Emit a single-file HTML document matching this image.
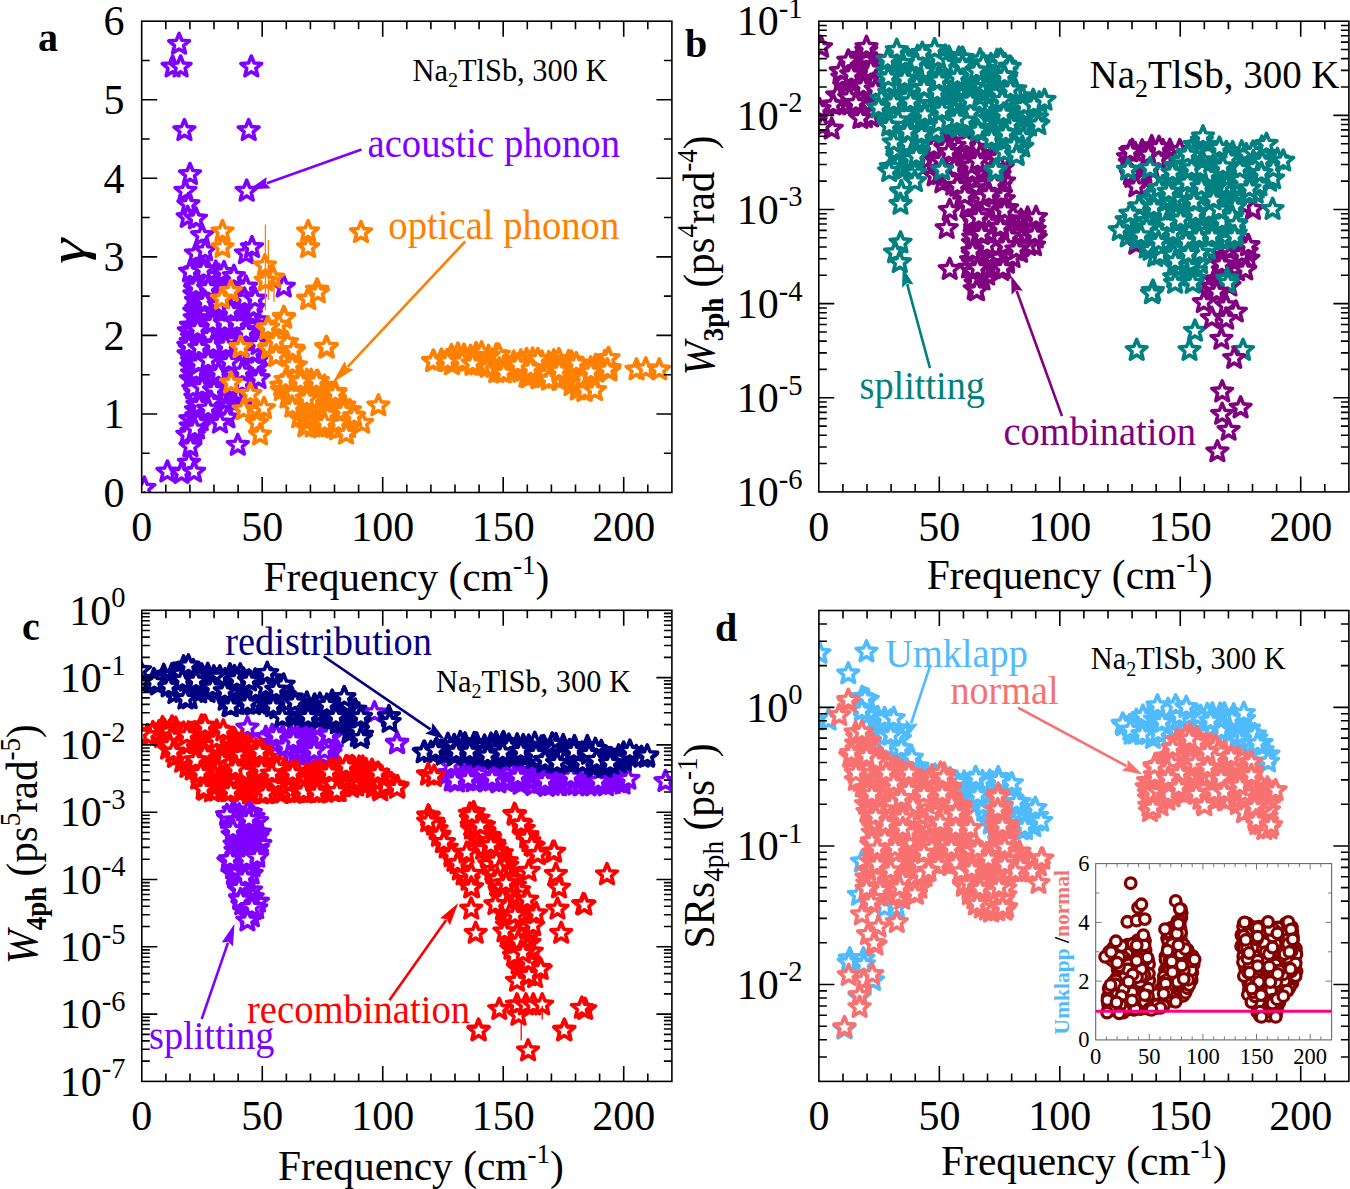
<!DOCTYPE html><html><head><meta charset="utf-8"><style>html,body{margin:0;padding:0;background:#fff;width:1350px;height:1189px;overflow:hidden}svg{display:block}</style></head><body>
<svg width="1350" height="1189" viewBox="0 0 1350 1189">
<defs><path id="st" d="M0.00,-10.90 L2.82,-3.88 L10.37,-3.37 L4.56,1.48 L6.41,8.82 L0.00,4.80 L-6.41,8.82 L-4.56,1.48 L-10.37,-3.37 L-2.82,-3.88Z"/><path id="sn" d="M0.00,-10.90 L2.82,-3.88 L10.37,-3.37 L4.56,1.48 L6.41,8.82 L0.00,4.80 L-6.41,8.82 L-4.56,1.48 L-10.37,-3.37 L-2.82,-3.88Z" fill="none"/></defs>
<rect width="1350" height="1189" fill="#fff"/>
<defs><clipPath id="clipa"><rect x="141.7" y="21.2" width="530.2" height="471.3"/></clipPath><clipPath id="clipb"><rect x="818.8" y="21.2" width="530.1000000000001" height="470.7"/></clipPath><clipPath id="clipc"><rect x="141.8" y="610.3" width="530.0999999999999" height="471.10000000000014"/></clipPath><clipPath id="clipd"><rect x="818.9" y="610.5" width="530.0000000000001" height="470.9000000000001"/></clipPath></defs>
<g clip-path="url(#clipa)">
<g fill="#fff" stroke="#7f00ff" stroke-width="3.6" stroke-linejoin="round">
<use href="#sn" x="214.1" y="414.2"/>
<use href="#sn" x="239.5" y="331.8"/>
<use href="#sn" x="208.6" y="356.9"/>
<use href="#sn" x="220.2" y="398.9"/>
<use href="#sn" x="219.5" y="403.5"/>
<use href="#st" x="195.5" y="277.2"/>
<use href="#st" x="255.9" y="361.5"/>
<use href="#st" x="206.0" y="391.5"/>
<use href="#sn" x="209.6" y="324.2"/>
<use href="#sn" x="233.9" y="377.6"/>
<use href="#sn" x="209.0" y="362.1"/>
<use href="#sn" x="201.3" y="356.6"/>
<use href="#sn" x="195.4" y="397.7"/>
<use href="#sn" x="231.4" y="383.9"/>
<use href="#st" x="201.8" y="372.3"/>
<use href="#sn" x="192.1" y="373.5"/>
<use href="#st" x="231.9" y="293.5"/>
<use href="#st" x="190.9" y="366.8"/>
<use href="#sn" x="192.1" y="361.1"/>
<use href="#st" x="195.0" y="289.1"/>
<use href="#sn" x="202.8" y="414.8"/>
<use href="#sn" x="195.1" y="281.3"/>
<use href="#sn" x="214.9" y="359.5"/>
<use href="#sn" x="215.3" y="323.0"/>
<use href="#st" x="201.4" y="408.3"/>
<use href="#st" x="190.4" y="419.5"/>
<use href="#st" x="249.7" y="348.0"/>
<use href="#sn" x="249.9" y="380.0"/>
<use href="#st" x="206.4" y="311.4"/>
<use href="#sn" x="213.2" y="337.5"/>
<use href="#st" x="256.4" y="367.8"/>
<use href="#sn" x="236.6" y="374.2"/>
<use href="#st" x="243.4" y="312.6"/>
<use href="#st" x="239.1" y="359.7"/>
<use href="#sn" x="220.6" y="288.9"/>
<use href="#st" x="214.8" y="395.5"/>
<use href="#st" x="213.1" y="299.7"/>
<use href="#sn" x="207.6" y="321.1"/>
<use href="#st" x="220.3" y="343.6"/>
<use href="#st" x="202.7" y="359.3"/>
<use href="#st" x="220.3" y="294.1"/>
<use href="#sn" x="212.2" y="306.4"/>
<use href="#sn" x="215.7" y="355.2"/>
<use href="#st" x="202.6" y="343.1"/>
<use href="#st" x="226.5" y="384.5"/>
<use href="#sn" x="203.9" y="403.1"/>
<use href="#st" x="230.2" y="362.7"/>
<use href="#sn" x="215.0" y="289.4"/>
<use href="#st" x="230.9" y="367.0"/>
<use href="#st" x="239.8" y="367.7"/>
<use href="#sn" x="250.4" y="331.6"/>
<use href="#st" x="238.2" y="356.2"/>
<use href="#st" x="220.7" y="374.5"/>
<use href="#st" x="201.1" y="366.0"/>
<use href="#st" x="231.1" y="305.4"/>
<use href="#st" x="226.4" y="302.4"/>
<use href="#sn" x="257.8" y="320.7"/>
<use href="#sn" x="230.1" y="347.9"/>
<use href="#st" x="244.3" y="390.9"/>
<use href="#st" x="250.3" y="344.6"/>
<use href="#sn" x="188.6" y="354.5"/>
<use href="#sn" x="191.0" y="326.0"/>
<use href="#st" x="244.6" y="395.7"/>
<use href="#st" x="221.4" y="308.7"/>
<use href="#st" x="238.6" y="296.2"/>
<use href="#st" x="224.9" y="359.7"/>
<use href="#sn" x="236.6" y="349.4"/>
<use href="#sn" x="203.0" y="383.0"/>
<use href="#st" x="238.3" y="378.1"/>
<use href="#st" x="218.7" y="325.2"/>
<use href="#sn" x="206.8" y="344.7"/>
<use href="#st" x="248.6" y="317.2"/>
<use href="#sn" x="207.2" y="286.9"/>
<use href="#st" x="227.5" y="307.3"/>
<use href="#st" x="208.8" y="403.2"/>
<use href="#sn" x="203.9" y="379.7"/>
<use href="#st" x="242.1" y="378.9"/>
<use href="#sn" x="214.0" y="373.7"/>
<use href="#sn" x="230.9" y="399.0"/>
<use href="#sn" x="213.6" y="329.3"/>
<use href="#st" x="242.0" y="341.6"/>
<use href="#sn" x="242.7" y="300.2"/>
<use href="#sn" x="233.3" y="317.1"/>
<use href="#sn" x="207.4" y="299.1"/>
<use href="#sn" x="237.6" y="341.3"/>
<use href="#st" x="239.0" y="395.8"/>
<use href="#sn" x="239.8" y="386.4"/>
<use href="#sn" x="257.0" y="333.1"/>
<use href="#sn" x="190.7" y="426.6"/>
<use href="#st" x="218.1" y="391.9"/>
<use href="#sn" x="212.7" y="402.9"/>
<use href="#st" x="195.3" y="339.0"/>
<use href="#st" x="209.5" y="395.8"/>
<use href="#st" x="214.1" y="386.7"/>
<use href="#st" x="196.4" y="416.4"/>
<use href="#sn" x="218.3" y="385.9"/>
<use href="#sn" x="202.7" y="317.8"/>
<use href="#sn" x="194.4" y="294.4"/>
<use href="#sn" x="197.6" y="354.6"/>
<use href="#sn" x="256.5" y="355.3"/>
<use href="#st" x="225.8" y="335.1"/>
<use href="#sn" x="244.3" y="296.4"/>
<use href="#sn" x="196.5" y="377.4"/>
<use href="#st" x="206.0" y="349.5"/>
<use href="#sn" x="233.4" y="373.2"/>
<use href="#sn" x="219.9" y="354.3"/>
<use href="#st" x="250.7" y="368.7"/>
<use href="#st" x="228.1" y="329.5"/>
<use href="#sn" x="200.5" y="347.9"/>
<use href="#st" x="249.6" y="360.4"/>
<use href="#st" x="197.1" y="428.8"/>
<use href="#sn" x="196.3" y="309.0"/>
<use href="#sn" x="230.9" y="353.4"/>
<use href="#sn" x="254.5" y="373.8"/>
<use href="#st" x="236.9" y="336.6"/>
<use href="#st" x="202.8" y="307.3"/>
<use href="#st" x="224.2" y="388.9"/>
<use href="#sn" x="219.5" y="283.9"/>
<use href="#st" x="235.9" y="392.3"/>
<use href="#st" x="189.9" y="348.7"/>
<use href="#sn" x="231.1" y="331.5"/>
<use href="#st" x="258.0" y="347.2"/>
<use href="#sn" x="203.1" y="288.9"/>
<use href="#st" x="227.8" y="319.5"/>
<use href="#sn" x="188.8" y="331.5"/>
<use href="#sn" x="241.9" y="350.5"/>
<use href="#sn" x="210.0" y="380.4"/>
<use href="#st" x="195.5" y="270.5"/>
<use href="#sn" x="248.7" y="336.7"/>
<use href="#st" x="225.1" y="353.0"/>
<use href="#sn" x="190.9" y="379.4"/>
<use href="#sn" x="225.0" y="293.4"/>
<use href="#st" x="214.5" y="366.7"/>
<use href="#sn" x="233.9" y="402.8"/>
<use href="#sn" x="243.0" y="374.9"/>
<use href="#st" x="209.4" y="282.3"/>
<use href="#sn" x="230.6" y="391.9"/>
<use href="#sn" x="203.0" y="293.7"/>
<use href="#st" x="257.1" y="338.7"/>
<use href="#sn" x="197.7" y="422.7"/>
<use href="#sn" x="225.6" y="350.1"/>
<use href="#st" x="203.5" y="397.1"/>
<use href="#sn" x="225.1" y="277.3"/>
<use href="#sn" x="196.0" y="410.3"/>
<use href="#st" x="237.8" y="305.0"/>
<use href="#st" x="232.8" y="313.4"/>
<use href="#st" x="218.8" y="275.3"/>
<use href="#st" x="250.4" y="324.4"/>
<use href="#st" x="226.0" y="371.7"/>
<use href="#sn" x="256.1" y="326.4"/>
<use href="#sn" x="231.8" y="334.9"/>
<use href="#st" x="231.8" y="290.3"/>
<use href="#sn" x="203.9" y="335.0"/>
<use href="#st" x="232.9" y="343.2"/>
<use href="#st" x="250.8" y="301.1"/>
<use href="#st" x="239.6" y="288.9"/>
<use href="#st" x="195.6" y="393.0"/>
<use href="#sn" x="220.5" y="347.0"/>
<use href="#st" x="191.6" y="432.1"/>
<use href="#sn" x="201.5" y="325.2"/>
<use href="#sn" x="225.2" y="377.4"/>
<use href="#sn" x="207.3" y="270.0"/>
<use href="#sn" x="220.1" y="299.9"/>
<use href="#sn" x="213.7" y="293.9"/>
<use href="#st" x="222.1" y="408.7"/>
<use href="#st" x="219.9" y="377.1"/>
<use href="#sn" x="203.2" y="302.9"/>
<use href="#st" x="224.1" y="401.1"/>
<use href="#st" x="207.4" y="308.8"/>
<use href="#st" x="197.8" y="343.0"/>
<use href="#sn" x="202.4" y="283.5"/>
<use href="#sn" x="220.2" y="329.4"/>
<use href="#sn" x="250.5" y="305.6"/>
<use href="#sn" x="213.5" y="281.0"/>
<use href="#st" x="196.0" y="359.4"/>
<use href="#sn" x="209.9" y="415.1"/>
<use href="#sn" x="212.2" y="343.3"/>
<use href="#st" x="220.9" y="361.8"/>
<use href="#st" x="242.3" y="360.1"/>
<use href="#st" x="208.8" y="374.4"/>
<use href="#sn" x="225.6" y="326.8"/>
<use href="#st" x="236.5" y="301.7"/>
<use href="#st" x="250.9" y="314.4"/>
<use href="#st" x="196.6" y="349.8"/>
<use href="#st" x="200.9" y="270.8"/>
<use href="#st" x="242.1" y="323.0"/>
<use href="#sn" x="225.5" y="288.5"/>
<use href="#sn" x="242.1" y="317.4"/>
<use href="#st" x="206.5" y="384.4"/>
<use href="#sn" x="196.0" y="301.0"/>
<use href="#st" x="218.1" y="320.5"/>
<use href="#sn" x="256.1" y="341.5"/>
<use href="#sn" x="233.0" y="302.1"/>
<use href="#sn" x="249.4" y="353.8"/>
<use href="#st" x="201.9" y="313.4"/>
<use href="#sn" x="215.9" y="347.2"/>
<use href="#sn" x="195.8" y="325.8"/>
<use href="#sn" x="236.4" y="317.0"/>
<use href="#st" x="218.6" y="368.0"/>
<use href="#sn" x="244.6" y="338.8"/>
<use href="#sn" x="196.8" y="385.6"/>
<use href="#sn" x="237.0" y="326.6"/>
<use href="#sn" x="242.5" y="305.9"/>
<use href="#st" x="208.5" y="331.6"/>
<use href="#st" x="227.9" y="311.0"/>
<use href="#sn" x="236.1" y="315.0"/>
<use href="#sn" x="190.7" y="342.1"/>
<use href="#st" x="249.4" y="371.3"/>
<use href="#st" x="212.1" y="321.0"/>
<use href="#sn" x="201.4" y="275.2"/>
<use href="#sn" x="194.7" y="318.3"/>
<use href="#sn" x="213.2" y="277.0"/>
<use href="#sn" x="214.2" y="311.9"/>
<use href="#sn" x="195.6" y="368.7"/>
<use href="#st" x="200.7" y="420.7"/>
<use href="#sn" x="224.9" y="396.8"/>
<use href="#sn" x="221.4" y="338.0"/>
<use href="#st" x="243.4" y="330.4"/>
<use href="#sn" x="243.9" y="356.2"/>
<use href="#sn" x="220.7" y="312.8"/>
<use href="#st" x="227.5" y="284.7"/>
<use href="#sn" x="203.8" y="333.1"/>
<use href="#st" x="197.4" y="404.9"/>
<use href="#st" x="196.1" y="372.4"/>
<use href="#st" x="209.7" y="336.2"/>
<use href="#st" x="226.5" y="368.9"/>
<use href="#sn" x="214.0" y="389.5"/>
<use href="#st" x="232.6" y="284.8"/>
<use href="#st" x="215.8" y="272.1"/>
<use href="#sn" x="212.8" y="379.8"/>
<use href="#st" x="245.8" y="365.4"/>
<use href="#sn" x="209.6" y="294.7"/>
<use href="#st" x="208.1" y="276.0"/>
<use href="#sn" x="213.4" y="409.8"/>
<use href="#st" x="242.1" y="383.4"/>
<use href="#sn" x="233.9" y="324.3"/>
<use href="#sn" x="194.3" y="431.9"/>
<use href="#sn" x="226.8" y="340.9"/>
<use href="#sn" x="192.0" y="337.5"/>
<use href="#sn" x="201.9" y="389.8"/>
<use href="#sn" x="206.0" y="410.7"/>
<use href="#st" x="197.4" y="329.3"/>
<use href="#sn" x="225.9" y="407.2"/>
<use href="#sn" x="206.8" y="367.7"/>
<use href="#sn" x="194.3" y="311.7"/>
</g>
<g fill="#fff" stroke="#7f00ff" stroke-width="3.6" stroke-linejoin="round">
<use href="#st" x="179.1" y="44.2"/>
<use href="#st" x="172.6" y="66.9"/>
<use href="#st" x="180.6" y="66.9"/>
<use href="#st" x="251.3" y="66.9"/>
<use href="#st" x="184.4" y="130.5"/>
<use href="#st" x="248.7" y="130.5"/>
<use href="#st" x="190.0" y="174.4"/>
<use href="#st" x="185.4" y="191.1"/>
<use href="#st" x="246.7" y="191.1"/>
<use href="#st" x="188.4" y="204.4"/>
<use href="#st" x="187.7" y="217.3"/>
<use href="#st" x="196.0" y="218.8"/>
<use href="#st" x="202.1" y="235.4"/>
<use href="#st" x="196.0" y="253.6"/>
<use href="#st" x="205.1" y="250.6"/>
<use href="#st" x="246.0" y="253.6"/>
<use href="#st" x="252.0" y="247.5"/>
<use href="#st" x="190.0" y="271.8"/>
<use href="#st" x="203.6" y="270.2"/>
<use href="#st" x="224.0" y="272.5"/>
<use href="#st" x="233.9" y="276.3"/>
<use href="#st" x="196.0" y="286.9"/>
<use href="#st" x="208.1" y="288.4"/>
<use href="#st" x="246.0" y="286.9"/>
<use href="#st" x="283.8" y="286.9"/>
<use href="#st" x="197.5" y="329.3"/>
<use href="#st" x="212.7" y="323.2"/>
<use href="#st" x="224.8" y="323.2"/>
<use href="#st" x="236.9" y="323.2"/>
<use href="#st" x="246.0" y="332.3"/>
<use href="#st" x="253.6" y="308.1"/>
<use href="#st" x="230.8" y="311.1"/>
<use href="#st" x="188.4" y="345.9"/>
<use href="#st" x="199.0" y="348.2"/>
<use href="#st" x="213.4" y="343.7"/>
<use href="#st" x="227.8" y="341.4"/>
<use href="#st" x="252.0" y="353.5"/>
<use href="#st" x="199.0" y="364.1"/>
<use href="#st" x="218.7" y="364.1"/>
<use href="#st" x="238.4" y="364.1"/>
<use href="#st" x="255.1" y="365.6"/>
<use href="#st" x="205.1" y="302.0"/>
<use href="#st" x="218.7" y="305.1"/>
<use href="#st" x="244.5" y="299.0"/>
<use href="#st" x="255.1" y="299.0"/>
<use href="#st" x="188.9" y="345.9"/>
<use href="#st" x="199.3" y="348.1"/>
<use href="#st" x="213.3" y="345.2"/>
<use href="#st" x="225.9" y="345.9"/>
<use href="#st" x="252.6" y="353.3"/>
<use href="#st" x="258.5" y="344.4"/>
<use href="#st" x="198.5" y="363.7"/>
<use href="#st" x="218.5" y="372.6"/>
<use href="#st" x="242.2" y="371.9"/>
<use href="#st" x="258.5" y="378.5"/>
<use href="#st" x="208.1" y="360.7"/>
<use href="#st" x="228.9" y="362.2"/>
<use href="#st" x="193.3" y="388.9"/>
<use href="#st" x="202.2" y="387.4"/>
<use href="#st" x="214.1" y="390.4"/>
<use href="#st" x="211.1" y="402.2"/>
<use href="#st" x="199.3" y="405.2"/>
<use href="#st" x="208.1" y="408.9"/>
<use href="#st" x="227.4" y="417.8"/>
<use href="#st" x="197.8" y="423.0"/>
<use href="#st" x="220.0" y="423.0"/>
<use href="#st" x="187.4" y="434.8"/>
<use href="#st" x="194.8" y="428.9"/>
<use href="#st" x="190.4" y="446.7"/>
<use href="#st" x="237.8" y="445.2"/>
<use href="#st" x="188.9" y="463.0"/>
<use href="#st" x="167.4" y="471.9"/>
<use href="#st" x="181.5" y="473.3"/>
<use href="#st" x="194.1" y="471.9"/>
<use href="#st" x="144.4" y="488.1"/>
</g>
<g fill="#fff" stroke="#ff8000" stroke-width="3.6" stroke-linejoin="round">
<use href="#sn" x="300.7" y="399.4"/>
<use href="#sn" x="348.2" y="427.4"/>
<use href="#sn" x="301.6" y="390.3"/>
<use href="#st" x="314.6" y="392.6"/>
<use href="#st" x="344.5" y="423.9"/>
<use href="#st" x="335.2" y="417.4"/>
<use href="#st" x="312.8" y="426.9"/>
<use href="#st" x="312.6" y="417.4"/>
<use href="#st" x="301.0" y="410.6"/>
<use href="#sn" x="301.7" y="386.7"/>
<use href="#sn" x="325.7" y="405.6"/>
<use href="#sn" x="311.8" y="420.1"/>
<use href="#sn" x="331.0" y="393.8"/>
<use href="#sn" x="329.0" y="426.9"/>
<use href="#sn" x="335.2" y="392.1"/>
<use href="#st" x="311.9" y="402.9"/>
<use href="#st" x="318.9" y="405.1"/>
<use href="#sn" x="322.9" y="396.5"/>
<use href="#st" x="337.1" y="429.7"/>
<use href="#sn" x="319.3" y="397.6"/>
<use href="#sn" x="323.5" y="426.3"/>
<use href="#sn" x="306.3" y="402.1"/>
<use href="#st" x="335.0" y="399.5"/>
<use href="#sn" x="311.1" y="380.3"/>
<use href="#sn" x="325.8" y="409.0"/>
<use href="#sn" x="293.1" y="399.4"/>
<use href="#sn" x="320.8" y="387.4"/>
<use href="#st" x="287.5" y="397.9"/>
<use href="#sn" x="329.8" y="411.0"/>
<use href="#sn" x="350.4" y="416.0"/>
<use href="#st" x="287.7" y="384.2"/>
<use href="#sn" x="298.7" y="403.0"/>
<use href="#st" x="305.3" y="426.8"/>
<use href="#st" x="342.4" y="427.7"/>
<use href="#st" x="342.3" y="409.9"/>
<use href="#st" x="306.8" y="380.3"/>
<use href="#sn" x="290.5" y="393.4"/>
<use href="#sn" x="307.5" y="410.0"/>
<use href="#sn" x="320.8" y="427.8"/>
<use href="#sn" x="314.7" y="385.6"/>
<use href="#sn" x="337.7" y="404.6"/>
<use href="#st" x="317.8" y="381.2"/>
<use href="#st" x="314.0" y="411.1"/>
<use href="#st" x="349.7" y="420.1"/>
<use href="#sn" x="352.7" y="416.0"/>
<use href="#st" x="329.3" y="416.1"/>
<use href="#sn" x="324.5" y="386.1"/>
<use href="#sn" x="307.1" y="421.4"/>
<use href="#st" x="294.8" y="402.8"/>
<use href="#st" x="344.2" y="405.7"/>
<use href="#sn" x="296.0" y="387.7"/>
<use href="#sn" x="317.0" y="393.5"/>
<use href="#st" x="349.9" y="410.5"/>
<use href="#sn" x="307.6" y="391.7"/>
<use href="#sn" x="344.4" y="416.9"/>
<use href="#sn" x="331.8" y="397.0"/>
<use href="#st" x="293.3" y="393.8"/>
<use href="#st" x="320.2" y="421.1"/>
<use href="#sn" x="318.6" y="415.1"/>
<use href="#sn" x="299.2" y="417.7"/>
<use href="#sn" x="326.3" y="391.8"/>
<use href="#sn" x="281.8" y="390.5"/>
<use href="#st" x="323.7" y="421.0"/>
<use href="#st" x="329.5" y="421.5"/>
<use href="#st" x="312.1" y="399.4"/>
<use href="#sn" x="308.4" y="388.0"/>
<use href="#st" x="338.4" y="423.3"/>
<use href="#sn" x="330.0" y="406.1"/>
<use href="#sn" x="301.7" y="380.3"/>
<use href="#st" x="306.8" y="398.8"/>
<use href="#sn" x="308.8" y="417.9"/>
<use href="#sn" x="337.8" y="412.0"/>
<use href="#st" x="326.6" y="414.8"/>
<use href="#sn" x="318.9" y="410.7"/>
<use href="#sn" x="281.2" y="385.8"/>
<use href="#st" x="505.3" y="362.3"/>
<use href="#sn" x="472.5" y="365.3"/>
<use href="#sn" x="548.8" y="362.6"/>
<use href="#st" x="489.4" y="359.1"/>
<use href="#st" x="580.5" y="368.0"/>
<use href="#sn" x="501.1" y="372.0"/>
<use href="#sn" x="477.5" y="364.8"/>
<use href="#sn" x="465.9" y="362.0"/>
<use href="#st" x="568.1" y="373.4"/>
<use href="#sn" x="604.9" y="361.4"/>
<use href="#st" x="596.3" y="372.1"/>
<use href="#st" x="600.9" y="366.1"/>
<use href="#st" x="568.6" y="361.6"/>
<use href="#sn" x="547.0" y="368.0"/>
<use href="#sn" x="496.4" y="354.7"/>
<use href="#sn" x="496.0" y="360.9"/>
<use href="#st" x="500.8" y="360.3"/>
<use href="#st" x="531.4" y="373.6"/>
<use href="#sn" x="441.4" y="360.0"/>
<use href="#st" x="457.9" y="354.0"/>
<use href="#st" x="505.3" y="365.1"/>
<use href="#sn" x="582.9" y="385.0"/>
<use href="#sn" x="542.9" y="366.4"/>
<use href="#st" x="498.8" y="355.0"/>
<use href="#sn" x="513.8" y="362.1"/>
<use href="#sn" x="482.6" y="360.9"/>
<use href="#sn" x="535.8" y="368.5"/>
<use href="#sn" x="532.6" y="359.0"/>
<use href="#st" x="476.2" y="353.5"/>
<use href="#st" x="496.3" y="372.6"/>
<use href="#sn" x="541.9" y="362.1"/>
<use href="#st" x="520.8" y="360.8"/>
<use href="#sn" x="511.3" y="370.8"/>
<use href="#sn" x="578.7" y="380.4"/>
<use href="#st" x="526.5" y="377.1"/>
<use href="#sn" x="574.0" y="379.1"/>
<use href="#sn" x="528.8" y="377.6"/>
<use href="#sn" x="535.0" y="373.2"/>
<use href="#st" x="571.5" y="385.5"/>
<use href="#sn" x="553.8" y="360.8"/>
<use href="#st" x="507.3" y="371.0"/>
<use href="#sn" x="609.3" y="370.8"/>
<use href="#sn" x="556.7" y="371.2"/>
<use href="#sn" x="595.7" y="365.2"/>
<use href="#sn" x="577.7" y="390.0"/>
<use href="#sn" x="577.1" y="373.9"/>
<use href="#st" x="433.2" y="361.2"/>
<use href="#st" x="584.5" y="391.4"/>
<use href="#sn" x="584.1" y="372.5"/>
<use href="#sn" x="493.6" y="367.3"/>
<use href="#sn" x="544.4" y="377.7"/>
<use href="#st" x="578.3" y="384.8"/>
<use href="#st" x="559.6" y="367.3"/>
<use href="#st" x="470.5" y="356.3"/>
<use href="#st" x="589.8" y="371.9"/>
<use href="#sn" x="555.0" y="368.7"/>
<use href="#sn" x="538.5" y="378.8"/>
<use href="#sn" x="558.9" y="359.5"/>
<use href="#st" x="609.6" y="368.3"/>
<use href="#sn" x="572.0" y="366.0"/>
<use href="#sn" x="452.6" y="360.6"/>
<use href="#sn" x="464.0" y="355.1"/>
<use href="#sn" x="451.4" y="355.6"/>
<use href="#sn" x="459.3" y="360.8"/>
<use href="#sn" x="573.4" y="371.9"/>
<use href="#st" x="544.2" y="374.2"/>
<use href="#sn" x="592.3" y="377.4"/>
<use href="#st" x="547.0" y="374.4"/>
<use href="#st" x="559.4" y="380.3"/>
<use href="#st" x="481.6" y="352.7"/>
<use href="#st" x="447.2" y="360.5"/>
<use href="#sn" x="475.3" y="360.5"/>
<use href="#st" x="487.7" y="367.2"/>
<use href="#sn" x="499.3" y="368.7"/>
<use href="#st" x="526.6" y="359.4"/>
<use href="#sn" x="555.4" y="378.2"/>
<use href="#sn" x="469.5" y="360.7"/>
<use href="#sn" x="567.8" y="377.4"/>
<use href="#st" x="537.9" y="359.4"/>
<use href="#st" x="525.1" y="366.2"/>
<use href="#st" x="548.9" y="379.9"/>
<use href="#sn" x="452.0" y="364.7"/>
<use href="#st" x="522.8" y="370.9"/>
<use href="#sn" x="514.4" y="368.0"/>
<use href="#sn" x="567.4" y="368.1"/>
<use href="#sn" x="520.6" y="372.2"/>
<use href="#st" x="530.6" y="368.7"/>
<use href="#st" x="583.5" y="378.0"/>
<use href="#sn" x="482.2" y="365.2"/>
<use href="#sn" x="488.5" y="356.2"/>
<use href="#st" x="559.2" y="370.9"/>
<use href="#sn" x="571.4" y="362.0"/>
<use href="#st" x="582.7" y="368.3"/>
<use href="#st" x="517.8" y="364.8"/>
<use href="#sn" x="590.7" y="367.8"/>
</g>
<g fill="#fff" stroke="#ff8000" stroke-width="3.6" stroke-linejoin="round">
<use href="#st" x="222.5" y="231.6"/>
<use href="#st" x="222.5" y="247.5"/>
<use href="#st" x="308.1" y="231.6"/>
<use href="#st" x="308.1" y="247.5"/>
<use href="#st" x="264.9" y="265.7"/>
<use href="#st" x="273.2" y="277.8"/>
<use href="#st" x="265.7" y="280.8"/>
<use href="#st" x="230.8" y="291.4"/>
<use href="#st" x="221.8" y="299.0"/>
<use href="#st" x="317.1" y="289.9"/>
<use href="#st" x="308.1" y="299.0"/>
<use href="#st" x="283.8" y="317.2"/>
<use href="#st" x="277.8" y="326.3"/>
<use href="#st" x="267.2" y="329.3"/>
<use href="#st" x="240.7" y="347.5"/>
<use href="#st" x="292.9" y="349.0"/>
<use href="#st" x="276.3" y="356.5"/>
<use href="#st" x="270.2" y="347.5"/>
<use href="#st" x="326.2" y="347.5"/>
<use href="#st" x="295.9" y="365.6"/>
<use href="#st" x="240.7" y="347.4"/>
<use href="#st" x="268.9" y="348.9"/>
<use href="#st" x="276.3" y="356.3"/>
<use href="#st" x="294.1" y="351.1"/>
<use href="#st" x="292.6" y="365.2"/>
<use href="#st" x="326.7" y="348.1"/>
<use href="#st" x="231.1" y="383.0"/>
<use href="#st" x="250.4" y="394.1"/>
<use href="#st" x="243.7" y="409.6"/>
<use href="#st" x="257.8" y="411.1"/>
<use href="#st" x="257.0" y="423.0"/>
<use href="#st" x="260.0" y="434.8"/>
<use href="#st" x="308.4" y="299.4"/>
<use href="#st" x="317.9" y="292.7"/>
<use href="#st" x="284.2" y="318.3"/>
<use href="#st" x="278.8" y="325.0"/>
<use href="#st" x="268.1" y="327.7"/>
<use href="#st" x="286.9" y="342.5"/>
<use href="#st" x="276.1" y="341.1"/>
<use href="#st" x="293.6" y="350.5"/>
<use href="#st" x="276.1" y="355.9"/>
<use href="#st" x="292.3" y="365.3"/>
<use href="#st" x="326.6" y="347.2"/>
<use href="#st" x="433.6" y="361.3"/>
<use href="#st" x="285.6" y="380.1"/>
<use href="#st" x="300.4" y="381.5"/>
<use href="#st" x="316.5" y="381.5"/>
<use href="#st" x="335.3" y="393.6"/>
<use href="#st" x="292.3" y="407.0"/>
<use href="#st" x="343.4" y="411.1"/>
<use href="#st" x="324.6" y="423.2"/>
<use href="#st" x="346.1" y="434.0"/>
<use href="#st" x="362.2" y="423.2"/>
<use href="#st" x="378.4" y="405.7"/>
<use href="#st" x="354.2" y="416.5"/>
<use href="#st" x="264.0" y="408.4"/>
<use href="#st" x="361.0" y="232.5"/>
<use href="#st" x="433.2" y="361.5"/>
<use href="#st" x="447.7" y="361.5"/>
<use href="#st" x="462.2" y="361.5"/>
<use href="#st" x="472.6" y="363.6"/>
<use href="#st" x="503.7" y="372.9"/>
<use href="#st" x="576.3" y="363.6"/>
<use href="#st" x="590.8" y="371.9"/>
<use href="#st" x="608.5" y="358.4"/>
<use href="#st" x="607.4" y="369.8"/>
<use href="#st" x="584.6" y="390.5"/>
<use href="#st" x="595.0" y="390.5"/>
<use href="#st" x="636.5" y="369.8"/>
<use href="#st" x="645.8" y="368.7"/>
<use href="#st" x="659.3" y="369.8"/>
</g>
</g>
<g clip-path="url(#clipb)">
<g fill="#fff" stroke="#800080" stroke-width="3.6" stroke-linejoin="round">
<use href="#st" x="871.7" y="59.0"/>
<use href="#st" x="856.4" y="88.9"/>
<use href="#st" x="852.9" y="103.4"/>
<use href="#st" x="874.0" y="99.9"/>
<use href="#st" x="869.5" y="103.9"/>
<use href="#st" x="855.9" y="64.7"/>
<use href="#st" x="842.8" y="103.6"/>
<use href="#sn" x="838.1" y="104.8"/>
<use href="#st" x="870.8" y="77.6"/>
<use href="#st" x="866.4" y="96.1"/>
<use href="#st" x="870.4" y="91.4"/>
<use href="#st" x="870.4" y="61.8"/>
<use href="#st" x="855.9" y="105.1"/>
<use href="#st" x="845.2" y="96.5"/>
<use href="#st" x="871.1" y="112.2"/>
<use href="#sn" x="844.2" y="86.1"/>
<use href="#st" x="863.1" y="111.8"/>
<use href="#st" x="864.1" y="106.8"/>
<use href="#st" x="867.2" y="69.6"/>
<use href="#sn" x="858.9" y="56.2"/>
<use href="#st" x="846.6" y="90.6"/>
<use href="#sn" x="866.2" y="65.1"/>
<use href="#st" x="862.7" y="92.7"/>
<use href="#st" x="859.8" y="82.2"/>
<use href="#sn" x="851.0" y="84.9"/>
<use href="#st" x="837.2" y="95.6"/>
<use href="#sn" x="857.8" y="98.7"/>
<use href="#st" x="864.9" y="117.6"/>
<use href="#st" x="850.1" y="93.0"/>
<use href="#sn" x="866.9" y="77.7"/>
<use href="#st" x="857.4" y="78.9"/>
<use href="#st" x="866.1" y="56.5"/>
<use href="#st" x="849.3" y="97.7"/>
<use href="#st" x="866.3" y="50.8"/>
<use href="#st" x="852.1" y="65.0"/>
<use href="#st" x="863.4" y="86.3"/>
<use href="#st" x="851.1" y="77.4"/>
<use href="#st" x="870.8" y="69.5"/>
<use href="#st" x="842.4" y="77.6"/>
<use href="#st" x="844.1" y="71.1"/>
<use href="#st" x="873.1" y="84.2"/>
<use href="#st" x="852.8" y="72.4"/>
<use href="#sn" x="857.3" y="70.7"/>
<use href="#st" x="871.2" y="116.8"/>
<use href="#st" x="982.5" y="180.5"/>
<use href="#st" x="953.3" y="185.0"/>
<use href="#sn" x="987.8" y="161.4"/>
<use href="#st" x="927.9" y="152.6"/>
<use href="#st" x="954.3" y="155.0"/>
<use href="#st" x="965.6" y="145.5"/>
<use href="#st" x="965.7" y="152.2"/>
<use href="#st" x="967.6" y="179.6"/>
<use href="#st" x="935.6" y="166.9"/>
<use href="#st" x="953.2" y="160.6"/>
<use href="#st" x="952.2" y="180.3"/>
<use href="#st" x="986.9" y="175.0"/>
<use href="#st" x="1002.8" y="167.8"/>
<use href="#st" x="993.9" y="180.7"/>
<use href="#st" x="946.6" y="164.7"/>
<use href="#st" x="962.9" y="147.5"/>
<use href="#st" x="962.1" y="151.6"/>
<use href="#st" x="976.8" y="155.4"/>
<use href="#st" x="974.8" y="191.9"/>
<use href="#st" x="962.3" y="157.8"/>
<use href="#st" x="927.8" y="147.0"/>
<use href="#st" x="928.3" y="159.1"/>
<use href="#sn" x="987.4" y="152.9"/>
<use href="#sn" x="949.0" y="172.7"/>
<use href="#st" x="983.7" y="189.1"/>
<use href="#st" x="1002.4" y="160.9"/>
<use href="#st" x="961.4" y="166.3"/>
<use href="#st" x="994.1" y="160.7"/>
<use href="#st" x="996.6" y="175.0"/>
<use href="#st" x="947.4" y="141.7"/>
<use href="#st" x="973.0" y="188.5"/>
<use href="#st" x="946.8" y="162.0"/>
<use href="#st" x="942.4" y="182.7"/>
<use href="#st" x="934.6" y="175.8"/>
<use href="#st" x="982.6" y="166.8"/>
<use href="#st" x="954.8" y="171.9"/>
<use href="#sn" x="959.4" y="139.7"/>
<use href="#st" x="968.1" y="159.3"/>
<use href="#st" x="990.1" y="167.9"/>
<use href="#st" x="958.9" y="173.3"/>
<use href="#st" x="976.8" y="148.2"/>
<use href="#sn" x="967.6" y="185.3"/>
<use href="#st" x="980.6" y="172.8"/>
<use href="#st" x="956.5" y="138.1"/>
<use href="#st" x="976.2" y="165.1"/>
<use href="#st" x="966.7" y="168.4"/>
<use href="#st" x="972.8" y="172.3"/>
<use href="#sn" x="939.9" y="174.5"/>
<use href="#st" x="941.4" y="168.7"/>
<use href="#sn" x="1000.4" y="186.0"/>
<use href="#st" x="941.1" y="141.5"/>
<use href="#st" x="934.8" y="154.1"/>
<use href="#st" x="1004.1" y="181.6"/>
<use href="#st" x="939.0" y="153.5"/>
<use href="#st" x="995.7" y="168.6"/>
<use href="#st" x="966.3" y="141.7"/>
<use href="#st" x="935.0" y="159.8"/>
<use href="#st" x="974.1" y="179.3"/>
<use href="#st" x="981.6" y="161.2"/>
<use href="#st" x="988.1" y="188.7"/>
<use href="#st" x="940.6" y="145.7"/>
<use href="#st" x="954.5" y="146.1"/>
<use href="#st" x="954.2" y="168.5"/>
<use href="#st" x="986.8" y="181.4"/>
<use href="#st" x="960.3" y="189.1"/>
<use href="#sn" x="973.5" y="158.8"/>
<use href="#st" x="969.3" y="171.4"/>
<use href="#st" x="980.5" y="155.3"/>
<use href="#st" x="960.8" y="181.2"/>
<use href="#st" x="933.9" y="147.2"/>
<use href="#st" x="945.3" y="148.0"/>
<use href="#st" x="993.1" y="187.5"/>
<use href="#st" x="949.6" y="179.6"/>
<use href="#sn" x="999.6" y="174.9"/>
<use href="#st" x="941.4" y="161.2"/>
<use href="#st" x="948.8" y="152.5"/>
<use href="#st" x="1144.4" y="172.8"/>
<use href="#st" x="1157.8" y="153.7"/>
<use href="#st" x="1142.2" y="150.8"/>
<use href="#st" x="1128.0" y="157.3"/>
<use href="#st" x="1144.0" y="157.3"/>
<use href="#st" x="1142.3" y="177.3"/>
<use href="#st" x="1138.4" y="174.2"/>
<use href="#st" x="1151.2" y="160.0"/>
<use href="#st" x="1129.9" y="163.0"/>
<use href="#st" x="1132.3" y="150.2"/>
<use href="#st" x="1151.7" y="146.6"/>
<use href="#st" x="1151.3" y="167.4"/>
<use href="#st" x="1135.2" y="153.2"/>
<use href="#st" x="1136.2" y="158.0"/>
<use href="#st" x="1145.4" y="167.2"/>
<use href="#sn" x="1152.1" y="153.2"/>
<use href="#st" x="1162.9" y="150.6"/>
<use href="#st" x="1137.6" y="178.3"/>
<use href="#st" x="1165.5" y="157.5"/>
<use href="#st" x="1158.3" y="159.0"/>
<use href="#sn" x="1169.9" y="150.3"/>
<use href="#st" x="1132.3" y="177.3"/>
<use href="#st" x="1130.9" y="174.5"/>
<use href="#st" x="1179.8" y="150.5"/>
<use href="#st" x="1137.0" y="163.7"/>
<use href="#st" x="1235.9" y="252.9"/>
<use href="#sn" x="1241.2" y="264.0"/>
<use href="#st" x="1219.2" y="280.4"/>
<use href="#st" x="1248.4" y="259.0"/>
<use href="#sn" x="1229.0" y="266.0"/>
<use href="#sn" x="1214.3" y="279.8"/>
<use href="#st" x="1208.3" y="291.6"/>
<use href="#sn" x="1227.9" y="259.3"/>
<use href="#st" x="1243.5" y="247.8"/>
<use href="#st" x="1233.7" y="243.6"/>
<use href="#sn" x="1222.9" y="270.5"/>
<use href="#st" x="1229.4" y="286.0"/>
<use href="#st" x="1229.2" y="272.5"/>
<use href="#st" x="1246.6" y="252.0"/>
<use href="#st" x="1230.1" y="247.1"/>
<use href="#st" x="1237.0" y="270.6"/>
<use href="#sn" x="1220.1" y="260.1"/>
<use href="#st" x="1228.2" y="250.2"/>
<use href="#sn" x="1227.5" y="279.7"/>
<use href="#sn" x="1220.8" y="251.1"/>
<use href="#st" x="1233.5" y="260.4"/>
<use href="#st" x="1240.3" y="258.2"/>
<use href="#sn" x="1236.3" y="267.5"/>
<use href="#st" x="1221.9" y="264.6"/>
<use href="#st" x="1241.9" y="254.3"/>
<use href="#st" x="1248.1" y="245.4"/>
<use href="#st" x="1212.4" y="287.0"/>
<use href="#st" x="1218.9" y="285.5"/>
<use href="#st" x="981.6" y="201.5"/>
<use href="#st" x="1004.2" y="241.5"/>
<use href="#st" x="974.2" y="222.2"/>
<use href="#st" x="980.4" y="227.3"/>
<use href="#st" x="979.4" y="259.3"/>
<use href="#sn" x="972.9" y="254.5"/>
<use href="#st" x="996.8" y="211.8"/>
<use href="#sn" x="982.5" y="279.8"/>
<use href="#st" x="987.2" y="206.9"/>
<use href="#st" x="961.3" y="188.3"/>
<use href="#st" x="1000.4" y="234.9"/>
<use href="#sn" x="993.0" y="199.9"/>
<use href="#st" x="988.5" y="262.9"/>
<use href="#st" x="967.1" y="192.9"/>
<use href="#st" x="973.1" y="195.7"/>
<use href="#st" x="1006.7" y="227.0"/>
<use href="#st" x="986.3" y="219.0"/>
<use href="#st" x="988.8" y="226.3"/>
<use href="#st" x="982.2" y="207.2"/>
<use href="#st" x="974.6" y="202.1"/>
<use href="#st" x="986.0" y="269.9"/>
<use href="#sn" x="973.0" y="243.2"/>
<use href="#st" x="994.2" y="242.0"/>
<use href="#st" x="982.4" y="211.8"/>
<use href="#st" x="988.2" y="252.7"/>
<use href="#sn" x="1007.0" y="208.5"/>
<use href="#sn" x="995.4" y="220.6"/>
<use href="#st" x="993.8" y="228.1"/>
<use href="#st" x="976.9" y="249.3"/>
<use href="#sn" x="988.1" y="202.5"/>
<use href="#st" x="974.7" y="289.3"/>
<use href="#st" x="983.3" y="245.7"/>
<use href="#st" x="996.3" y="208.8"/>
<use href="#sn" x="969.1" y="198.4"/>
<use href="#st" x="1001.3" y="270.5"/>
<use href="#sn" x="982.8" y="254.9"/>
<use href="#sn" x="1006.8" y="242.0"/>
<use href="#st" x="1000.0" y="255.9"/>
<use href="#st" x="1003.8" y="199.5"/>
<use href="#st" x="988.5" y="213.5"/>
<use href="#st" x="986.5" y="242.0"/>
<use href="#st" x="993.0" y="249.0"/>
<use href="#st" x="1001.6" y="220.3"/>
<use href="#st" x="973.1" y="268.4"/>
<use href="#st" x="1003.1" y="214.8"/>
<use href="#st" x="995.8" y="253.2"/>
<use href="#st" x="992.8" y="268.6"/>
<use href="#st" x="981.6" y="235.6"/>
<use href="#st" x="993.6" y="232.7"/>
<use href="#st" x="987.2" y="275.0"/>
<use href="#st" x="974.7" y="277.2"/>
<use href="#sn" x="1001.7" y="249.4"/>
<use href="#st" x="962.4" y="195.6"/>
<use href="#st" x="975.6" y="283.6"/>
<use href="#st" x="986.2" y="249.5"/>
<use href="#st" x="990.1" y="193.6"/>
<use href="#sn" x="980.8" y="243.2"/>
<use href="#st" x="994.2" y="192.3"/>
<use href="#sn" x="981.1" y="274.5"/>
<use href="#st" x="980.1" y="193.8"/>
<use href="#st" x="1006.4" y="252.7"/>
<use href="#st" x="974.7" y="213.1"/>
<use href="#st" x="980.3" y="266.5"/>
<use href="#st" x="973.7" y="205.5"/>
<use href="#st" x="999.7" y="205.2"/>
<use href="#st" x="973.0" y="263.1"/>
<use href="#st" x="975.2" y="228.0"/>
<use href="#st" x="994.6" y="188.7"/>
<use href="#st" x="1001.8" y="260.0"/>
<use href="#st" x="983.7" y="219.4"/>
<use href="#st" x="1006.7" y="220.5"/>
<use href="#st" x="1001.1" y="194.2"/>
<use href="#st" x="993.4" y="263.6"/>
<use href="#st" x="974.6" y="233.8"/>
<use href="#st" x="1000.1" y="225.4"/>
<use href="#st" x="988.7" y="233.7"/>
<use href="#sn" x="993.5" y="252.3"/>
<use href="#st" x="971.2" y="260.3"/>
<use href="#st" x="969.1" y="161.9"/>
<use href="#st" x="1016.5" y="232.4"/>
<use href="#sn" x="980.3" y="217.6"/>
<use href="#st" x="975.0" y="224.0"/>
<use href="#st" x="1016.6" y="246.4"/>
<use href="#st" x="995.2" y="263.5"/>
<use href="#st" x="995.5" y="206.6"/>
<use href="#sn" x="988.3" y="251.6"/>
<use href="#st" x="991.9" y="257.7"/>
<use href="#st" x="969.0" y="267.9"/>
<use href="#st" x="988.4" y="199.1"/>
<use href="#st" x="973.5" y="185.3"/>
<use href="#st" x="1015.1" y="250.4"/>
<use href="#st" x="1014.8" y="223.0"/>
<use href="#st" x="1019.1" y="226.8"/>
<use href="#st" x="987.0" y="169.2"/>
<use href="#st" x="982.3" y="182.0"/>
<use href="#st" x="1020.1" y="252.3"/>
<use href="#st" x="1002.8" y="243.4"/>
<use href="#st" x="1021.0" y="220.2"/>
<use href="#st" x="1005.8" y="223.6"/>
<use href="#st" x="988.4" y="178.5"/>
<use href="#st" x="985.9" y="259.7"/>
<use href="#st" x="1025.9" y="239.0"/>
<use href="#st" x="1003.1" y="252.4"/>
<use href="#st" x="982.0" y="175.4"/>
<use href="#st" x="1027.9" y="227.0"/>
<use href="#st" x="998.5" y="266.7"/>
<use href="#st" x="971.3" y="189.0"/>
<use href="#st" x="1002.2" y="211.1"/>
<use href="#st" x="1001.8" y="237.5"/>
<use href="#st" x="1026.7" y="229.6"/>
<use href="#st" x="1005.4" y="250.8"/>
<use href="#st" x="982.2" y="243.2"/>
<use href="#st" x="978.8" y="254.3"/>
<use href="#st" x="994.4" y="232.1"/>
<use href="#st" x="973.3" y="237.7"/>
<use href="#st" x="974.3" y="210.4"/>
<use href="#st" x="1014.1" y="237.3"/>
<use href="#st" x="981.9" y="164.8"/>
<use href="#st" x="994.7" y="247.3"/>
<use href="#st" x="985.8" y="236.1"/>
<use href="#sn" x="1002.2" y="230.8"/>
<use href="#st" x="980.9" y="205.3"/>
<use href="#st" x="971.9" y="202.4"/>
<use href="#st" x="974.8" y="179.0"/>
<use href="#st" x="1021.7" y="232.8"/>
<use href="#st" x="978.1" y="223.6"/>
<use href="#st" x="1021.3" y="238.5"/>
<use href="#st" x="992.0" y="183.6"/>
<use href="#st" x="1034.0" y="245.7"/>
<use href="#st" x="973.9" y="195.6"/>
<use href="#sn" x="1027.6" y="218.0"/>
<use href="#st" x="980.2" y="258.8"/>
<use href="#st" x="986.0" y="161.4"/>
<use href="#st" x="982.2" y="237.4"/>
<use href="#st" x="1035.7" y="237.9"/>
<use href="#sn" x="978.8" y="171.5"/>
<use href="#st" x="995.8" y="227.1"/>
<use href="#st" x="986.5" y="213.4"/>
<use href="#st" x="995.3" y="237.6"/>
<use href="#st" x="975.0" y="279.2"/>
<use href="#st" x="972.2" y="172.1"/>
<use href="#st" x="996.4" y="217.2"/>
<use href="#st" x="978.6" y="189.8"/>
<use href="#st" x="974.3" y="263.8"/>
<use href="#st" x="1007.0" y="260.9"/>
<use href="#st" x="998.6" y="171.1"/>
<use href="#st" x="998.7" y="224.7"/>
<use href="#st" x="995.0" y="171.3"/>
<use href="#st" x="986.5" y="218.1"/>
<use href="#st" x="1009.6" y="229.5"/>
<use href="#st" x="999.8" y="257.8"/>
<use href="#st" x="1006.8" y="263.2"/>
<use href="#st" x="1013.1" y="215.7"/>
<use href="#st" x="971.3" y="219.0"/>
<use href="#st" x="1002.3" y="219.4"/>
<use href="#st" x="972.6" y="251.5"/>
<use href="#st" x="992.0" y="162.1"/>
<use href="#st" x="992.4" y="179.4"/>
<use href="#st" x="994.1" y="211.5"/>
<use href="#st" x="968.1" y="205.1"/>
<use href="#sn" x="1007.6" y="219.6"/>
<use href="#st" x="987.5" y="206.6"/>
<use href="#st" x="1034.6" y="229.8"/>
<use href="#st" x="984.9" y="184.6"/>
<use href="#st" x="985.6" y="267.5"/>
<use href="#st" x="1012.6" y="257.5"/>
<use href="#sn" x="987.3" y="188.6"/>
<use href="#st" x="1028.2" y="245.5"/>
<use href="#st" x="973.1" y="272.0"/>
<use href="#st" x="982.7" y="197.1"/>
<use href="#st" x="1006.7" y="247.2"/>
<use href="#st" x="982.2" y="267.4"/>
<use href="#st" x="980.6" y="213.5"/>
<use href="#st" x="988.9" y="222.9"/>
<use href="#st" x="1033.4" y="223.6"/>
<use href="#st" x="987.2" y="245.4"/>
<use href="#sn" x="1021.3" y="246.5"/>
<use href="#st" x="978.7" y="232.8"/>
<use href="#st" x="1009.2" y="236.7"/>
<use href="#st" x="971.6" y="165.8"/>
<use href="#st" x="988.8" y="232.4"/>
</g>
<g fill="#fff" stroke="#800080" stroke-width="3.6" stroke-linejoin="round">
<use href="#st" x="866.5" y="47.3"/>
<use href="#st" x="848.3" y="60.9"/>
<use href="#st" x="840.7" y="71.5"/>
<use href="#st" x="851.3" y="74.5"/>
<use href="#st" x="833.2" y="104.8"/>
<use href="#st" x="831.7" y="129.0"/>
<use href="#st" x="855.9" y="103.3"/>
<use href="#st" x="863.4" y="86.6"/>
<use href="#st" x="875.6" y="89.6"/>
<use href="#st" x="860.4" y="118.4"/>
<use href="#st" x="821.1" y="47.3"/>
<use href="#st" x="819.5" y="109.3"/>
<use href="#st" x="822.6" y="126.0"/>
<use href="#st" x="996.1" y="157.8"/>
<use href="#st" x="994.5" y="183.5"/>
<use href="#st" x="1130.3" y="151.8"/>
<use href="#st" x="1148.4" y="154.8"/>
<use href="#st" x="1159.0" y="147.3"/>
<use href="#st" x="1136.3" y="186.6"/>
<use href="#st" x="1136.3" y="244.1"/>
<use href="#st" x="1245.3" y="269.9"/>
<use href="#st" x="1248.4" y="245.7"/>
<use href="#st" x="1216.6" y="292.6"/>
<use href="#st" x="1252.9" y="209.3"/>
<use href="#st" x="1243.8" y="204.8"/>
<use href="#st" x="949.7" y="210.3"/>
<use href="#st" x="946.7" y="228.4"/>
<use href="#st" x="949.7" y="269.3"/>
<use href="#st" x="977.0" y="290.5"/>
<use href="#st" x="978.5" y="267.8"/>
<use href="#st" x="1002.7" y="267.8"/>
<use href="#st" x="981.5" y="234.5"/>
<use href="#st" x="1001.2" y="226.9"/>
<use href="#st" x="1005.8" y="245.1"/>
<use href="#st" x="1004.3" y="210.3"/>
<use href="#st" x="989.1" y="193.6"/>
<use href="#st" x="964.9" y="195.1"/>
<use href="#st" x="957.3" y="186.1"/>
<use href="#st" x="1036.0" y="217.3"/>
<use href="#st" x="1034.7" y="234.8"/>
<use href="#st" x="1004.4" y="210.6"/>
<use href="#st" x="1000.4" y="227.4"/>
<use href="#st" x="1005.8" y="245.5"/>
<use href="#st" x="1016.5" y="249.6"/>
<use href="#st" x="981.5" y="234.1"/>
<use href="#st" x="978.8" y="217.3"/>
<use href="#st" x="977.5" y="268.4"/>
<use href="#st" x="1003.1" y="268.4"/>
<use href="#st" x="976.8" y="290.6"/>
<use href="#st" x="988.9" y="194.4"/>
<use href="#st" x="964.7" y="195.8"/>
<use href="#st" x="977.5" y="161.4"/>
<use href="#st" x="997.7" y="158.1"/>
</g>
<g fill="#fff" stroke="#008080" stroke-width="3.6" stroke-linejoin="round">
<use href="#st" x="903.5" y="148.3"/>
<use href="#st" x="932.1" y="69.7"/>
<use href="#sn" x="952.5" y="111.1"/>
<use href="#st" x="955.7" y="114.6"/>
<use href="#sn" x="977.3" y="114.3"/>
<use href="#st" x="973.4" y="93.2"/>
<use href="#st" x="943.7" y="119.6"/>
<use href="#st" x="997.0" y="126.7"/>
<use href="#sn" x="926.2" y="79.4"/>
<use href="#st" x="889.2" y="93.1"/>
<use href="#st" x="904.6" y="130.8"/>
<use href="#st" x="945.7" y="69.4"/>
<use href="#st" x="929.2" y="77.8"/>
<use href="#st" x="903.7" y="137.2"/>
<use href="#st" x="950.3" y="87.0"/>
<use href="#st" x="922.3" y="140.1"/>
<use href="#st" x="918.8" y="107.5"/>
<use href="#st" x="897.2" y="157.5"/>
<use href="#st" x="956.3" y="65.9"/>
<use href="#sn" x="931.4" y="90.2"/>
<use href="#st" x="918.0" y="141.6"/>
<use href="#st" x="990.9" y="64.5"/>
<use href="#sn" x="917.2" y="70.5"/>
<use href="#st" x="895.8" y="103.4"/>
<use href="#st" x="945.9" y="76.6"/>
<use href="#st" x="891.4" y="99.8"/>
<use href="#st" x="955.7" y="106.2"/>
<use href="#st" x="903.5" y="85.2"/>
<use href="#st" x="910.0" y="69.3"/>
<use href="#sn" x="938.4" y="113.0"/>
<use href="#sn" x="930.0" y="116.9"/>
<use href="#sn" x="990.3" y="125.5"/>
<use href="#sn" x="896.3" y="97.6"/>
<use href="#st" x="910.2" y="139.5"/>
<use href="#st" x="925.1" y="120.6"/>
<use href="#st" x="937.7" y="63.1"/>
<use href="#st" x="993.5" y="133.9"/>
<use href="#st" x="932.6" y="132.9"/>
<use href="#st" x="998.2" y="98.7"/>
<use href="#st" x="992.2" y="114.2"/>
<use href="#st" x="999.4" y="110.1"/>
<use href="#st" x="938.8" y="103.5"/>
<use href="#sn" x="983.7" y="91.7"/>
<use href="#st" x="891.8" y="117.5"/>
<use href="#st" x="919.2" y="118.9"/>
<use href="#st" x="991.0" y="106.9"/>
<use href="#st" x="990.7" y="78.6"/>
<use href="#st" x="945.5" y="98.6"/>
<use href="#st" x="898.2" y="92.7"/>
<use href="#st" x="1006.4" y="144.6"/>
<use href="#st" x="957.1" y="86.3"/>
<use href="#st" x="930.4" y="96.3"/>
<use href="#sn" x="980.2" y="63.5"/>
<use href="#st" x="896.6" y="150.8"/>
<use href="#st" x="1006.5" y="76.3"/>
<use href="#sn" x="949.0" y="57.3"/>
<use href="#st" x="997.0" y="79.4"/>
<use href="#st" x="936.2" y="100.2"/>
<use href="#st" x="966.6" y="84.9"/>
<use href="#st" x="950.3" y="96.5"/>
<use href="#st" x="998.1" y="87.4"/>
<use href="#st" x="882.3" y="106.8"/>
<use href="#st" x="931.4" y="84.6"/>
<use href="#st" x="951.4" y="103.3"/>
<use href="#st" x="992.9" y="84.5"/>
<use href="#st" x="991.2" y="90.8"/>
<use href="#sn" x="965.4" y="72.3"/>
<use href="#sn" x="904.8" y="91.3"/>
<use href="#st" x="911.9" y="168.1"/>
<use href="#sn" x="959.0" y="58.0"/>
<use href="#st" x="895.4" y="72.0"/>
<use href="#sn" x="945.4" y="56.1"/>
<use href="#st" x="1005.7" y="121.1"/>
<use href="#st" x="951.9" y="66.4"/>
<use href="#st" x="917.6" y="56.2"/>
<use href="#st" x="910.9" y="90.8"/>
<use href="#st" x="888.4" y="113.7"/>
<use href="#st" x="963.8" y="114.0"/>
<use href="#st" x="965.5" y="104.7"/>
<use href="#st" x="971.5" y="127.7"/>
<use href="#st" x="969.8" y="106.4"/>
<use href="#st" x="923.5" y="125.0"/>
<use href="#st" x="958.5" y="72.9"/>
<use href="#st" x="915.4" y="145.3"/>
<use href="#st" x="1000.9" y="117.7"/>
<use href="#st" x="955.6" y="98.7"/>
<use href="#st" x="963.6" y="77.8"/>
<use href="#st" x="962.7" y="58.1"/>
<use href="#st" x="925.2" y="91.2"/>
<use href="#st" x="911.7" y="105.5"/>
<use href="#st" x="983.3" y="131.7"/>
<use href="#st" x="970.6" y="118.3"/>
<use href="#st" x="944.8" y="125.2"/>
<use href="#st" x="896.2" y="110.8"/>
<use href="#st" x="916.2" y="79.6"/>
<use href="#st" x="930.8" y="128.1"/>
<use href="#st" x="902.7" y="160.5"/>
<use href="#st" x="924.9" y="105.6"/>
<use href="#st" x="897.4" y="56.5"/>
<use href="#st" x="963.5" y="90.3"/>
<use href="#st" x="1006.8" y="97.7"/>
<use href="#st" x="951.6" y="78.1"/>
<use href="#sn" x="958.6" y="127.6"/>
<use href="#st" x="979.5" y="76.6"/>
<use href="#sn" x="939.3" y="120.9"/>
<use href="#sn" x="904.9" y="126.3"/>
<use href="#st" x="996.4" y="139.7"/>
<use href="#st" x="905.4" y="151.4"/>
<use href="#st" x="983.1" y="79.7"/>
<use href="#st" x="938.1" y="69.5"/>
<use href="#st" x="984.9" y="97.9"/>
<use href="#st" x="894.8" y="66.0"/>
<use href="#sn" x="1004.4" y="90.7"/>
<use href="#st" x="1000.5" y="91.0"/>
<use href="#st" x="916.7" y="132.7"/>
<use href="#sn" x="890.5" y="66.3"/>
<use href="#sn" x="904.1" y="105.1"/>
<use href="#st" x="921.8" y="63.7"/>
<use href="#st" x="992.8" y="99.6"/>
<use href="#st" x="932.8" y="66.7"/>
<use href="#sn" x="965.0" y="123.7"/>
<use href="#sn" x="904.4" y="168.8"/>
<use href="#st" x="887.8" y="71.5"/>
<use href="#st" x="993.6" y="72.2"/>
<use href="#st" x="965.7" y="98.4"/>
<use href="#st" x="916.8" y="153.6"/>
<use href="#st" x="936.6" y="131.1"/>
<use href="#sn" x="905.5" y="70.8"/>
<use href="#st" x="1003.9" y="110.6"/>
<use href="#sn" x="959.3" y="93.4"/>
<use href="#st" x="951.0" y="70.3"/>
<use href="#st" x="985.9" y="113.4"/>
<use href="#st" x="985.9" y="105.6"/>
<use href="#st" x="997.1" y="60.2"/>
<use href="#st" x="908.3" y="144.8"/>
<use href="#st" x="922.9" y="57.3"/>
<use href="#st" x="942.1" y="93.7"/>
<use href="#st" x="938.7" y="123.5"/>
<use href="#st" x="923.8" y="71.3"/>
<use href="#st" x="985.6" y="121.4"/>
<use href="#st" x="897.7" y="85.4"/>
<use href="#st" x="909.7" y="127.9"/>
<use href="#st" x="916.9" y="98.5"/>
<use href="#sn" x="910.2" y="66.2"/>
<use href="#st" x="932.9" y="55.9"/>
<use href="#st" x="881.4" y="99.1"/>
<use href="#sn" x="976.0" y="89.8"/>
<use href="#st" x="983.4" y="86.2"/>
<use href="#st" x="911.7" y="120.7"/>
<use href="#st" x="895.2" y="134.4"/>
<use href="#st" x="911.7" y="153.6"/>
<use href="#st" x="979.3" y="126.8"/>
<use href="#st" x="972.8" y="66.3"/>
<use href="#st" x="937.8" y="79.5"/>
<use href="#st" x="897.4" y="165.8"/>
<use href="#st" x="894.6" y="77.6"/>
<use href="#st" x="914.9" y="112.3"/>
<use href="#st" x="908.5" y="60.0"/>
<use href="#sn" x="986.9" y="70.6"/>
<use href="#st" x="979.4" y="103.2"/>
<use href="#st" x="1004.2" y="124.5"/>
<use href="#st" x="915.7" y="90.6"/>
<use href="#st" x="902.6" y="96.6"/>
<use href="#sn" x="953.0" y="124.2"/>
<use href="#st" x="984.9" y="124.2"/>
<use href="#st" x="912.1" y="112.3"/>
<use href="#st" x="890.8" y="167.3"/>
<use href="#st" x="909.7" y="85.1"/>
<use href="#st" x="945.4" y="64.0"/>
<use href="#st" x="924.5" y="100.2"/>
<use href="#st" x="980.1" y="59.8"/>
<use href="#st" x="889.3" y="84.1"/>
<use href="#st" x="922.3" y="53.2"/>
<use href="#st" x="1005.4" y="132.7"/>
<use href="#st" x="929.8" y="113.3"/>
<use href="#st" x="979.4" y="118.3"/>
<use href="#st" x="1006.6" y="71.2"/>
<use href="#st" x="962.5" y="65.3"/>
<use href="#st" x="923.3" y="86.7"/>
<use href="#sn" x="1004.7" y="141.5"/>
<use href="#st" x="983.2" y="64.0"/>
<use href="#st" x="998.6" y="131.6"/>
<use href="#st" x="957.4" y="77.1"/>
<use href="#st" x="996.8" y="64.9"/>
<use href="#st" x="949.0" y="120.7"/>
<use href="#sn" x="931.8" y="104.5"/>
<use href="#st" x="942.6" y="107.1"/>
<use href="#st" x="1004.0" y="152.5"/>
<use href="#st" x="915.9" y="62.7"/>
<use href="#st" x="884.2" y="111.7"/>
<use href="#st" x="912.2" y="76.8"/>
<use href="#st" x="905.3" y="58.8"/>
<use href="#st" x="908.2" y="97.0"/>
<use href="#sn" x="902.6" y="63.5"/>
<use href="#st" x="941.9" y="110.9"/>
<use href="#st" x="911.7" y="159.0"/>
<use href="#st" x="973.9" y="76.5"/>
<use href="#sn" x="915.5" y="126.5"/>
<use href="#st" x="936.3" y="86.6"/>
<use href="#st" x="942.2" y="85.9"/>
<use href="#st" x="978.0" y="130.9"/>
<use href="#st" x="970.6" y="112.8"/>
<use href="#st" x="999.7" y="69.1"/>
<use href="#st" x="991.6" y="138.4"/>
<use href="#st" x="972.2" y="72.7"/>
<use href="#st" x="965.4" y="120.9"/>
<use href="#st" x="957.0" y="118.9"/>
<use href="#st" x="998.3" y="104.2"/>
<use href="#st" x="888.3" y="77.6"/>
<use href="#st" x="905.3" y="119.2"/>
<use href="#st" x="891.7" y="106.3"/>
<use href="#st" x="937.3" y="92.6"/>
<use href="#sn" x="896.8" y="127.0"/>
<use href="#sn" x="989.8" y="118.8"/>
<use href="#st" x="921.5" y="134.4"/>
<use href="#st" x="904.7" y="114.2"/>
<use href="#sn" x="950.7" y="92.1"/>
<use href="#st" x="898.0" y="120.7"/>
<use href="#st" x="970.0" y="100.9"/>
<use href="#st" x="916.8" y="85.5"/>
<use href="#st" x="1005.1" y="64.6"/>
<use href="#sn" x="980.2" y="96.9"/>
<use href="#st" x="904.7" y="79.0"/>
<use href="#st" x="980.5" y="85.2"/>
<use href="#st" x="938.2" y="58.4"/>
<use href="#st" x="910.8" y="131.3"/>
<use href="#sn" x="973.7" y="87.3"/>
<use href="#st" x="976.6" y="70.8"/>
<use href="#st" x="1007.0" y="106.4"/>
<use href="#st" x="924.8" y="114.5"/>
<use href="#sn" x="1004.6" y="84.1"/>
<use href="#sn" x="1029.1" y="125.9"/>
<use href="#sn" x="1004.4" y="96.7"/>
<use href="#st" x="1008.8" y="95.8"/>
<use href="#st" x="1017.6" y="146.4"/>
<use href="#st" x="998.5" y="71.9"/>
<use href="#st" x="1029.0" y="105.0"/>
<use href="#sn" x="1001.4" y="76.5"/>
<use href="#st" x="1008.8" y="133.9"/>
<use href="#st" x="1011.4" y="92.2"/>
<use href="#st" x="1036.0" y="122.8"/>
<use href="#st" x="1002.8" y="111.0"/>
<use href="#st" x="1015.1" y="131.3"/>
<use href="#st" x="1036.9" y="117.7"/>
<use href="#st" x="1018.3" y="136.8"/>
<use href="#sn" x="1019.0" y="119.2"/>
<use href="#st" x="1010.0" y="110.7"/>
<use href="#st" x="1017.8" y="126.1"/>
<use href="#sn" x="1023.1" y="131.4"/>
<use href="#st" x="998.7" y="92.8"/>
<use href="#st" x="1002.4" y="130.3"/>
<use href="#st" x="1022.2" y="96.8"/>
<use href="#st" x="1015.5" y="99.2"/>
<use href="#st" x="1003.1" y="126.7"/>
<use href="#st" x="1023.4" y="127.4"/>
<use href="#st" x="1012.5" y="120.1"/>
<use href="#st" x="1030.6" y="109.2"/>
<use href="#st" x="1009.4" y="138.8"/>
<use href="#st" x="1002.1" y="62.1"/>
<use href="#st" x="1023.1" y="137.3"/>
<use href="#st" x="1018.2" y="106.3"/>
<use href="#st" x="1017.8" y="111.6"/>
<use href="#st" x="1012.5" y="143.5"/>
<use href="#st" x="1030.4" y="118.1"/>
<use href="#st" x="1023.1" y="111.3"/>
<use href="#sn" x="1025.9" y="116.8"/>
<use href="#st" x="1033.2" y="100.2"/>
<use href="#st" x="1005.0" y="90.3"/>
<use href="#sn" x="1016.6" y="154.2"/>
<use href="#st" x="1005.7" y="70.4"/>
<use href="#st" x="1005.9" y="119.5"/>
<use href="#st" x="1039.3" y="102.7"/>
<use href="#st" x="1015.3" y="89.6"/>
<use href="#sn" x="1010.7" y="103.4"/>
<use href="#st" x="1010.7" y="124.0"/>
<use href="#sn" x="1022.3" y="146.9"/>
<use href="#st" x="1023.9" y="106.0"/>
<use href="#st" x="1004.6" y="103.3"/>
</g>
<g fill="#fff" stroke="#008080" stroke-width="3.6" stroke-linejoin="round">
<use href="#st" x="896.8" y="50.3"/>
<use href="#st" x="934.6" y="49.5"/>
<use href="#st" x="887.7" y="60.1"/>
<use href="#st" x="878.6" y="107.8"/>
<use href="#st" x="889.2" y="126.0"/>
<use href="#st" x="893.7" y="142.6"/>
<use href="#st" x="907.4" y="132.0"/>
<use href="#st" x="916.4" y="156.3"/>
<use href="#st" x="889.2" y="171.4"/>
<use href="#st" x="914.9" y="172.9"/>
<use href="#st" x="942.2" y="169.9"/>
<use href="#st" x="995.2" y="171.4"/>
<use href="#st" x="901.3" y="192.6"/>
<use href="#st" x="939.1" y="80.6"/>
<use href="#st" x="924.0" y="88.1"/>
<use href="#st" x="893.7" y="102.5"/>
<use href="#st" x="910.4" y="101.8"/>
<use href="#st" x="1000.6" y="60.1"/>
<use href="#st" x="1009.7" y="66.9"/>
<use href="#st" x="1004.4" y="76.0"/>
<use href="#st" x="1010.4" y="89.6"/>
<use href="#st" x="1002.1" y="100.2"/>
<use href="#st" x="1003.6" y="113.9"/>
<use href="#st" x="1005.9" y="133.6"/>
<use href="#st" x="1014.2" y="145.7"/>
<use href="#st" x="996.1" y="169.9"/>
<use href="#st" x="1038.4" y="124.5"/>
<use href="#st" x="1033.9" y="104.8"/>
<use href="#st" x="1044.5" y="100.2"/>
<use href="#st" x="901.3" y="191.4"/>
<use href="#st" x="900.5" y="204.2"/>
<use href="#st" x="900.5" y="242.8"/>
<use href="#st" x="895.2" y="252.7"/>
<use href="#st" x="899.8" y="262.5"/>
<use href="#st" x="914.9" y="181.5"/>
<use href="#st" x="995.7" y="170.2"/>
<use href="#st" x="1016.5" y="155.4"/>
</g>
<g fill="#fff" stroke="#008080" stroke-width="3.6" stroke-linejoin="round">
<use href="#st" x="1215.2" y="154.1"/>
<use href="#st" x="1221.3" y="237.2"/>
<use href="#st" x="1195.7" y="242.0"/>
<use href="#st" x="1248.9" y="174.1"/>
<use href="#st" x="1222.5" y="159.3"/>
<use href="#st" x="1236.0" y="201.0"/>
<use href="#sn" x="1202.9" y="208.4"/>
<use href="#st" x="1166.3" y="208.0"/>
<use href="#st" x="1179.9" y="267.7"/>
<use href="#sn" x="1186.8" y="264.3"/>
<use href="#st" x="1221.3" y="180.1"/>
<use href="#st" x="1201.6" y="172.3"/>
<use href="#st" x="1126.9" y="228.9"/>
<use href="#st" x="1269.1" y="181.1"/>
<use href="#st" x="1180.0" y="168.3"/>
<use href="#st" x="1154.0" y="243.2"/>
<use href="#st" x="1139.2" y="227.9"/>
<use href="#st" x="1232.6" y="152.5"/>
<use href="#st" x="1172.1" y="229.0"/>
<use href="#sn" x="1229.7" y="237.1"/>
<use href="#st" x="1161.1" y="202.3"/>
<use href="#sn" x="1168.4" y="236.4"/>
<use href="#st" x="1199.0" y="246.7"/>
<use href="#st" x="1277.4" y="159.3"/>
<use href="#st" x="1206.1" y="222.7"/>
<use href="#st" x="1181.2" y="257.6"/>
<use href="#st" x="1207.9" y="230.1"/>
<use href="#st" x="1194.7" y="209.2"/>
<use href="#st" x="1188.6" y="206.0"/>
<use href="#sn" x="1181.8" y="182.2"/>
<use href="#st" x="1130.7" y="228.6"/>
<use href="#sn" x="1175.6" y="212.6"/>
<use href="#st" x="1246.3" y="158.4"/>
<use href="#st" x="1193.1" y="246.6"/>
<use href="#st" x="1143.9" y="214.3"/>
<use href="#st" x="1222.5" y="191.8"/>
<use href="#st" x="1262.2" y="178.6"/>
<use href="#st" x="1267.5" y="154.4"/>
<use href="#sn" x="1185.1" y="232.5"/>
<use href="#st" x="1151.4" y="216.2"/>
<use href="#st" x="1268.8" y="173.0"/>
<use href="#st" x="1147.5" y="208.5"/>
<use href="#st" x="1193.7" y="257.4"/>
<use href="#st" x="1159.1" y="209.5"/>
<use href="#st" x="1228.0" y="207.4"/>
<use href="#st" x="1187.5" y="194.8"/>
<use href="#st" x="1204.9" y="243.9"/>
<use href="#st" x="1200.9" y="243.0"/>
<use href="#st" x="1219.0" y="213.9"/>
<use href="#st" x="1182.0" y="208.7"/>
<use href="#st" x="1198.6" y="222.3"/>
<use href="#sn" x="1158.7" y="193.0"/>
<use href="#st" x="1179.7" y="171.4"/>
<use href="#st" x="1175.0" y="219.0"/>
<use href="#st" x="1194.8" y="174.9"/>
<use href="#st" x="1232.7" y="193.1"/>
<use href="#st" x="1213.7" y="236.1"/>
<use href="#st" x="1147.2" y="242.2"/>
<use href="#st" x="1207.9" y="145.4"/>
<use href="#st" x="1130.5" y="223.6"/>
<use href="#st" x="1242.2" y="192.2"/>
<use href="#sn" x="1236.5" y="165.8"/>
<use href="#sn" x="1179.0" y="241.7"/>
<use href="#st" x="1246.7" y="165.2"/>
<use href="#sn" x="1188.1" y="153.2"/>
<use href="#st" x="1198.1" y="152.1"/>
<use href="#st" x="1223.2" y="171.8"/>
<use href="#st" x="1240.3" y="186.2"/>
<use href="#st" x="1225.4" y="220.9"/>
<use href="#st" x="1178.5" y="202.4"/>
<use href="#st" x="1273.1" y="178.7"/>
<use href="#st" x="1133.6" y="215.4"/>
<use href="#st" x="1208.1" y="180.3"/>
<use href="#st" x="1162.1" y="228.3"/>
<use href="#st" x="1234.1" y="230.2"/>
<use href="#st" x="1186.8" y="175.5"/>
<use href="#st" x="1228.3" y="226.6"/>
<use href="#st" x="1187.3" y="249.3"/>
<use href="#st" x="1242.3" y="157.9"/>
<use href="#sn" x="1188.6" y="273.3"/>
<use href="#st" x="1147.9" y="200.0"/>
<use href="#st" x="1175.4" y="166.3"/>
<use href="#st" x="1246.6" y="181.5"/>
<use href="#st" x="1185.1" y="216.1"/>
<use href="#st" x="1150.6" y="250.1"/>
<use href="#sn" x="1193.0" y="230.4"/>
<use href="#st" x="1179.6" y="230.1"/>
<use href="#st" x="1139.1" y="222.7"/>
<use href="#st" x="1220.6" y="225.8"/>
<use href="#st" x="1256.1" y="174.0"/>
<use href="#st" x="1234.9" y="223.5"/>
<use href="#sn" x="1261.3" y="169.0"/>
<use href="#st" x="1172.6" y="192.6"/>
<use href="#st" x="1188.4" y="200.1"/>
<use href="#st" x="1255.7" y="193.2"/>
<use href="#st" x="1267.2" y="161.3"/>
<use href="#sn" x="1261.9" y="147.1"/>
<use href="#st" x="1268.1" y="164.7"/>
<use href="#st" x="1153.0" y="223.5"/>
<use href="#st" x="1187.8" y="186.7"/>
<use href="#st" x="1200.5" y="144.2"/>
<use href="#st" x="1199.6" y="227.9"/>
<use href="#st" x="1164.9" y="247.7"/>
<use href="#st" x="1206.5" y="232.5"/>
<use href="#st" x="1173.9" y="243.7"/>
<use href="#st" x="1167.9" y="253.9"/>
<use href="#st" x="1235.2" y="175.0"/>
<use href="#st" x="1200.1" y="263.4"/>
<use href="#st" x="1207.2" y="194.3"/>
<use href="#st" x="1227.9" y="216.6"/>
<use href="#sn" x="1192.2" y="195.8"/>
<use href="#sn" x="1216.2" y="181.0"/>
<use href="#st" x="1241.7" y="151.7"/>
<use href="#st" x="1227.7" y="239.3"/>
<use href="#st" x="1165.4" y="240.0"/>
<use href="#st" x="1209.5" y="164.9"/>
<use href="#st" x="1127.7" y="236.8"/>
<use href="#sn" x="1211.7" y="226.0"/>
<use href="#st" x="1241.6" y="175.7"/>
<use href="#st" x="1205.9" y="185.7"/>
<use href="#st" x="1212.3" y="239.8"/>
<use href="#sn" x="1209.3" y="161.9"/>
<use href="#st" x="1229.8" y="181.6"/>
<use href="#st" x="1172.8" y="179.2"/>
<use href="#st" x="1153.1" y="232.6"/>
<use href="#st" x="1178.9" y="189.5"/>
<use href="#st" x="1182.2" y="192.9"/>
<use href="#st" x="1199.0" y="216.7"/>
<use href="#st" x="1226.0" y="194.5"/>
<use href="#st" x="1226.3" y="152.4"/>
<use href="#st" x="1160.5" y="222.9"/>
<use href="#st" x="1179.5" y="250.5"/>
<use href="#st" x="1195.9" y="270.7"/>
<use href="#st" x="1215.1" y="158.8"/>
<use href="#st" x="1193.6" y="159.2"/>
<use href="#st" x="1234.2" y="162.4"/>
<use href="#st" x="1179.4" y="213.7"/>
<use href="#st" x="1181.6" y="236.2"/>
<use href="#st" x="1246.3" y="154.5"/>
<use href="#st" x="1199.8" y="201.8"/>
<use href="#sn" x="1193.5" y="178.8"/>
<use href="#st" x="1260.6" y="155.1"/>
<use href="#st" x="1175.0" y="250.0"/>
<use href="#st" x="1234.8" y="186.4"/>
<use href="#st" x="1209.0" y="202.1"/>
<use href="#st" x="1233.2" y="179.7"/>
<use href="#sn" x="1215.2" y="167.4"/>
<use href="#st" x="1155.2" y="256.5"/>
<use href="#st" x="1225.8" y="174.7"/>
<use href="#st" x="1178.3" y="276.2"/>
<use href="#st" x="1257.0" y="182.6"/>
<use href="#sn" x="1216.0" y="193.9"/>
<use href="#st" x="1201.6" y="178.4"/>
<use href="#st" x="1139.2" y="214.3"/>
<use href="#st" x="1165.6" y="199.2"/>
<use href="#st" x="1213.4" y="175.2"/>
<use href="#st" x="1240.5" y="180.2"/>
<use href="#st" x="1167.5" y="181.9"/>
<use href="#st" x="1165.2" y="228.7"/>
<use href="#st" x="1148.1" y="221.4"/>
<use href="#sn" x="1226.3" y="203.1"/>
<use href="#st" x="1137.5" y="239.5"/>
<use href="#sn" x="1194.1" y="220.9"/>
<use href="#st" x="1239.6" y="169.2"/>
<use href="#st" x="1175.6" y="266.8"/>
<use href="#st" x="1188.9" y="161.4"/>
<use href="#sn" x="1222.3" y="199.9"/>
<use href="#st" x="1226.6" y="185.9"/>
<use href="#sn" x="1256.7" y="188.0"/>
<use href="#st" x="1205.5" y="205.6"/>
<use href="#sn" x="1133.5" y="233.1"/>
<use href="#st" x="1181.4" y="161.1"/>
<use href="#st" x="1187.6" y="229.8"/>
<use href="#st" x="1145.2" y="233.7"/>
<use href="#st" x="1207.8" y="175.0"/>
<use href="#st" x="1195.3" y="236.4"/>
<use href="#st" x="1186.6" y="219.8"/>
<use href="#st" x="1186.0" y="241.8"/>
<use href="#st" x="1172.9" y="233.0"/>
<use href="#st" x="1200.2" y="169.1"/>
<use href="#st" x="1175.2" y="186.9"/>
<use href="#st" x="1160.0" y="255.0"/>
<use href="#st" x="1166.4" y="186.8"/>
<use href="#st" x="1161.4" y="216.0"/>
<use href="#st" x="1215.2" y="216.8"/>
<use href="#st" x="1161.6" y="246.4"/>
<use href="#st" x="1249.5" y="193.6"/>
<use href="#sn" x="1146.7" y="247.9"/>
<use href="#st" x="1235.0" y="206.9"/>
<use href="#st" x="1253.0" y="152.1"/>
<use href="#sn" x="1253.4" y="161.5"/>
<use href="#sn" x="1194.4" y="145.1"/>
<use href="#st" x="1173.3" y="254.9"/>
<use href="#st" x="1199.2" y="236.6"/>
<use href="#st" x="1165.0" y="213.4"/>
<use href="#st" x="1255.7" y="167.3"/>
<use href="#st" x="1187.1" y="164.6"/>
<use href="#sn" x="1215.9" y="219.7"/>
<use href="#st" x="1192.0" y="189.1"/>
<use href="#st" x="1199.0" y="192.8"/>
<use href="#st" x="1174.2" y="200.2"/>
<use href="#st" x="1187.4" y="182.8"/>
<use href="#st" x="1235.7" y="233.6"/>
<use href="#st" x="1166.8" y="222.9"/>
<use href="#st" x="1152.7" y="228.3"/>
<use href="#st" x="1273.4" y="169.0"/>
<use href="#sn" x="1229.2" y="165.8"/>
<use href="#st" x="1159.0" y="232.8"/>
<use href="#st" x="1213.3" y="206.5"/>
<use href="#st" x="1208.0" y="249.1"/>
<use href="#st" x="1222.1" y="221.7"/>
<use href="#st" x="1262.3" y="161.8"/>
<use href="#st" x="1201.5" y="187.1"/>
<use href="#sn" x="1221.7" y="239.9"/>
<use href="#st" x="1191.7" y="168.6"/>
<use href="#st" x="1208.9" y="212.4"/>
<use href="#st" x="1199.8" y="253.0"/>
<use href="#st" x="1158.4" y="242.0"/>
<use href="#sn" x="1173.5" y="209.8"/>
<use href="#st" x="1153.1" y="199.0"/>
<use href="#st" x="1155.2" y="194.7"/>
<use href="#st" x="1208.6" y="153.9"/>
<use href="#st" x="1221.1" y="153.7"/>
<use href="#st" x="1139.2" y="206.6"/>
<use href="#st" x="1232.3" y="216.6"/>
<use href="#st" x="1180.5" y="219.6"/>
<use href="#st" x="1228.5" y="158.6"/>
<use href="#st" x="1195.7" y="213.6"/>
<use href="#st" x="1259.5" y="185.7"/>
<use href="#st" x="1146.6" y="227.7"/>
<use href="#st" x="1249.5" y="188.6"/>
<use href="#st" x="1195.0" y="151.9"/>
<use href="#st" x="1188.8" y="267.1"/>
<use href="#st" x="1182.0" y="260.7"/>
<use href="#st" x="1222.9" y="166.6"/>
<use href="#st" x="1140.9" y="235.7"/>
<use href="#st" x="1261.4" y="173.3"/>
<use href="#sn" x="1221.9" y="186.9"/>
<use href="#st" x="1193.8" y="202.0"/>
<use href="#st" x="1218.9" y="209.6"/>
<use href="#st" x="1154.0" y="207.6"/>
<use href="#st" x="1219.4" y="148.0"/>
<use href="#st" x="1126.6" y="220.5"/>
<use href="#sn" x="1202.3" y="160.6"/>
<use href="#st" x="1172.5" y="172.8"/>
<use href="#sn" x="1192.3" y="263.5"/>
<use href="#sn" x="1215.0" y="187.5"/>
<use href="#st" x="1159.2" y="188.5"/>
<use href="#sn" x="1201.9" y="140.8"/>
<use href="#st" x="1168.8" y="191.9"/>
<use href="#st" x="1213.5" y="199.8"/>
<use href="#st" x="1175.3" y="261.4"/>
<use href="#st" x="1188.3" y="254.1"/>
</g>
<g fill="#fff" stroke="#008080" stroke-width="3.6" stroke-linejoin="round">
<use href="#st" x="1203.0" y="136.7"/>
<use href="#st" x="1266.5" y="144.2"/>
<use href="#st" x="1283.2" y="160.9"/>
<use href="#st" x="1272.6" y="209.3"/>
<use href="#st" x="1130.3" y="213.9"/>
<use href="#st" x="1119.7" y="230.5"/>
<use href="#st" x="1150.0" y="168.4"/>
<use href="#st" x="1128.0" y="170.0"/>
<use href="#st" x="1187.8" y="154.8"/>
<use href="#st" x="1153.0" y="291.1"/>
<use href="#st" x="1174.2" y="277.5"/>
<use href="#st" x="1193.9" y="279.0"/>
<use href="#st" x="1227.2" y="279.0"/>
<use href="#st" x="1236.3" y="224.5"/>
<use href="#st" x="1234.7" y="236.6"/>
<use href="#st" x="1212.0" y="236.6"/>
<use href="#st" x="1151.9" y="293.6"/>
<use href="#st" x="1175.1" y="283.2"/>
<use href="#st" x="1192.7" y="283.2"/>
<use href="#st" x="1227.8" y="283.2"/>
<use href="#st" x="1195.0" y="331.1"/>
<use href="#st" x="1136.7" y="350.3"/>
<use href="#st" x="1189.5" y="350.3"/>
<use href="#st" x="1243.0" y="350.3"/>
</g>
<g fill="#fff" stroke="#800080" stroke-width="3.6" stroke-linejoin="round">
<use href="#st" x="1216.6" y="292.0"/>
<use href="#st" x="1203.8" y="302.4"/>
<use href="#st" x="1226.2" y="305.6"/>
<use href="#st" x="1235.8" y="311.9"/>
<use href="#st" x="1211.8" y="318.3"/>
<use href="#st" x="1226.2" y="319.1"/>
<use href="#st" x="1221.4" y="339.1"/>
<use href="#st" x="1234.2" y="358.3"/>
<use href="#st" x="1222.2" y="391.8"/>
<use href="#st" x="1222.2" y="414.2"/>
<use href="#st" x="1240.6" y="407.8"/>
<use href="#st" x="1228.6" y="430.2"/>
<use href="#st" x="1217.4" y="451.7"/>
</g>
</g>
<g clip-path="url(#clipc)">
<g fill="#fff" stroke="#7f00ff" stroke-width="3.6" stroke-linejoin="round">
<use href="#sn" x="291.1" y="741.9"/>
<use href="#st" x="327.1" y="738.5"/>
<use href="#sn" x="302.3" y="747.2"/>
<use href="#sn" x="312.6" y="736.2"/>
<use href="#sn" x="299.4" y="742.4"/>
<use href="#sn" x="312.6" y="752.7"/>
<use href="#sn" x="330.7" y="737.2"/>
<use href="#sn" x="284.6" y="744.3"/>
<use href="#sn" x="294.7" y="746.8"/>
<use href="#sn" x="309.4" y="741.3"/>
<use href="#st" x="319.4" y="741.1"/>
<use href="#sn" x="313.0" y="744.1"/>
<use href="#sn" x="282.6" y="735.8"/>
<use href="#st" x="295.6" y="744.3"/>
<use href="#st" x="331.8" y="748.8"/>
<use href="#st" x="302.5" y="755.2"/>
<use href="#st" x="318.9" y="750.3"/>
<use href="#sn" x="306.4" y="753.4"/>
<use href="#st" x="323.7" y="756.5"/>
<use href="#sn" x="277.8" y="742.5"/>
<use href="#sn" x="291.3" y="748.9"/>
<use href="#sn" x="265.8" y="737.3"/>
<use href="#st" x="307.0" y="735.9"/>
<use href="#sn" x="306.1" y="749.8"/>
<use href="#sn" x="273.1" y="743.2"/>
<use href="#sn" x="276.8" y="737.9"/>
<use href="#st" x="312.9" y="749.8"/>
<use href="#sn" x="291.3" y="737.0"/>
<use href="#sn" x="319.0" y="754.0"/>
<use href="#sn" x="320.5" y="738.3"/>
<use href="#sn" x="296.2" y="754.7"/>
<use href="#st" x="327.4" y="744.4"/>
<use href="#sn" x="272.2" y="735.2"/>
<use href="#st" x="295.2" y="738.5"/>
<use href="#st" x="301.0" y="735.4"/>
<use href="#st" x="330.4" y="753.2"/>
<use href="#st" x="326.7" y="748.3"/>
<use href="#sn" x="233.6" y="810.7"/>
<use href="#sn" x="456.9" y="782.0"/>
<use href="#st" x="462.8" y="774.1"/>
<use href="#st" x="479.0" y="771.1"/>
<use href="#sn" x="457.6" y="771.1"/>
<use href="#st" x="468.1" y="780.2"/>
<use href="#st" x="479.2" y="780.6"/>
<use href="#st" x="498.4" y="782.8"/>
<use href="#sn" x="492.2" y="780.7"/>
<use href="#st" x="474.7" y="774.9"/>
<use href="#sn" x="486.6" y="771.9"/>
<use href="#st" x="486.2" y="781.8"/>
<use href="#st" x="487.9" y="778.0"/>
<use href="#sn" x="491.0" y="770.0"/>
<use href="#sn" x="505.0" y="770.5"/>
<use href="#st" x="467.4" y="775.1"/>
<use href="#sn" x="475.5" y="771.3"/>
<use href="#sn" x="497.6" y="771.3"/>
<use href="#st" x="468.3" y="768.6"/>
<use href="#sn" x="510.5" y="781.1"/>
<use href="#sn" x="503.9" y="774.8"/>
<use href="#st" x="505.2" y="781.5"/>
<use href="#st" x="498.3" y="778.0"/>
<use href="#st" x="457.2" y="775.2"/>
<use href="#sn" x="493.2" y="776.4"/>
<use href="#st" x="478.4" y="774.2"/>
<use href="#st" x="510.2" y="771.6"/>
<use href="#st" x="509.8" y="777.4"/>
<use href="#sn" x="473.7" y="781.7"/>
<use href="#sn" x="462.5" y="769.3"/>
<use href="#sn" x="622.7" y="779.9"/>
<use href="#sn" x="606.0" y="776.5"/>
<use href="#st" x="589.1" y="779.0"/>
<use href="#sn" x="520.6" y="784.1"/>
<use href="#sn" x="583.1" y="776.5"/>
<use href="#st" x="575.5" y="785.0"/>
<use href="#sn" x="593.9" y="785.1"/>
<use href="#sn" x="617.8" y="782.7"/>
<use href="#sn" x="546.6" y="786.3"/>
<use href="#st" x="568.1" y="779.4"/>
<use href="#sn" x="512.0" y="778.7"/>
<use href="#sn" x="552.4" y="777.2"/>
<use href="#st" x="564.1" y="779.2"/>
<use href="#st" x="547.5" y="778.5"/>
<use href="#sn" x="559.1" y="785.7"/>
<use href="#sn" x="496.5" y="771.3"/>
<use href="#sn" x="534.8" y="779.9"/>
<use href="#st" x="504.1" y="778.9"/>
<use href="#sn" x="517.7" y="771.5"/>
<use href="#st" x="511.4" y="772.5"/>
<use href="#st" x="594.8" y="776.3"/>
<use href="#sn" x="610.5" y="777.6"/>
<use href="#sn" x="606.0" y="785.7"/>
<use href="#sn" x="616.4" y="779.5"/>
<use href="#sn" x="533.5" y="774.0"/>
<use href="#sn" x="598.1" y="777.2"/>
<use href="#sn" x="622.6" y="784.0"/>
<use href="#st" x="541.2" y="773.9"/>
<use href="#st" x="522.2" y="779.1"/>
<use href="#sn" x="533.6" y="785.4"/>
<use href="#sn" x="505.7" y="773.8"/>
<use href="#st" x="492.5" y="772.1"/>
<use href="#st" x="551.2" y="774.1"/>
<use href="#st" x="569.4" y="785.4"/>
<use href="#st" x="540.6" y="783.1"/>
<use href="#sn" x="559.7" y="777.2"/>
<use href="#st" x="516.0" y="777.6"/>
<use href="#sn" x="588.6" y="785.8"/>
<use href="#sn" x="521.6" y="774.2"/>
<use href="#sn" x="575.3" y="780.0"/>
<use href="#sn" x="528.8" y="779.9"/>
<use href="#st" x="497.4" y="778.0"/>
<use href="#sn" x="612.9" y="783.3"/>
<use href="#sn" x="580.7" y="785.8"/>
<use href="#sn" x="490.5" y="779.1"/>
<use href="#sn" x="565.0" y="783.4"/>
<use href="#sn" x="599.5" y="784.4"/>
<use href="#sn" x="551.6" y="785.4"/>
<use href="#sn" x="541.3" y="777.3"/>
<use href="#sn" x="238.9" y="889.9"/>
<use href="#st" x="250.8" y="813.2"/>
<use href="#st" x="241.5" y="826.2"/>
<use href="#sn" x="239.2" y="814.7"/>
<use href="#sn" x="247.8" y="914.5"/>
<use href="#sn" x="253.4" y="909.7"/>
<use href="#st" x="251.7" y="902.2"/>
<use href="#st" x="233.9" y="874.4"/>
<use href="#st" x="247.8" y="812.0"/>
<use href="#sn" x="233.1" y="868.5"/>
<use href="#st" x="238.3" y="817.2"/>
<use href="#sn" x="233.6" y="815.0"/>
<use href="#st" x="257.9" y="902.0"/>
<use href="#sn" x="238.4" y="878.9"/>
<use href="#sn" x="244.4" y="819.7"/>
<use href="#st" x="239.6" y="856.3"/>
<use href="#sn" x="250.7" y="844.8"/>
<use href="#st" x="251.8" y="854.9"/>
<use href="#sn" x="251.6" y="873.9"/>
<use href="#sn" x="252.6" y="866.5"/>
<use href="#st" x="246.6" y="884.4"/>
<use href="#st" x="253.5" y="817.2"/>
<use href="#sn" x="257.2" y="821.3"/>
<use href="#sn" x="240.0" y="885.4"/>
<use href="#sn" x="257.0" y="854.0"/>
<use href="#st" x="251.1" y="890.6"/>
<use href="#st" x="248.4" y="901.5"/>
<use href="#st" x="244.4" y="877.5"/>
<use href="#sn" x="259.8" y="833.0"/>
<use href="#st" x="239.6" y="829.6"/>
<use href="#sn" x="257.5" y="836.9"/>
<use href="#sn" x="239.0" y="847.8"/>
<use href="#st" x="228.0" y="818.2"/>
<use href="#sn" x="240.1" y="898.5"/>
<use href="#sn" x="246.9" y="853.2"/>
<use href="#sn" x="245.8" y="850.8"/>
<use href="#st" x="232.7" y="835.1"/>
<use href="#st" x="244.5" y="826.0"/>
<use href="#st" x="246.5" y="898.3"/>
<use href="#sn" x="234.0" y="829.9"/>
<use href="#st" x="260.3" y="844.2"/>
<use href="#sn" x="257.8" y="848.9"/>
<use href="#st" x="239.7" y="841.1"/>
<use href="#sn" x="244.3" y="890.9"/>
<use href="#st" x="236.3" y="856.2"/>
<use href="#sn" x="235.5" y="851.0"/>
<use href="#sn" x="251.0" y="824.8"/>
<use href="#st" x="252.1" y="862.2"/>
<use href="#st" x="240.9" y="862.1"/>
<use href="#st" x="234.7" y="823.4"/>
<use href="#st" x="251.8" y="916.6"/>
<use href="#sn" x="228.4" y="861.5"/>
<use href="#sn" x="252.3" y="849.7"/>
<use href="#st" x="240.2" y="838.8"/>
<use href="#st" x="245.3" y="835.9"/>
<use href="#sn" x="234.6" y="844.6"/>
<use href="#sn" x="244.7" y="843.0"/>
<use href="#st" x="227.0" y="815.3"/>
<use href="#st" x="242.3" y="904.7"/>
<use href="#sn" x="248.0" y="908.6"/>
<use href="#st" x="239.7" y="868.2"/>
<use href="#st" x="256.2" y="908.5"/>
<use href="#st" x="245.9" y="869.1"/>
<use href="#st" x="238.2" y="872.5"/>
<use href="#st" x="245.3" y="871.7"/>
<use href="#sn" x="235.4" y="820.6"/>
<use href="#sn" x="234.5" y="862.5"/>
<use href="#sn" x="244.9" y="830.0"/>
<use href="#sn" x="254.4" y="832.1"/>
<use href="#sn" x="250.3" y="835.5"/>
<use href="#st" x="245.7" y="861.2"/>
<use href="#sn" x="252.7" y="897.3"/>
<use href="#sn" x="290.1" y="736.3"/>
<use href="#st" x="299.9" y="742.3"/>
<use href="#sn" x="303.0" y="748.7"/>
<use href="#sn" x="322.6" y="742.1"/>
<use href="#st" x="316.2" y="749.9"/>
<use href="#sn" x="312.0" y="736.1"/>
<use href="#sn" x="311.6" y="754.5"/>
<use href="#sn" x="293.7" y="746.7"/>
<use href="#st" x="291.7" y="755.9"/>
<use href="#st" x="323.6" y="755.6"/>
<use href="#sn" x="328.6" y="746.4"/>
<use href="#sn" x="291.5" y="741.6"/>
<use href="#sn" x="298.2" y="738.2"/>
<use href="#st" x="297.1" y="750.2"/>
<use href="#st" x="314.7" y="756.0"/>
<use href="#sn" x="305.9" y="735.0"/>
<use href="#sn" x="302.2" y="753.4"/>
<use href="#st" x="311.8" y="750.5"/>
<use href="#sn" x="309.9" y="744.4"/>
<use href="#st" x="315.0" y="742.7"/>
<use href="#sn" x="296.1" y="755.0"/>
<use href="#sn" x="303.6" y="744.4"/>
<use href="#st" x="322.4" y="747.3"/>
<use href="#sn" x="456.2" y="771.0"/>
<use href="#st" x="461.6" y="770.9"/>
<use href="#st" x="462.4" y="767.8"/>
<use href="#sn" x="448.9" y="773.4"/>
<use href="#st" x="456.0" y="779.2"/>
<use href="#st" x="455.6" y="766.2"/>
<use href="#st" x="450.6" y="764.9"/>
<use href="#sn" x="467.6" y="772.7"/>
<use href="#sn" x="468.0" y="777.1"/>
<use href="#sn" x="463.4" y="776.9"/>
</g>
<g fill="#fff" stroke="#7f00ff" stroke-width="3.6" stroke-linejoin="round">
<use href="#st" x="247.5" y="727.8"/>
<use href="#st" x="276.3" y="735.4"/>
<use href="#st" x="321.7" y="736.9"/>
<use href="#st" x="330.8" y="736.9"/>
<use href="#st" x="314.1" y="752.0"/>
<use href="#st" x="327.7" y="747.5"/>
<use href="#st" x="374.5" y="712.7"/>
<use href="#st" x="397.2" y="743.0"/>
<use href="#st" x="327.6" y="735.4"/>
<use href="#st" x="324.5" y="750.5"/>
<use href="#st" x="451.7" y="780.8"/>
<use href="#st" x="468.4" y="779.3"/>
<use href="#st" x="492.6" y="777.8"/>
<use href="#st" x="520.0" y="779.3"/>
<use href="#st" x="492.1" y="778.4"/>
<use href="#st" x="517.9" y="776.9"/>
<use href="#st" x="545.1" y="781.4"/>
<use href="#st" x="570.8" y="776.9"/>
<use href="#st" x="598.1" y="781.4"/>
<use href="#st" x="628.4" y="779.2"/>
<use href="#st" x="665.5" y="781.4"/>
<use href="#st" x="328.9" y="734.8"/>
<use href="#st" x="314.1" y="751.1"/>
<use href="#st" x="285.9" y="746.7"/>
<use href="#st" x="293.3" y="740.7"/>
<use href="#st" x="397.0" y="743.7"/>
<use href="#st" x="454.8" y="780.7"/>
<use href="#st" x="468.1" y="779.3"/>
</g>
<g fill="#fff" stroke="#000080" stroke-width="3.6" stroke-linejoin="round">
<use href="#sn" x="278.9" y="693.2"/>
<use href="#st" x="235.4" y="693.0"/>
<use href="#sn" x="288.8" y="714.7"/>
<use href="#sn" x="248.1" y="687.6"/>
<use href="#st" x="175.4" y="693.5"/>
<use href="#st" x="330.4" y="709.9"/>
<use href="#sn" x="252.1" y="700.7"/>
<use href="#sn" x="295.2" y="716.7"/>
<use href="#sn" x="258.1" y="686.5"/>
<use href="#sn" x="264.1" y="693.7"/>
<use href="#st" x="270.9" y="704.0"/>
<use href="#sn" x="253.6" y="687.9"/>
<use href="#sn" x="229.5" y="706.3"/>
<use href="#st" x="272.8" y="684.9"/>
<use href="#sn" x="207.8" y="674.3"/>
<use href="#st" x="188.0" y="692.4"/>
<use href="#st" x="321.5" y="718.4"/>
<use href="#sn" x="266.1" y="679.3"/>
<use href="#st" x="277.3" y="700.6"/>
<use href="#st" x="193.3" y="670.6"/>
<use href="#sn" x="235.9" y="679.5"/>
<use href="#st" x="324.4" y="711.6"/>
<use href="#sn" x="201.7" y="674.8"/>
<use href="#st" x="273.8" y="697.4"/>
<use href="#sn" x="182.1" y="681.7"/>
<use href="#sn" x="153.9" y="679.5"/>
<use href="#sn" x="284.8" y="699.8"/>
<use href="#st" x="248.2" y="681.3"/>
<use href="#st" x="230.0" y="674.7"/>
<use href="#st" x="258.2" y="697.5"/>
<use href="#st" x="199.2" y="692.8"/>
<use href="#sn" x="195.4" y="679.3"/>
<use href="#st" x="291.3" y="705.0"/>
<use href="#st" x="296.2" y="710.7"/>
<use href="#st" x="247.2" y="703.9"/>
<use href="#sn" x="210.7" y="687.6"/>
<use href="#st" x="242.7" y="704.2"/>
<use href="#sn" x="174.1" y="687.1"/>
<use href="#sn" x="314.6" y="704.9"/>
<use href="#st" x="300.7" y="709.5"/>
<use href="#sn" x="189.5" y="686.3"/>
<use href="#sn" x="313.3" y="711.3"/>
<use href="#sn" x="325.3" y="715.6"/>
<use href="#st" x="319.9" y="704.1"/>
<use href="#st" x="267.2" y="686.6"/>
<use href="#sn" x="225.7" y="700.1"/>
<use href="#sn" x="217.7" y="687.7"/>
<use href="#sn" x="188.5" y="668.7"/>
<use href="#sn" x="205.4" y="678.9"/>
<use href="#sn" x="255.2" y="679.9"/>
<use href="#sn" x="301.3" y="705.8"/>
<use href="#st" x="271.1" y="678.7"/>
<use href="#sn" x="207.6" y="692.3"/>
<use href="#sn" x="277.3" y="708.7"/>
<use href="#st" x="234.5" y="676.6"/>
<use href="#sn" x="217.7" y="679.5"/>
<use href="#st" x="315.8" y="717.0"/>
<use href="#sn" x="194.8" y="691.3"/>
<use href="#sn" x="277.6" y="704.9"/>
<use href="#sn" x="171.8" y="674.7"/>
<use href="#sn" x="248.0" y="698.5"/>
<use href="#sn" x="327.5" y="705.9"/>
<use href="#st" x="243.5" y="679.0"/>
<use href="#sn" x="306.8" y="702.9"/>
<use href="#sn" x="283.5" y="709.3"/>
<use href="#sn" x="271.3" y="691.7"/>
<use href="#sn" x="282.2" y="694.1"/>
<use href="#sn" x="241.4" y="694.4"/>
<use href="#sn" x="201.4" y="686.0"/>
<use href="#st" x="252.9" y="704.6"/>
<use href="#sn" x="195.3" y="674.8"/>
<use href="#st" x="188.7" y="674.8"/>
<use href="#sn" x="247.9" y="690.7"/>
<use href="#st" x="164.1" y="681.6"/>
<use href="#sn" x="291.8" y="697.7"/>
<use href="#sn" x="183.6" y="666.7"/>
<use href="#sn" x="163.7" y="675.2"/>
<use href="#sn" x="171.6" y="681.8"/>
<use href="#sn" x="264.3" y="699.4"/>
<use href="#sn" x="193.7" y="687.3"/>
<use href="#st" x="277.6" y="686.5"/>
<use href="#sn" x="234.7" y="698.3"/>
<use href="#st" x="284.9" y="706.0"/>
<use href="#sn" x="176.7" y="682.2"/>
<use href="#st" x="231.3" y="699.1"/>
<use href="#st" x="178.0" y="673.9"/>
<use href="#st" x="258.3" y="692.8"/>
<use href="#sn" x="241.3" y="696.6"/>
<use href="#st" x="229.1" y="684.8"/>
<use href="#st" x="157.8" y="684.8"/>
<use href="#sn" x="258.8" y="703.9"/>
<use href="#st" x="199.6" y="679.3"/>
<use href="#sn" x="258.9" y="680.7"/>
<use href="#sn" x="207.4" y="686.5"/>
<use href="#sn" x="320.8" y="712.6"/>
<use href="#sn" x="222.6" y="687.2"/>
<use href="#sn" x="230.2" y="679.2"/>
<use href="#sn" x="181.8" y="684.7"/>
<use href="#st" x="230.6" y="693.0"/>
<use href="#st" x="182.5" y="692.3"/>
<use href="#st" x="283.1" y="715.3"/>
<use href="#sn" x="236.7" y="688.2"/>
<use href="#sn" x="240.3" y="674.7"/>
<use href="#st" x="309.6" y="715.4"/>
<use href="#st" x="159.9" y="682.0"/>
<use href="#sn" x="225.1" y="679.6"/>
<use href="#st" x="189.6" y="698.7"/>
<use href="#st" x="290.6" y="712.1"/>
<use href="#st" x="295.1" y="702.7"/>
<use href="#sn" x="266.5" y="703.2"/>
<use href="#st" x="283.6" y="684.9"/>
<use href="#sn" x="213.1" y="681.4"/>
<use href="#st" x="224.9" y="692.0"/>
<use href="#sn" x="301.9" y="715.9"/>
<use href="#sn" x="308.5" y="710.0"/>
<use href="#st" x="219.9" y="676.7"/>
<use href="#sn" x="213.8" y="676.7"/>
<use href="#st" x="217.5" y="691.3"/>
<use href="#sn" x="181.5" y="673.8"/>
<use href="#st" x="168.6" y="686.8"/>
<use href="#st" x="236.7" y="704.4"/>
<use href="#sn" x="243.1" y="685.7"/>
<use href="#sn" x="186.9" y="681.1"/>
<use href="#st" x="255.7" y="690.6"/>
<use href="#sn" x="331.2" y="706.3"/>
<use href="#st" x="336.6" y="709.6"/>
<use href="#sn" x="351.4" y="718.4"/>
<use href="#sn" x="349.8" y="709.7"/>
<use href="#st" x="354.5" y="717.0"/>
<use href="#st" x="357.9" y="736.4"/>
<use href="#sn" x="362.0" y="734.9"/>
<use href="#st" x="355.3" y="709.9"/>
<use href="#st" x="346.0" y="710.5"/>
<use href="#sn" x="338.0" y="723.6"/>
<use href="#st" x="349.8" y="724.4"/>
<use href="#st" x="344.3" y="697.8"/>
<use href="#sn" x="343.9" y="723.1"/>
<use href="#sn" x="342.2" y="717.3"/>
<use href="#sn" x="349.3" y="733.3"/>
<use href="#sn" x="332.2" y="701.0"/>
<use href="#st" x="330.8" y="718.4"/>
<use href="#sn" x="357.0" y="724.4"/>
<use href="#sn" x="330.3" y="712.5"/>
<use href="#sn" x="336.0" y="718.3"/>
<use href="#sn" x="338.0" y="705.0"/>
<use href="#sn" x="360.2" y="721.8"/>
<use href="#sn" x="351.0" y="729.0"/>
<use href="#st" x="357.9" y="730.2"/>
<use href="#st" x="344.8" y="703.7"/>
<use href="#sn" x="348.6" y="706.5"/>
<use href="#sn" x="360.1" y="717.8"/>
</g>
<g fill="#fff" stroke="#000080" stroke-width="3.6" stroke-linejoin="round">
<use href="#st" x="188.4" y="665.7"/>
<use href="#st" x="185.4" y="699.0"/>
<use href="#st" x="154.4" y="682.4"/>
<use href="#st" x="182.4" y="680.1"/>
<use href="#st" x="196.0" y="680.9"/>
<use href="#st" x="212.7" y="687.7"/>
<use href="#st" x="224.8" y="691.5"/>
<use href="#st" x="236.9" y="679.4"/>
<use href="#st" x="249.0" y="680.9"/>
<use href="#st" x="247.5" y="703.6"/>
<use href="#st" x="265.7" y="686.9"/>
<use href="#st" x="276.3" y="690.0"/>
<use href="#st" x="273.2" y="706.6"/>
<use href="#st" x="282.3" y="717.2"/>
<use href="#st" x="308.1" y="717.2"/>
<use href="#st" x="327.7" y="706.6"/>
<use href="#st" x="333.8" y="718.7"/>
<use href="#st" x="230.8" y="706.6"/>
<use href="#st" x="267.2" y="673.3"/>
<use href="#st" x="140.0" y="670.3"/>
<use href="#st" x="140.0" y="682.4"/>
<use href="#st" x="326.8" y="705.1"/>
<use href="#st" x="335.9" y="717.2"/>
<use href="#st" x="360.9" y="717.2"/>
<use href="#st" x="344.2" y="697.5"/>
<use href="#st" x="388.9" y="716.5"/>
<use href="#st" x="360.9" y="738.4"/>
<use href="#st" x="389.6" y="722.2"/>
</g>
<g fill="#fff" stroke="#000080" stroke-width="3.6" stroke-linejoin="round">
<use href="#sn" x="479.7" y="757.0"/>
<use href="#st" x="477.5" y="748.8"/>
<use href="#st" x="507.2" y="751.1"/>
<use href="#sn" x="458.8" y="749.9"/>
<use href="#st" x="443.8" y="755.0"/>
<use href="#sn" x="502.0" y="750.9"/>
<use href="#st" x="476.6" y="743.8"/>
<use href="#sn" x="465.0" y="743.8"/>
<use href="#sn" x="508.9" y="745.1"/>
<use href="#st" x="456.1" y="750.3"/>
<use href="#sn" x="472.2" y="752.3"/>
<use href="#sn" x="430.9" y="752.3"/>
<use href="#st" x="491.0" y="744.0"/>
<use href="#sn" x="454.8" y="755.8"/>
<use href="#st" x="496.2" y="756.5"/>
<use href="#sn" x="447.7" y="751.6"/>
<use href="#sn" x="474.2" y="743.5"/>
<use href="#st" x="474.3" y="755.3"/>
<use href="#st" x="447.9" y="744.3"/>
<use href="#sn" x="467.9" y="752.0"/>
<use href="#st" x="436.0" y="751.7"/>
<use href="#sn" x="441.2" y="751.0"/>
<use href="#sn" x="491.8" y="751.0"/>
<use href="#sn" x="460.3" y="742.5"/>
<use href="#st" x="484.5" y="746.0"/>
<use href="#st" x="489.1" y="755.9"/>
<use href="#st" x="485.6" y="750.4"/>
<use href="#sn" x="496.1" y="742.8"/>
<use href="#sn" x="454.2" y="745.4"/>
<use href="#sn" x="497.0" y="751.9"/>
<use href="#sn" x="503.6" y="742.5"/>
<use href="#sn" x="601.3" y="751.3"/>
<use href="#sn" x="520.4" y="755.5"/>
<use href="#sn" x="571.7" y="758.3"/>
<use href="#sn" x="510.9" y="756.2"/>
<use href="#st" x="533.8" y="751.4"/>
<use href="#st" x="503.4" y="757.2"/>
<use href="#st" x="545.2" y="750.6"/>
<use href="#st" x="636.2" y="756.4"/>
<use href="#sn" x="543.9" y="746.6"/>
<use href="#st" x="588.8" y="756.5"/>
<use href="#sn" x="574.5" y="746.5"/>
<use href="#sn" x="553.5" y="762.6"/>
<use href="#st" x="494.0" y="758.8"/>
<use href="#sn" x="604.4" y="767.5"/>
<use href="#st" x="497.5" y="756.1"/>
<use href="#st" x="544.2" y="762.6"/>
<use href="#st" x="557.8" y="762.4"/>
<use href="#st" x="618.8" y="762.8"/>
<use href="#sn" x="623.6" y="752.9"/>
<use href="#sn" x="511.9" y="749.3"/>
<use href="#sn" x="583.4" y="758.7"/>
<use href="#sn" x="623.8" y="760.9"/>
<use href="#st" x="552.8" y="755.7"/>
<use href="#sn" x="562.2" y="752.5"/>
<use href="#sn" x="587.0" y="753.0"/>
<use href="#sn" x="557.1" y="752.0"/>
<use href="#st" x="606.9" y="757.9"/>
<use href="#st" x="556.0" y="744.5"/>
<use href="#sn" x="610.4" y="758.6"/>
<use href="#st" x="571.0" y="763.1"/>
<use href="#sn" x="504.2" y="750.7"/>
<use href="#st" x="601.9" y="761.8"/>
<use href="#sn" x="587.4" y="746.5"/>
<use href="#st" x="534.8" y="743.2"/>
<use href="#sn" x="592.2" y="763.8"/>
<use href="#sn" x="563.2" y="745.5"/>
<use href="#st" x="588.3" y="761.0"/>
<use href="#sn" x="502.6" y="743.7"/>
<use href="#sn" x="604.2" y="761.1"/>
<use href="#st" x="641.6" y="757.2"/>
<use href="#sn" x="601.8" y="758.8"/>
<use href="#st" x="646.8" y="757.2"/>
<use href="#st" x="541.7" y="757.5"/>
<use href="#st" x="569.6" y="750.4"/>
<use href="#sn" x="540.4" y="749.7"/>
<use href="#sn" x="618.7" y="755.8"/>
<use href="#sn" x="497.5" y="752.6"/>
<use href="#st" x="516.1" y="755.7"/>
<use href="#sn" x="577.9" y="761.0"/>
<use href="#sn" x="594.8" y="767.1"/>
<use href="#st" x="559.8" y="755.5"/>
<use href="#sn" x="545.0" y="758.8"/>
<use href="#st" x="552.2" y="743.9"/>
<use href="#sn" x="517.0" y="749.1"/>
<use href="#st" x="564.6" y="761.4"/>
<use href="#sn" x="517.2" y="744.7"/>
<use href="#st" x="623.7" y="758.6"/>
<use href="#st" x="595.4" y="749.2"/>
<use href="#sn" x="629.1" y="756.7"/>
<use href="#st" x="576.9" y="756.5"/>
<use href="#st" x="611.6" y="764.2"/>
<use href="#st" x="526.0" y="751.8"/>
<use href="#st" x="629.6" y="752.7"/>
<use href="#st" x="508.9" y="746.8"/>
<use href="#st" x="491.7" y="749.1"/>
<use href="#sn" x="528.7" y="746.1"/>
<use href="#sn" x="496.4" y="744.8"/>
<use href="#sn" x="562.4" y="755.3"/>
<use href="#st" x="523.3" y="745.5"/>
<use href="#st" x="534.0" y="758.4"/>
<use href="#sn" x="550.8" y="750.2"/>
<use href="#sn" x="541.4" y="746.9"/>
<use href="#st" x="592.5" y="756.8"/>
<use href="#sn" x="581.9" y="752.9"/>
<use href="#sn" x="575.0" y="749.2"/>
<use href="#sn" x="526.0" y="755.8"/>
<use href="#st" x="523.8" y="749.2"/>
<use href="#st" x="582.5" y="763.1"/>
</g>
<g fill="#fff" stroke="#000080" stroke-width="3.6" stroke-linejoin="round">
<use href="#st" x="424.5" y="752.0"/>
<use href="#st" x="436.6" y="749.0"/>
<use href="#st" x="457.8" y="752.0"/>
<use href="#st" x="469.9" y="751.3"/>
<use href="#st" x="487.3" y="755.0"/>
<use href="#st" x="503.2" y="754.3"/>
<use href="#st" x="520.0" y="752.0"/>
<use href="#st" x="487.6" y="755.7"/>
<use href="#st" x="502.7" y="752.6"/>
<use href="#st" x="520.9" y="751.1"/>
<use href="#st" x="536.0" y="754.2"/>
<use href="#st" x="545.1" y="760.2"/>
<use href="#st" x="557.2" y="763.2"/>
<use href="#st" x="573.9" y="751.1"/>
<use href="#st" x="589.0" y="754.2"/>
<use href="#st" x="596.6" y="760.2"/>
<use href="#st" x="610.2" y="763.2"/>
<use href="#st" x="629.9" y="751.1"/>
<use href="#st" x="647.3" y="755.7"/>
<use href="#st" x="423.7" y="752.6"/>
<use href="#st" x="435.6" y="750.4"/>
<use href="#st" x="456.3" y="751.9"/>
<use href="#st" x="469.6" y="751.9"/>
</g>
<g fill="#fff" stroke="#ff0000" stroke-width="3.6" stroke-linejoin="round">
<use href="#sn" x="285.2" y="776.1"/>
<use href="#st" x="236.2" y="769.8"/>
<use href="#sn" x="181.0" y="748.6"/>
<use href="#st" x="297.7" y="780.6"/>
<use href="#sn" x="270.7" y="792.9"/>
<use href="#sn" x="249.4" y="779.5"/>
<use href="#sn" x="181.0" y="754.7"/>
<use href="#sn" x="211.9" y="785.4"/>
<use href="#st" x="204.7" y="773.7"/>
<use href="#sn" x="241.6" y="742.3"/>
<use href="#sn" x="243.4" y="786.9"/>
<use href="#sn" x="216.5" y="791.0"/>
<use href="#sn" x="270.8" y="761.1"/>
<use href="#sn" x="175.0" y="750.1"/>
<use href="#st" x="189.1" y="736.4"/>
<use href="#sn" x="212.4" y="770.0"/>
<use href="#st" x="315.5" y="785.1"/>
<use href="#st" x="326.5" y="787.8"/>
<use href="#sn" x="216.9" y="744.2"/>
<use href="#st" x="236.6" y="787.8"/>
<use href="#st" x="200.7" y="736.2"/>
<use href="#sn" x="284.0" y="787.7"/>
<use href="#st" x="228.3" y="752.2"/>
<use href="#sn" x="192.8" y="754.6"/>
<use href="#st" x="198.0" y="733.1"/>
<use href="#st" x="206.6" y="739.9"/>
<use href="#st" x="188.2" y="762.5"/>
<use href="#st" x="213.4" y="750.7"/>
<use href="#sn" x="237.9" y="763.0"/>
<use href="#st" x="259.4" y="786.4"/>
<use href="#st" x="279.6" y="775.0"/>
<use href="#sn" x="200.9" y="745.6"/>
<use href="#sn" x="204.3" y="726.3"/>
<use href="#sn" x="162.1" y="737.4"/>
<use href="#st" x="264.7" y="763.1"/>
<use href="#sn" x="198.5" y="773.2"/>
<use href="#sn" x="228.4" y="791.6"/>
<use href="#sn" x="264.6" y="786.2"/>
<use href="#sn" x="180.4" y="738.5"/>
<use href="#sn" x="331.9" y="773.6"/>
<use href="#sn" x="280.0" y="793.4"/>
<use href="#st" x="284.3" y="769.4"/>
<use href="#sn" x="216.1" y="761.7"/>
<use href="#st" x="229.1" y="775.8"/>
<use href="#sn" x="236.7" y="780.6"/>
<use href="#sn" x="236.4" y="773.4"/>
<use href="#sn" x="259.7" y="757.4"/>
<use href="#sn" x="224.3" y="774.2"/>
<use href="#sn" x="224.4" y="785.0"/>
<use href="#st" x="212.0" y="791.7"/>
<use href="#sn" x="292.0" y="779.5"/>
<use href="#st" x="331.0" y="781.1"/>
<use href="#st" x="236.8" y="743.0"/>
<use href="#st" x="162.5" y="727.6"/>
<use href="#st" x="204.6" y="743.0"/>
<use href="#st" x="265.0" y="757.8"/>
<use href="#sn" x="213.4" y="733.3"/>
<use href="#st" x="259.7" y="774.8"/>
<use href="#sn" x="195.0" y="732.8"/>
<use href="#sn" x="229.5" y="758.2"/>
<use href="#st" x="201.8" y="751.4"/>
<use href="#sn" x="247.6" y="756.8"/>
<use href="#sn" x="237.3" y="750.0"/>
<use href="#sn" x="174.9" y="757.3"/>
<use href="#sn" x="175.7" y="728.3"/>
<use href="#sn" x="242.8" y="782.2"/>
<use href="#st" x="265.1" y="775.0"/>
<use href="#st" x="240.1" y="760.7"/>
<use href="#st" x="248.6" y="745.5"/>
<use href="#sn" x="265.4" y="767.1"/>
<use href="#sn" x="230.2" y="764.2"/>
<use href="#sn" x="300.8" y="792.4"/>
<use href="#st" x="255.5" y="754.7"/>
<use href="#sn" x="319.5" y="792.4"/>
<use href="#sn" x="249.9" y="774.8"/>
<use href="#sn" x="278.4" y="782.1"/>
<use href="#sn" x="234.6" y="739.2"/>
<use href="#st" x="218.1" y="754.9"/>
<use href="#sn" x="309.7" y="790.8"/>
<use href="#sn" x="230.9" y="784.1"/>
<use href="#st" x="313.6" y="780.8"/>
<use href="#sn" x="210.2" y="739.2"/>
<use href="#sn" x="199.6" y="756.0"/>
<use href="#sn" x="205.5" y="731.0"/>
<use href="#sn" x="217.5" y="772.7"/>
<use href="#sn" x="187.4" y="767.3"/>
<use href="#sn" x="204.0" y="784.7"/>
<use href="#st" x="188.5" y="732.8"/>
<use href="#st" x="212.6" y="757.0"/>
<use href="#sn" x="253.1" y="792.0"/>
<use href="#sn" x="258.7" y="780.2"/>
<use href="#sn" x="315.4" y="772.4"/>
<use href="#sn" x="266.0" y="782.2"/>
<use href="#st" x="255.8" y="784.3"/>
<use href="#sn" x="225.8" y="769.1"/>
<use href="#sn" x="168.1" y="749.0"/>
<use href="#st" x="296.9" y="786.5"/>
<use href="#st" x="247.6" y="751.2"/>
<use href="#st" x="273.8" y="768.7"/>
<use href="#st" x="276.7" y="768.2"/>
<use href="#sn" x="249.3" y="787.3"/>
<use href="#sn" x="331.2" y="787.8"/>
<use href="#sn" x="201.5" y="769.6"/>
<use href="#sn" x="224.8" y="791.4"/>
<use href="#st" x="327.5" y="774.0"/>
<use href="#st" x="216.7" y="731.0"/>
<use href="#sn" x="218.1" y="751.8"/>
<use href="#sn" x="331.9" y="791.5"/>
<use href="#sn" x="207.3" y="761.9"/>
<use href="#sn" x="211.9" y="760.7"/>
<use href="#sn" x="270.1" y="788.1"/>
<use href="#st" x="221.9" y="760.7"/>
<use href="#sn" x="255.8" y="767.6"/>
<use href="#st" x="284.2" y="781.0"/>
<use href="#sn" x="271.7" y="778.9"/>
<use href="#sn" x="243.0" y="791.0"/>
<use href="#sn" x="195.3" y="750.5"/>
<use href="#st" x="277.7" y="784.6"/>
<use href="#sn" x="224.1" y="756.0"/>
<use href="#sn" x="248.7" y="761.3"/>
<use href="#sn" x="205.3" y="790.2"/>
<use href="#sn" x="254.7" y="781.7"/>
<use href="#st" x="246.7" y="767.2"/>
<use href="#sn" x="172.0" y="726.9"/>
<use href="#sn" x="306.5" y="778.6"/>
<use href="#sn" x="240.8" y="751.8"/>
<use href="#st" x="228.1" y="766.2"/>
<use href="#sn" x="252.0" y="775.4"/>
<use href="#sn" x="254.6" y="764.0"/>
<use href="#st" x="325.2" y="792.3"/>
<use href="#sn" x="240.9" y="770.2"/>
<use href="#sn" x="194.9" y="743.3"/>
<use href="#sn" x="201.5" y="725.9"/>
<use href="#sn" x="176.6" y="732.7"/>
<use href="#sn" x="159.2" y="731.5"/>
<use href="#st" x="261.2" y="793.8"/>
<use href="#sn" x="262.1" y="762.3"/>
<use href="#sn" x="290.1" y="790.4"/>
<use href="#sn" x="205.2" y="750.1"/>
<use href="#sn" x="178.0" y="742.9"/>
<use href="#sn" x="222.5" y="748.8"/>
<use href="#st" x="169.1" y="731.8"/>
<use href="#sn" x="300.5" y="781.4"/>
<use href="#sn" x="187.3" y="744.7"/>
<use href="#sn" x="310.0" y="775.3"/>
<use href="#st" x="198.2" y="778.9"/>
<use href="#st" x="212.7" y="745.1"/>
<use href="#st" x="289.8" y="785.1"/>
<use href="#sn" x="285.0" y="791.3"/>
<use href="#sn" x="182.2" y="762.1"/>
<use href="#st" x="174.7" y="737.5"/>
<use href="#sn" x="231.2" y="743.0"/>
<use href="#sn" x="297.5" y="792.5"/>
<use href="#st" x="265.6" y="793.6"/>
<use href="#sn" x="189.3" y="748.7"/>
<use href="#st" x="319.8" y="786.5"/>
<use href="#sn" x="313.8" y="791.7"/>
<use href="#st" x="229.3" y="782.2"/>
<use href="#st" x="261.4" y="769.5"/>
<use href="#st" x="171.4" y="736.9"/>
<use href="#sn" x="325.5" y="779.2"/>
<use href="#sn" x="223.4" y="744.6"/>
<use href="#st" x="243.1" y="772.1"/>
<use href="#st" x="237.3" y="754.6"/>
<use href="#sn" x="295.3" y="776.1"/>
<use href="#sn" x="192.7" y="769.8"/>
<use href="#st" x="217.7" y="770.1"/>
<use href="#sn" x="318.2" y="773.5"/>
<use href="#sn" x="217.3" y="785.5"/>
<use href="#sn" x="204.8" y="769.8"/>
<use href="#st" x="152.9" y="732.5"/>
<use href="#st" x="331.0" y="769.5"/>
<use href="#sn" x="256.1" y="750.1"/>
<use href="#sn" x="193.0" y="740.1"/>
<use href="#sn" x="319.7" y="780.5"/>
<use href="#st" x="187.1" y="756.5"/>
<use href="#sn" x="222.2" y="780.4"/>
<use href="#sn" x="228.2" y="737.1"/>
<use href="#st" x="271.9" y="773.8"/>
<use href="#sn" x="237.2" y="791.1"/>
<use href="#st" x="183.7" y="733.0"/>
<use href="#sn" x="261.4" y="749.9"/>
<use href="#sn" x="219.5" y="778.1"/>
<use href="#sn" x="164.7" y="730.6"/>
<use href="#sn" x="250.0" y="793.9"/>
<use href="#st" x="204.6" y="754.6"/>
<use href="#st" x="306.6" y="786.9"/>
<use href="#sn" x="223.0" y="733.8"/>
<use href="#sn" x="213.7" y="774.6"/>
<use href="#sn" x="301.2" y="788.1"/>
<use href="#st" x="169.8" y="745.4"/>
<use href="#sn" x="199.2" y="761.8"/>
<use href="#sn" x="241.0" y="755.1"/>
<use href="#sn" x="210.3" y="780.1"/>
<use href="#st" x="183.2" y="743.5"/>
<use href="#sn" x="290.7" y="773.0"/>
<use href="#sn" x="204.6" y="779.9"/>
<use href="#st" x="223.4" y="736.4"/>
<use href="#st" x="216.7" y="739.8"/>
<use href="#st" x="195.7" y="760.4"/>
<use href="#sn" x="373.8" y="787.4"/>
<use href="#sn" x="348.4" y="767.0"/>
<use href="#st" x="379.5" y="788.3"/>
<use href="#st" x="378.0" y="780.3"/>
<use href="#st" x="354.1" y="767.7"/>
<use href="#sn" x="360.6" y="780.0"/>
<use href="#sn" x="331.2" y="785.9"/>
<use href="#sn" x="337.1" y="782.3"/>
<use href="#st" x="332.3" y="773.0"/>
<use href="#st" x="346.0" y="781.2"/>
<use href="#sn" x="366.0" y="769.5"/>
<use href="#sn" x="356.7" y="780.2"/>
<use href="#sn" x="356.1" y="785.9"/>
<use href="#sn" x="367.1" y="784.7"/>
<use href="#sn" x="349.2" y="773.7"/>
<use href="#sn" x="349.3" y="782.6"/>
<use href="#sn" x="349.3" y="784.9"/>
<use href="#sn" x="339.5" y="768.5"/>
<use href="#st" x="333.3" y="791.7"/>
<use href="#sn" x="380.4" y="790.6"/>
<use href="#st" x="360.1" y="773.5"/>
<use href="#sn" x="387.1" y="780.0"/>
<use href="#st" x="366.0" y="773.9"/>
<use href="#st" x="331.5" y="781.9"/>
<use href="#st" x="372.0" y="770.2"/>
<use href="#st" x="385.8" y="785.4"/>
<use href="#sn" x="381.1" y="776.1"/>
<use href="#sn" x="339.2" y="786.1"/>
<use href="#st" x="360.9" y="768.6"/>
<use href="#sn" x="343.9" y="775.2"/>
<use href="#st" x="333.9" y="770.3"/>
<use href="#sn" x="342.8" y="786.6"/>
<use href="#sn" x="375.0" y="774.1"/>
<use href="#st" x="374.6" y="780.5"/>
<use href="#sn" x="369.0" y="779.1"/>
<use href="#st" x="338.9" y="774.9"/>
<use href="#sn" x="363.6" y="784.7"/>
<use href="#st" x="393.8" y="785.5"/>
<use href="#sn" x="397.5" y="786.5"/>
<use href="#st" x="356.0" y="773.0"/>
<use href="#sn" x="322.2" y="778.5"/>
<use href="#sn" x="363.6" y="781.6"/>
<use href="#sn" x="341.3" y="786.1"/>
<use href="#sn" x="352.1" y="766.4"/>
<use href="#st" x="340.9" y="780.2"/>
<use href="#st" x="288.0" y="790.1"/>
<use href="#st" x="314.4" y="778.2"/>
<use href="#st" x="316.1" y="772.7"/>
<use href="#sn" x="351.1" y="787.3"/>
<use href="#st" x="368.2" y="774.2"/>
<use href="#st" x="306.0" y="775.2"/>
<use href="#sn" x="362.8" y="767.0"/>
<use href="#st" x="310.4" y="785.7"/>
<use href="#sn" x="375.8" y="775.3"/>
<use href="#st" x="347.6" y="772.1"/>
<use href="#st" x="335.5" y="778.6"/>
<use href="#st" x="318.0" y="784.5"/>
<use href="#st" x="332.5" y="774.2"/>
<use href="#sn" x="328.3" y="778.8"/>
<use href="#st" x="308.7" y="792.4"/>
<use href="#sn" x="321.9" y="790.2"/>
<use href="#st" x="358.0" y="780.5"/>
<use href="#sn" x="363.9" y="775.6"/>
<use href="#sn" x="294.0" y="781.5"/>
<use href="#st" x="322.7" y="783.6"/>
<use href="#st" x="327.3" y="785.4"/>
<use href="#st" x="308.4" y="778.7"/>
<use href="#st" x="291.0" y="783.7"/>
<use href="#sn" x="329.0" y="789.9"/>
<use href="#st" x="293.6" y="793.3"/>
<use href="#st" x="340.1" y="769.5"/>
<use href="#st" x="347.7" y="784.5"/>
<use href="#st" x="332.5" y="784.0"/>
<use href="#st" x="353.9" y="779.9"/>
<use href="#sn" x="368.4" y="778.2"/>
<use href="#sn" x="299.5" y="791.3"/>
<use href="#sn" x="347.4" y="778.1"/>
<use href="#sn" x="338.7" y="791.4"/>
<use href="#st" x="305.8" y="781.2"/>
<use href="#sn" x="321.1" y="772.3"/>
<use href="#sn" x="341.8" y="772.7"/>
<use href="#sn" x="317.6" y="790.4"/>
<use href="#st" x="297.4" y="772.1"/>
<use href="#sn" x="297.3" y="780.7"/>
<use href="#sn" x="311.6" y="775.0"/>
<use href="#st" x="329.1" y="772.7"/>
<use href="#sn" x="359.1" y="767.0"/>
<use href="#st" x="293.7" y="772.9"/>
<use href="#st" x="303.0" y="783.5"/>
<use href="#sn" x="359.0" y="774.4"/>
<use href="#sn" x="299.0" y="786.3"/>
<use href="#sn" x="352.9" y="773.1"/>
<use href="#st" x="303.7" y="791.8"/>
<use href="#st" x="346.1" y="766.5"/>
</g>
<g fill="#fff" stroke="#ff0000" stroke-width="3.6" stroke-linejoin="round">
<use href="#st" x="147.6" y="735.4"/>
<use href="#st" x="173.3" y="752.0"/>
<use href="#st" x="200.6" y="773.2"/>
<use href="#st" x="203.6" y="789.1"/>
<use href="#st" x="230.8" y="791.4"/>
<use href="#st" x="235.4" y="768.7"/>
<use href="#st" x="259.6" y="752.0"/>
<use href="#st" x="205.1" y="726.3"/>
<use href="#st" x="223.3" y="730.8"/>
<use href="#st" x="186.9" y="735.4"/>
<use href="#st" x="292.9" y="773.2"/>
<use href="#st" x="336.8" y="791.4"/>
<use href="#st" x="317.1" y="792.9"/>
<use href="#st" x="140.0" y="733.9"/>
</g>
<g fill="#fff" stroke="#7f00ff" stroke-width="3.6" stroke-linejoin="round">
<use href="#st" x="233.0" y="830.0"/>
<use href="#st" x="248.9" y="819.4"/>
<use href="#st" x="230.0" y="859.5"/>
<use href="#st" x="246.6" y="859.5"/>
<use href="#st" x="245.1" y="877.6"/>
<use href="#st" x="239.0" y="888.2"/>
<use href="#st" x="240.6" y="899.6"/>
<use href="#st" x="251.9" y="907.2"/>
<use href="#st" x="247.4" y="920.8"/>
<use href="#st" x="257.2" y="857.2"/>
</g>
<g fill="#fff" stroke="#ff0000" stroke-width="3.6" stroke-linejoin="round">
<use href="#st" x="519.5" y="969.4"/>
<use href="#st" x="518.2" y="902.8"/>
<use href="#st" x="508.7" y="936.0"/>
<use href="#st" x="494.7" y="860.6"/>
<use href="#sn" x="511.6" y="906.7"/>
<use href="#st" x="484.4" y="848.5"/>
<use href="#st" x="508.0" y="885.2"/>
<use href="#sn" x="495.3" y="866.1"/>
<use href="#sn" x="513.7" y="932.1"/>
<use href="#st" x="519.4" y="920.8"/>
<use href="#st" x="501.6" y="879.1"/>
<use href="#sn" x="529.9" y="967.7"/>
<use href="#st" x="499.6" y="865.4"/>
<use href="#sn" x="497.1" y="854.9"/>
<use href="#sn" x="518.6" y="963.7"/>
<use href="#sn" x="489.8" y="858.5"/>
<use href="#sn" x="526.4" y="926.2"/>
<use href="#sn" x="494.6" y="846.7"/>
<use href="#st" x="514.1" y="927.5"/>
<use href="#sn" x="506.7" y="861.5"/>
<use href="#st" x="523.0" y="957.9"/>
<use href="#sn" x="495.9" y="877.6"/>
<use href="#st" x="517.7" y="939.0"/>
<use href="#sn" x="511.5" y="949.1"/>
<use href="#sn" x="471.6" y="825.7"/>
<use href="#sn" x="526.8" y="908.1"/>
<use href="#sn" x="507.1" y="877.2"/>
<use href="#sn" x="517.5" y="909.7"/>
<use href="#sn" x="501.4" y="897.1"/>
<use href="#st" x="513.6" y="912.5"/>
<use href="#sn" x="508.2" y="897.0"/>
<use href="#sn" x="499.9" y="890.6"/>
<use href="#sn" x="520.3" y="958.1"/>
<use href="#st" x="481.6" y="841.7"/>
<use href="#st" x="526.0" y="933.8"/>
<use href="#sn" x="511.7" y="946.0"/>
<use href="#sn" x="507.9" y="920.4"/>
<use href="#st" x="475.1" y="837.5"/>
<use href="#st" x="517.6" y="912.9"/>
<use href="#st" x="523.2" y="969.1"/>
<use href="#sn" x="502.0" y="903.1"/>
<use href="#sn" x="477.0" y="829.6"/>
<use href="#sn" x="520.1" y="926.9"/>
<use href="#st" x="523.6" y="913.7"/>
<use href="#st" x="513.5" y="889.9"/>
<use href="#sn" x="501.8" y="853.5"/>
<use href="#st" x="501.4" y="871.8"/>
<use href="#st" x="512.1" y="920.2"/>
<use href="#st" x="523.0" y="946.0"/>
<use href="#sn" x="483.9" y="825.8"/>
<use href="#sn" x="507.3" y="865.8"/>
<use href="#st" x="508.6" y="890.2"/>
<use href="#sn" x="505.2" y="914.2"/>
<use href="#sn" x="470.8" y="818.9"/>
<use href="#sn" x="505.2" y="871.7"/>
<use href="#st" x="518.2" y="950.6"/>
<use href="#sn" x="476.4" y="825.3"/>
<use href="#st" x="512.2" y="895.0"/>
<use href="#sn" x="530.5" y="964.0"/>
<use href="#sn" x="511.6" y="879.8"/>
<use href="#st" x="518.5" y="931.1"/>
<use href="#sn" x="514.4" y="936.7"/>
<use href="#sn" x="487.2" y="842.0"/>
<use href="#st" x="489.1" y="836.1"/>
<use href="#sn" x="526.6" y="961.1"/>
<use href="#sn" x="507.0" y="902.4"/>
<use href="#sn" x="525.6" y="921.6"/>
<use href="#st" x="513.8" y="902.0"/>
<use href="#st" x="487.5" y="846.3"/>
<use href="#sn" x="503.0" y="909.9"/>
<use href="#st" x="490.9" y="852.3"/>
<use href="#st" x="505.3" y="906.1"/>
<use href="#sn" x="500.7" y="861.2"/>
<use href="#st" x="493.4" y="873.3"/>
<use href="#sn" x="518.5" y="945.5"/>
<use href="#sn" x="507.1" y="925.5"/>
<use href="#sn" x="471.9" y="828.9"/>
<use href="#sn" x="483.4" y="831.0"/>
<use href="#st" x="526.1" y="939.2"/>
<use href="#st" x="500.6" y="885.5"/>
<use href="#st" x="483.7" y="837.2"/>
</g>
<g fill="#fff" stroke="#ff0000" stroke-width="3.6" stroke-linejoin="round">
<use href="#st" x="428.3" y="815.7"/>
<use href="#st" x="433.1" y="821.9"/>
<use href="#st" x="436.6" y="829.3"/>
<use href="#st" x="439.0" y="836.2"/>
<use href="#st" x="442.8" y="842.4"/>
<use href="#st" x="446.7" y="847.9"/>
<use href="#st" x="451.6" y="856.6"/>
<use href="#st" x="454.5" y="861.2"/>
<use href="#st" x="459.9" y="869.9"/>
<use href="#st" x="463.6" y="874.7"/>
<use href="#st" x="468.6" y="880.2"/>
<use href="#st" x="472.1" y="887.4"/>
<use href="#st" x="469.9" y="813.9"/>
<use href="#st" x="473.1" y="822.9"/>
<use href="#st" x="475.4" y="829.2"/>
<use href="#st" x="479.5" y="835.6"/>
<use href="#st" x="481.9" y="841.7"/>
<use href="#st" x="483.1" y="849.1"/>
<use href="#st" x="487.7" y="856.8"/>
<use href="#st" x="489.3" y="864.3"/>
<use href="#st" x="492.4" y="870.4"/>
<use href="#st" x="496.1" y="878.6"/>
<use href="#st" x="497.2" y="885.2"/>
<use href="#st" x="500.7" y="893.1"/>
<use href="#st" x="504.0" y="898.4"/>
<use href="#st" x="507.4" y="904.9"/>
<use href="#st" x="478.5" y="818.8"/>
<use href="#st" x="481.2" y="824.6"/>
<use href="#st" x="484.5" y="831.8"/>
<use href="#st" x="490.2" y="838.1"/>
<use href="#st" x="494.1" y="844.0"/>
<use href="#st" x="497.1" y="851.5"/>
<use href="#st" x="500.4" y="857.7"/>
<use href="#st" x="504.7" y="865.8"/>
<use href="#st" x="507.2" y="871.6"/>
<use href="#st" x="509.5" y="878.3"/>
<use href="#st" x="514.9" y="885.8"/>
<use href="#st" x="519.0" y="890.4"/>
<use href="#st" x="473.7" y="812.5"/>
<use href="#st" x="476.8" y="819.4"/>
<use href="#st" x="481.4" y="826.0"/>
<use href="#st" x="485.3" y="835.5"/>
<use href="#st" x="489.8" y="841.5"/>
<use href="#st" x="494.8" y="850.9"/>
<use href="#st" x="498.1" y="857.2"/>
<use href="#st" x="503.7" y="866.0"/>
<use href="#st" x="508.7" y="873.5"/>
<use href="#st" x="511.3" y="879.7"/>
<use href="#st" x="490.4" y="846.6"/>
<use href="#st" x="495.4" y="852.5"/>
<use href="#st" x="496.3" y="860.9"/>
<use href="#st" x="499.7" y="869.8"/>
<use href="#st" x="504.1" y="877.3"/>
<use href="#st" x="505.5" y="885.9"/>
<use href="#st" x="509.9" y="894.5"/>
<use href="#st" x="514.9" y="903.0"/>
<use href="#st" x="516.8" y="911.0"/>
<use href="#st" x="520.5" y="917.4"/>
<use href="#st" x="524.5" y="927.8"/>
<use href="#st" x="527.6" y="936.0"/>
<use href="#st" x="529.4" y="942.9"/>
<use href="#st" x="531.8" y="951.8"/>
<use href="#st" x="504.7" y="904.7"/>
<use href="#st" x="507.9" y="911.6"/>
<use href="#st" x="511.0" y="917.9"/>
<use href="#st" x="512.8" y="924.8"/>
<use href="#st" x="515.8" y="932.0"/>
<use href="#st" x="518.3" y="940.2"/>
<use href="#st" x="522.9" y="944.6"/>
<use href="#st" x="524.5" y="951.8"/>
<use href="#st" x="527.6" y="957.7"/>
<use href="#st" x="531.8" y="967.0"/>
<use href="#st" x="533.4" y="972.0"/>
<use href="#st" x="535.1" y="977.5"/>
<use href="#st" x="497.5" y="879.3"/>
<use href="#st" x="502.0" y="887.9"/>
<use href="#st" x="502.6" y="899.1"/>
<use href="#st" x="507.1" y="905.6"/>
<use href="#st" x="510.1" y="914.1"/>
<use href="#st" x="513.1" y="925.9"/>
<use href="#st" x="517.1" y="933.9"/>
<use href="#st" x="518.3" y="941.8"/>
<use href="#st" x="521.0" y="951.9"/>
<use href="#st" x="525.1" y="960.8"/>
<use href="#st" x="514.5" y="814.2"/>
<use href="#st" x="519.7" y="823.0"/>
<use href="#st" x="523.7" y="829.1"/>
<use href="#st" x="527.4" y="835.5"/>
<use href="#st" x="529.4" y="841.4"/>
<use href="#st" x="533.6" y="846.5"/>
<use href="#st" x="536.4" y="853.8"/>
<use href="#st" x="378.3" y="773.2"/>
<use href="#st" x="397.2" y="787.6"/>
<use href="#st" x="428.3" y="774.7"/>
<use href="#st" x="428.8" y="816.7"/>
<use href="#st" x="434.1" y="825.0"/>
<use href="#st" x="439.4" y="834.8"/>
<use href="#st" x="443.9" y="842.4"/>
<use href="#st" x="451.5" y="854.5"/>
<use href="#st" x="457.5" y="863.6"/>
<use href="#st" x="466.6" y="853.0"/>
<use href="#st" x="471.2" y="874.2"/>
<use href="#st" x="471.2" y="887.8"/>
<use href="#st" x="471.2" y="909.0"/>
<use href="#st" x="475.7" y="933.2"/>
<use href="#st" x="471.9" y="815.1"/>
<use href="#st" x="480.2" y="825.7"/>
<use href="#st" x="490.8" y="845.4"/>
<use href="#st" x="506.0" y="883.3"/>
<use href="#st" x="495.4" y="904.5"/>
<use href="#st" x="515.1" y="915.1"/>
<use href="#st" x="527.2" y="899.9"/>
<use href="#st" x="533.2" y="925.7"/>
<use href="#st" x="504.5" y="931.7"/>
<use href="#st" x="527.2" y="962.0"/>
<use href="#st" x="539.3" y="968.1"/>
<use href="#st" x="528.7" y="975.6"/>
<use href="#st" x="515.1" y="815.1"/>
<use href="#st" x="521.1" y="824.2"/>
<use href="#st" x="527.2" y="837.9"/>
<use href="#st" x="531.7" y="845.4"/>
<use href="#st" x="537.8" y="854.5"/>
<use href="#st" x="552.9" y="852.2"/>
<use href="#st" x="555.9" y="874.2"/>
<use href="#st" x="528.7" y="871.2"/>
<use href="#st" x="559.0" y="887.8"/>
<use href="#st" x="557.5" y="909.0"/>
<use href="#st" x="561.2" y="933.2"/>
<use href="#st" x="583.2" y="904.5"/>
<use href="#st" x="536.3" y="913.6"/>
<use href="#st" x="517.0" y="981.1"/>
<use href="#st" x="528.9" y="975.2"/>
<use href="#st" x="540.7" y="969.3"/>
<use href="#st" x="528.1" y="961.9"/>
<use href="#st" x="514.1" y="955.9"/>
<use href="#st" x="523.0" y="953.0"/>
<use href="#st" x="499.3" y="1009.3"/>
<use href="#st" x="518.5" y="1015.2"/>
<use href="#st" x="517.0" y="1004.8"/>
<use href="#st" x="525.9" y="1004.8"/>
<use href="#st" x="533.3" y="1004.8"/>
<use href="#st" x="542.2" y="1004.8"/>
<use href="#st" x="478.5" y="1030.0"/>
<use href="#st" x="564.4" y="1030.0"/>
<use href="#st" x="585.2" y="1009.3"/>
<use href="#st" x="528.1" y="1050.7"/>
<use href="#st" x="292.6" y="773.3"/>
<use href="#st" x="377.8" y="773.3"/>
<use href="#st" x="397.0" y="788.1"/>
<use href="#st" x="428.1" y="774.8"/>
<use href="#st" x="434.1" y="776.3"/>
<use href="#st" x="607.0" y="874.6"/>
<use href="#st" x="584.4" y="904.9"/>
<use href="#st" x="581.9" y="1008.1"/>
<use href="#st" x="564.2" y="1030.8"/>
<use href="#st" x="478.6" y="1030.8"/>
<use href="#st" x="428.2" y="821.7"/>
<use href="#st" x="554.2" y="852.0"/>
</g>
</g>
<g clip-path="url(#clipd)">
<g fill="#fff" stroke="#50bbfc" stroke-width="3.6" stroke-linejoin="round">
<use href="#st" x="867.8" y="699.8"/>
<use href="#sn" x="910.3" y="760.1"/>
<use href="#st" x="886.3" y="742.6"/>
<use href="#st" x="896.7" y="765.0"/>
<use href="#sn" x="893.1" y="740.5"/>
<use href="#st" x="970.1" y="783.1"/>
<use href="#st" x="923.3" y="787.9"/>
<use href="#st" x="887.0" y="724.0"/>
<use href="#st" x="917.3" y="766.6"/>
<use href="#st" x="908.3" y="777.9"/>
<use href="#st" x="903.0" y="764.1"/>
<use href="#st" x="904.7" y="771.6"/>
<use href="#st" x="860.9" y="705.5"/>
<use href="#st" x="962.1" y="787.7"/>
<use href="#st" x="877.8" y="717.4"/>
<use href="#sn" x="917.4" y="768.6"/>
<use href="#st" x="899.9" y="739.1"/>
<use href="#sn" x="886.7" y="752.8"/>
<use href="#st" x="908.5" y="770.4"/>
<use href="#st" x="940.5" y="781.6"/>
<use href="#sn" x="976.5" y="787.7"/>
<use href="#st" x="957.0" y="790.3"/>
<use href="#st" x="881.7" y="733.8"/>
<use href="#st" x="899.3" y="753.6"/>
<use href="#sn" x="903.7" y="776.4"/>
<use href="#sn" x="879.6" y="724.0"/>
<use href="#st" x="946.3" y="786.9"/>
<use href="#st" x="891.4" y="759.2"/>
<use href="#sn" x="923.0" y="778.6"/>
<use href="#sn" x="903.9" y="758.6"/>
<use href="#sn" x="884.5" y="728.1"/>
<use href="#st" x="926.8" y="777.8"/>
<use href="#sn" x="881.6" y="729.1"/>
<use href="#sn" x="920.5" y="771.8"/>
<use href="#sn" x="874.6" y="721.3"/>
<use href="#st" x="935.5" y="784.3"/>
<use href="#sn" x="898.5" y="748.4"/>
<use href="#sn" x="993.9" y="787.7"/>
<use href="#st" x="923.2" y="783.3"/>
<use href="#st" x="916.1" y="776.7"/>
<use href="#sn" x="1006.3" y="789.4"/>
<use href="#st" x="982.4" y="783.5"/>
<use href="#st" x="950.7" y="781.7"/>
<use href="#st" x="890.2" y="729.7"/>
<use href="#st" x="998.3" y="788.9"/>
<use href="#st" x="935.5" y="790.3"/>
<use href="#st" x="939.7" y="774.6"/>
<use href="#st" x="892.0" y="750.9"/>
<use href="#st" x="902.5" y="752.5"/>
<use href="#sn" x="892.7" y="734.2"/>
<use href="#sn" x="875.6" y="718.6"/>
<use href="#st" x="992.9" y="782.9"/>
<use href="#st" x="890.2" y="721.1"/>
<use href="#st" x="929.0" y="790.5"/>
<use href="#st" x="867.5" y="715.3"/>
<use href="#st" x="890.3" y="763.1"/>
<use href="#st" x="976.4" y="781.0"/>
<use href="#st" x="938.6" y="788.4"/>
<use href="#st" x="885.0" y="736.3"/>
<use href="#st" x="862.1" y="697.3"/>
<use href="#st" x="935.0" y="775.1"/>
<use href="#sn" x="964.1" y="782.0"/>
<use href="#st" x="896.4" y="728.7"/>
<use href="#sn" x="953.6" y="788.8"/>
<use href="#st" x="988.8" y="783.0"/>
<use href="#sn" x="946.0" y="783.0"/>
<use href="#st" x="957.0" y="782.1"/>
<use href="#st" x="893.9" y="748.5"/>
<use href="#st" x="981.7" y="787.3"/>
<use href="#sn" x="913.8" y="781.1"/>
<use href="#st" x="950.1" y="778.5"/>
<use href="#sn" x="987.4" y="790.1"/>
<use href="#sn" x="899.2" y="758.0"/>
<use href="#st" x="896.5" y="736.2"/>
<use href="#st" x="898.2" y="771.9"/>
<use href="#st" x="944.4" y="776.6"/>
<use href="#st" x="968.4" y="788.6"/>
<use href="#st" x="909.2" y="763.9"/>
<use href="#st" x="863.3" y="709.6"/>
<use href="#st" x="886.1" y="746.5"/>
<use href="#st" x="926.0" y="781.8"/>
<use href="#st" x="984.7" y="808.5"/>
<use href="#st" x="982.1" y="796.4"/>
<use href="#st" x="994.8" y="811.7"/>
<use href="#st" x="994.9" y="797.8"/>
<use href="#st" x="989.7" y="804.8"/>
<use href="#sn" x="1002.6" y="811.2"/>
<use href="#st" x="1000.9" y="821.6"/>
<use href="#sn" x="994.0" y="816.1"/>
<use href="#st" x="998.8" y="804.7"/>
<use href="#sn" x="982.0" y="791.4"/>
<use href="#st" x="987.9" y="792.0"/>
<use href="#st" x="1001.3" y="815.2"/>
<use href="#sn" x="1005.2" y="796.1"/>
<use href="#st" x="1000.7" y="798.2"/>
<use href="#st" x="975.4" y="797.5"/>
<use href="#sn" x="988.7" y="798.5"/>
<use href="#st" x="994.0" y="793.2"/>
<use href="#st" x="1002.6" y="792.2"/>
<use href="#sn" x="995.7" y="803.3"/>
<use href="#sn" x="982.9" y="802.7"/>
<use href="#sn" x="993.8" y="822.2"/>
<use href="#sn" x="977.4" y="793.9"/>
<use href="#st" x="978.9" y="802.2"/>
<use href="#sn" x="989.4" y="810.2"/>
<use href="#st" x="1004.9" y="815.3"/>
<use href="#st" x="988.9" y="815.4"/>
<use href="#st" x="1006.4" y="811.4"/>
<use href="#sn" x="1009.1" y="808.3"/>
<use href="#st" x="1003.5" y="791.3"/>
<use href="#st" x="1004.0" y="803.3"/>
<use href="#st" x="976.3" y="784.2"/>
<use href="#st" x="1001.6" y="827.6"/>
<use href="#sn" x="985.6" y="796.8"/>
<use href="#st" x="1024.1" y="821.8"/>
<use href="#st" x="1009.3" y="830.0"/>
<use href="#sn" x="983.7" y="784.5"/>
<use href="#sn" x="1008.3" y="821.7"/>
<use href="#sn" x="990.7" y="809.1"/>
<use href="#st" x="996.0" y="811.0"/>
<use href="#st" x="1003.1" y="787.0"/>
<use href="#st" x="1013.8" y="811.5"/>
<use href="#sn" x="1009.2" y="804.2"/>
<use href="#sn" x="1037.0" y="816.2"/>
<use href="#sn" x="1001.0" y="809.0"/>
<use href="#st" x="1012.4" y="798.8"/>
<use href="#st" x="1025.0" y="829.4"/>
<use href="#sn" x="1002.9" y="797.1"/>
<use href="#st" x="989.8" y="781.1"/>
<use href="#sn" x="970.0" y="791.6"/>
<use href="#st" x="989.5" y="790.3"/>
<use href="#st" x="1016.1" y="805.8"/>
<use href="#sn" x="997.3" y="799.0"/>
<use href="#st" x="1002.2" y="823.0"/>
<use href="#st" x="1033.4" y="826.6"/>
<use href="#sn" x="1019.0" y="809.6"/>
<use href="#st" x="1024.0" y="818.2"/>
<use href="#st" x="990.2" y="815.4"/>
<use href="#st" x="1024.5" y="809.0"/>
<use href="#st" x="1032.8" y="820.3"/>
<use href="#sn" x="995.0" y="793.1"/>
<use href="#sn" x="990.8" y="823.9"/>
<use href="#st" x="974.0" y="786.7"/>
<use href="#st" x="1019.4" y="821.1"/>
<use href="#st" x="984.8" y="794.1"/>
<use href="#sn" x="1009.8" y="792.4"/>
<use href="#sn" x="996.5" y="804.9"/>
<use href="#st" x="1032.9" y="811.1"/>
<use href="#st" x="995.3" y="823.2"/>
<use href="#st" x="1018.2" y="818.1"/>
<use href="#st" x="995.2" y="828.9"/>
<use href="#st" x="1007.1" y="797.8"/>
<use href="#st" x="990.5" y="798.2"/>
<use href="#st" x="991.5" y="787.3"/>
<use href="#sn" x="1033.4" y="818.3"/>
<use href="#st" x="1008.3" y="816.8"/>
<use href="#st" x="1036.1" y="821.0"/>
<use href="#st" x="984.2" y="811.0"/>
<use href="#sn" x="990.3" y="805.8"/>
<use href="#st" x="1001.2" y="815.5"/>
<use href="#st" x="983.3" y="805.7"/>
<use href="#st" x="994.3" y="788.1"/>
<use href="#sn" x="979.3" y="792.7"/>
<use href="#sn" x="1019.3" y="802.2"/>
<use href="#st" x="982.5" y="781.6"/>
<use href="#sn" x="996.5" y="815.4"/>
<use href="#st" x="1020.7" y="829.6"/>
<use href="#st" x="1013.3" y="828.3"/>
<use href="#st" x="1012.2" y="816.7"/>
<use href="#st" x="976.8" y="779.8"/>
<use href="#st" x="979.6" y="798.7"/>
<use href="#st" x="1013.3" y="823.6"/>
<use href="#st" x="1131.7" y="734.1"/>
<use href="#st" x="1142.5" y="728.4"/>
<use href="#st" x="1237.8" y="734.5"/>
<use href="#sn" x="1207.9" y="720.4"/>
<use href="#st" x="1212.2" y="727.4"/>
<use href="#sn" x="1148.5" y="720.2"/>
<use href="#sn" x="1227.2" y="725.4"/>
<use href="#sn" x="1166.1" y="715.7"/>
<use href="#st" x="1268.4" y="754.7"/>
<use href="#st" x="1225.1" y="731.2"/>
<use href="#st" x="1212.3" y="713.9"/>
<use href="#sn" x="1200.7" y="716.3"/>
<use href="#st" x="1183.2" y="719.9"/>
<use href="#sn" x="1136.3" y="720.3"/>
<use href="#st" x="1228.1" y="722.4"/>
<use href="#st" x="1129.8" y="725.4"/>
<use href="#st" x="1230.9" y="732.0"/>
<use href="#st" x="1195.8" y="721.0"/>
<use href="#st" x="1177.5" y="708.8"/>
<use href="#sn" x="1174.1" y="709.0"/>
<use href="#st" x="1148.7" y="725.2"/>
<use href="#st" x="1153.4" y="727.0"/>
<use href="#st" x="1244.0" y="719.2"/>
<use href="#st" x="1248.7" y="732.6"/>
<use href="#st" x="1159.6" y="714.9"/>
<use href="#st" x="1200.1" y="721.0"/>
<use href="#sn" x="1256.2" y="752.3"/>
<use href="#sn" x="1158.4" y="708.8"/>
<use href="#st" x="1262.6" y="750.5"/>
<use href="#st" x="1153.0" y="738.5"/>
<use href="#sn" x="1168.2" y="720.5"/>
<use href="#sn" x="1261.5" y="743.2"/>
<use href="#st" x="1218.8" y="727.4"/>
<use href="#st" x="1184.9" y="714.3"/>
<use href="#st" x="1207.3" y="714.3"/>
<use href="#st" x="1190.3" y="721.8"/>
<use href="#sn" x="1143.9" y="722.3"/>
<use href="#sn" x="1135.6" y="733.8"/>
<use href="#st" x="1249.0" y="728.7"/>
<use href="#sn" x="1123.6" y="725.6"/>
<use href="#st" x="1233.7" y="714.7"/>
<use href="#st" x="1214.0" y="719.3"/>
<use href="#st" x="1137.6" y="725.7"/>
<use href="#sn" x="1165.5" y="725.9"/>
<use href="#st" x="1154.8" y="731.7"/>
<use href="#st" x="1150.1" y="715.0"/>
<use href="#st" x="1152.2" y="713.0"/>
<use href="#sn" x="1243.4" y="728.6"/>
<use href="#st" x="1237.2" y="719.9"/>
<use href="#st" x="1221.5" y="730.7"/>
<use href="#st" x="1243.9" y="739.1"/>
<use href="#sn" x="1231.8" y="726.6"/>
<use href="#sn" x="1240.1" y="727.4"/>
<use href="#st" x="1173.7" y="713.8"/>
<use href="#st" x="1142.9" y="716.1"/>
<use href="#st" x="1219.2" y="718.8"/>
<use href="#sn" x="1248.3" y="740.7"/>
<use href="#st" x="1197.2" y="716.3"/>
<use href="#st" x="1238.9" y="739.5"/>
<use href="#sn" x="1158.5" y="728.5"/>
<use href="#st" x="1174.0" y="720.1"/>
<use href="#st" x="1158.0" y="719.2"/>
<use href="#st" x="1231.5" y="718.8"/>
<use href="#st" x="1168.2" y="709.3"/>
<use href="#sn" x="1224.3" y="713.8"/>
<use href="#st" x="1148.2" y="734.5"/>
<use href="#sn" x="1242.2" y="734.7"/>
<use href="#st" x="1257.3" y="744.5"/>
<use href="#sn" x="1189.2" y="716.6"/>
<use href="#st" x="1251.0" y="743.8"/>
<use href="#sn" x="1154.9" y="719.6"/>
<use href="#st" x="1141.3" y="730.6"/>
<use href="#st" x="1262.7" y="756.9"/>
<use href="#sn" x="1220.1" y="714.1"/>
<use href="#st" x="1158.0" y="732.9"/>
<use href="#sn" x="1256.3" y="738.3"/>
<use href="#st" x="1254.9" y="734.6"/>
<use href="#st" x="1179.3" y="716.3"/>
</g>
<g fill="#fff" stroke="#50bbfc" stroke-width="3.6" stroke-linejoin="round">
<use href="#st" x="866.5" y="651.8"/>
<use href="#st" x="848.3" y="673.7"/>
<use href="#st" x="819.5" y="653.3"/>
<use href="#st" x="865.0" y="698.7"/>
<use href="#st" x="861.9" y="710.8"/>
<use href="#st" x="884.6" y="718.4"/>
<use href="#st" x="893.7" y="718.4"/>
<use href="#st" x="890.7" y="735.1"/>
<use href="#st" x="901.3" y="748.7"/>
<use href="#st" x="911.9" y="757.8"/>
<use href="#st" x="975.5" y="777.5"/>
<use href="#st" x="998.2" y="777.5"/>
<use href="#st" x="828.6" y="719.9"/>
<use href="#st" x="1011.8" y="783.5"/>
<use href="#st" x="815.0" y="719.9"/>
<use href="#st" x="861.9" y="861.8"/>
<use href="#st" x="858.9" y="895.1"/>
<use href="#st" x="884.6" y="907.2"/>
<use href="#st" x="896.8" y="907.2"/>
<use href="#st" x="849.8" y="958.7"/>
<use href="#st" x="863.4" y="958.7"/>
<use href="#st" x="908.9" y="873.9"/>
<use href="#st" x="913.4" y="878.4"/>
<use href="#st" x="936.1" y="810.3"/>
<use href="#st" x="974.0" y="795.1"/>
<use href="#st" x="975.9" y="777.7"/>
<use href="#st" x="998.9" y="780.0"/>
<use href="#st" x="977.7" y="795.3"/>
<use href="#st" x="1024.8" y="827.1"/>
<use href="#st" x="1035.4" y="808.3"/>
<use href="#st" x="1041.2" y="821.2"/>
<use href="#st" x="1016.5" y="802.4"/>
<use href="#st" x="848.7" y="962.7"/>
<use href="#st" x="863.8" y="964.4"/>
<use href="#st" x="873.0" y="980.4"/>
<use href="#st" x="859.6" y="997.2"/>
<use href="#st" x="844.5" y="1029.0"/>
<use href="#st" x="1122.7" y="723.9"/>
<use href="#st" x="1130.3" y="730.0"/>
<use href="#st" x="1142.4" y="734.5"/>
<use href="#st" x="1162.1" y="722.4"/>
<use href="#st" x="1210.5" y="720.9"/>
<use href="#st" x="1257.5" y="743.6"/>
<use href="#st" x="1268.1" y="761.8"/>
<use href="#st" x="1157.5" y="705.7"/>
<use href="#st" x="1175.7" y="705.7"/>
<use href="#st" x="1186.3" y="707.3"/>
<use href="#st" x="1243.8" y="713.3"/>
</g>
<g fill="#fff" stroke="#f87171" stroke-width="3.6" stroke-linejoin="round">
<use href="#st" x="867.3" y="757.6"/>
<use href="#st" x="857.8" y="758.8"/>
<use href="#sn" x="893.6" y="767.4"/>
<use href="#st" x="872.1" y="751.9"/>
<use href="#st" x="889.9" y="774.3"/>
<use href="#sn" x="868.7" y="764.5"/>
<use href="#sn" x="879.8" y="767.5"/>
<use href="#sn" x="902.3" y="771.2"/>
<use href="#st" x="850.3" y="756.1"/>
<use href="#sn" x="873.3" y="770.1"/>
<use href="#st" x="898.1" y="774.3"/>
<use href="#sn" x="896.6" y="767.9"/>
<use href="#st" x="943.7" y="782.6"/>
<use href="#st" x="889.8" y="788.5"/>
<use href="#st" x="884.5" y="780.9"/>
<use href="#sn" x="904.9" y="789.0"/>
<use href="#st" x="856.6" y="749.4"/>
<use href="#st" x="939.2" y="780.0"/>
<use href="#sn" x="885.4" y="769.9"/>
<use href="#sn" x="934.8" y="780.4"/>
<use href="#sn" x="893.7" y="782.8"/>
<use href="#sn" x="909.6" y="780.9"/>
<use href="#st" x="877.9" y="764.8"/>
<use href="#sn" x="862.8" y="786.7"/>
<use href="#sn" x="859.8" y="752.3"/>
<use href="#st" x="869.2" y="775.6"/>
<use href="#st" x="872.9" y="788.0"/>
<use href="#sn" x="871.6" y="775.3"/>
<use href="#st" x="928.4" y="786.3"/>
<use href="#st" x="856.1" y="743.7"/>
<use href="#sn" x="863.1" y="768.7"/>
<use href="#st" x="857.3" y="737.3"/>
<use href="#st" x="910.3" y="791.3"/>
<use href="#st" x="860.2" y="745.9"/>
<use href="#sn" x="910.7" y="786.2"/>
<use href="#sn" x="879.6" y="757.3"/>
<use href="#st" x="944.1" y="773.9"/>
<use href="#st" x="863.2" y="765.0"/>
<use href="#st" x="867.5" y="752.7"/>
<use href="#st" x="857.7" y="774.5"/>
<use href="#st" x="862.5" y="776.9"/>
<use href="#sn" x="863.2" y="737.6"/>
<use href="#st" x="860.6" y="781.1"/>
<use href="#st" x="881.4" y="774.2"/>
<use href="#sn" x="883.9" y="776.5"/>
<use href="#sn" x="921.9" y="787.4"/>
<use href="#st" x="939.8" y="786.4"/>
<use href="#sn" x="869.3" y="785.7"/>
<use href="#st" x="896.0" y="781.4"/>
<use href="#sn" x="932.0" y="785.9"/>
<use href="#st" x="921.1" y="782.0"/>
<use href="#st" x="931.9" y="775.8"/>
<use href="#st" x="917.1" y="788.8"/>
<use href="#st" x="869.5" y="779.6"/>
<use href="#sn" x="868.2" y="740.7"/>
<use href="#st" x="886.7" y="787.7"/>
<use href="#sn" x="901.6" y="773.8"/>
<use href="#sn" x="874.2" y="779.1"/>
<use href="#st" x="897.6" y="786.7"/>
<use href="#st" x="883.8" y="762.5"/>
<use href="#st" x="859.7" y="756.6"/>
<use href="#st" x="879.4" y="785.7"/>
<use href="#st" x="945.7" y="785.7"/>
<use href="#st" x="848.8" y="702.2"/>
<use href="#st" x="949.7" y="786.9"/>
<use href="#st" x="868.3" y="791.7"/>
<use href="#st" x="856.6" y="763.4"/>
<use href="#st" x="865.7" y="768.9"/>
<use href="#sn" x="869.1" y="743.4"/>
<use href="#sn" x="878.5" y="780.8"/>
<use href="#sn" x="928.2" y="780.8"/>
<use href="#st" x="902.1" y="781.2"/>
<use href="#st" x="902.4" y="791.2"/>
<use href="#st" x="855.6" y="732.7"/>
<use href="#st" x="916.2" y="783.1"/>
<use href="#st" x="911.6" y="773.9"/>
<use href="#st" x="873.4" y="756.0"/>
<use href="#st" x="855.8" y="780.3"/>
<use href="#st" x="940.6" y="773.1"/>
<use href="#st" x="875.6" y="761.5"/>
<use href="#st" x="854.2" y="769.1"/>
<use href="#sn" x="897.5" y="791.2"/>
<use href="#st" x="898.0" y="871.2"/>
<use href="#sn" x="987.0" y="910.0"/>
<use href="#st" x="974.4" y="898.6"/>
<use href="#sn" x="934.1" y="853.7"/>
<use href="#sn" x="931.3" y="862.1"/>
<use href="#sn" x="1006.2" y="856.0"/>
<use href="#sn" x="919.2" y="828.8"/>
<use href="#sn" x="963.4" y="835.5"/>
<use href="#sn" x="913.8" y="883.9"/>
<use href="#st" x="938.1" y="845.0"/>
<use href="#st" x="969.5" y="889.6"/>
<use href="#st" x="997.9" y="893.9"/>
<use href="#sn" x="988.1" y="894.7"/>
<use href="#st" x="945.3" y="833.9"/>
<use href="#st" x="921.7" y="840.4"/>
<use href="#st" x="946.0" y="803.2"/>
<use href="#st" x="998.7" y="854.0"/>
<use href="#st" x="1004.2" y="851.3"/>
<use href="#st" x="892.1" y="881.1"/>
<use href="#st" x="924.7" y="876.3"/>
<use href="#st" x="872.7" y="832.8"/>
<use href="#sn" x="913.0" y="869.1"/>
<use href="#st" x="986.2" y="886.7"/>
<use href="#sn" x="943.5" y="820.4"/>
<use href="#st" x="919.4" y="888.2"/>
<use href="#st" x="866.5" y="877.7"/>
<use href="#st" x="871.9" y="862.3"/>
<use href="#st" x="867.8" y="798.5"/>
<use href="#st" x="919.4" y="821.8"/>
<use href="#st" x="867.4" y="812.1"/>
<use href="#st" x="936.3" y="803.3"/>
<use href="#sn" x="950.7" y="797.2"/>
<use href="#st" x="969.8" y="894.4"/>
<use href="#sn" x="901.5" y="869.1"/>
<use href="#st" x="896.2" y="797.6"/>
<use href="#sn" x="949.7" y="859.3"/>
<use href="#st" x="913.9" y="860.1"/>
<use href="#st" x="946.2" y="799.2"/>
<use href="#st" x="985.1" y="860.1"/>
<use href="#st" x="918.7" y="798.1"/>
<use href="#st" x="991.1" y="912.0"/>
<use href="#sn" x="987.5" y="882.9"/>
<use href="#st" x="970.3" y="865.0"/>
<use href="#st" x="962.1" y="862.0"/>
<use href="#st" x="885.3" y="827.9"/>
<use href="#st" x="880.2" y="875.6"/>
<use href="#sn" x="960.5" y="805.4"/>
<use href="#st" x="926.4" y="793.9"/>
<use href="#st" x="972.7" y="888.7"/>
<use href="#st" x="874.0" y="880.8"/>
<use href="#st" x="987.2" y="900.0"/>
<use href="#st" x="884.7" y="875.0"/>
<use href="#st" x="906.9" y="865.9"/>
<use href="#sn" x="897.2" y="838.5"/>
<use href="#st" x="904.3" y="850.9"/>
<use href="#sn" x="981.5" y="882.4"/>
<use href="#sn" x="890.2" y="835.0"/>
<use href="#sn" x="880.4" y="894.1"/>
<use href="#sn" x="912.4" y="808.6"/>
<use href="#sn" x="976.1" y="858.4"/>
<use href="#sn" x="975.5" y="877.7"/>
<use href="#sn" x="872.4" y="805.6"/>
<use href="#st" x="940.2" y="800.0"/>
<use href="#sn" x="1005.6" y="883.6"/>
<use href="#st" x="886.1" y="883.3"/>
<use href="#sn" x="944.3" y="852.5"/>
<use href="#st" x="926.5" y="853.4"/>
<use href="#st" x="907.7" y="892.7"/>
<use href="#st" x="900.8" y="847.8"/>
<use href="#st" x="927.7" y="865.8"/>
<use href="#st" x="897.3" y="832.5"/>
<use href="#st" x="1002.8" y="876.4"/>
<use href="#st" x="927.9" y="814.3"/>
<use href="#st" x="918.3" y="845.6"/>
<use href="#sn" x="990.2" y="907.7"/>
<use href="#sn" x="879.2" y="840.7"/>
<use href="#st" x="1005.1" y="862.2"/>
<use href="#st" x="933.5" y="860.1"/>
<use href="#sn" x="904.3" y="798.4"/>
<use href="#sn" x="928.1" y="846.8"/>
<use href="#st" x="896.6" y="883.4"/>
<use href="#st" x="892.3" y="815.7"/>
<use href="#sn" x="866.0" y="804.3"/>
<use href="#st" x="906.7" y="870.9"/>
<use href="#sn" x="919.9" y="804.3"/>
<use href="#st" x="978.6" y="899.0"/>
<use href="#st" x="916.1" y="815.3"/>
<use href="#sn" x="957.1" y="820.0"/>
<use href="#st" x="915.9" y="836.0"/>
<use href="#sn" x="885.9" y="836.0"/>
<use href="#sn" x="967.8" y="875.3"/>
<use href="#st" x="912.8" y="791.3"/>
<use href="#sn" x="974.0" y="870.2"/>
<use href="#st" x="918.3" y="884.1"/>
<use href="#st" x="889.8" y="840.5"/>
<use href="#st" x="958.1" y="827.9"/>
<use href="#sn" x="986.3" y="853.8"/>
<use href="#st" x="891.6" y="788.0"/>
<use href="#st" x="895.9" y="793.8"/>
<use href="#sn" x="897.1" y="814.3"/>
<use href="#st" x="871.3" y="844.6"/>
<use href="#sn" x="999.5" y="905.6"/>
<use href="#st" x="900.6" y="829.5"/>
<use href="#st" x="932.1" y="820.2"/>
<use href="#st" x="870.5" y="808.3"/>
<use href="#st" x="933.7" y="814.8"/>
<use href="#sn" x="996.9" y="900.9"/>
<use href="#st" x="938.8" y="833.3"/>
<use href="#sn" x="920.3" y="853.7"/>
<use href="#st" x="894.9" y="877.1"/>
<use href="#st" x="949.8" y="853.6"/>
<use href="#sn" x="885.5" y="850.3"/>
<use href="#st" x="939.0" y="790.1"/>
<use href="#st" x="933.3" y="804.9"/>
<use href="#st" x="974.8" y="893.9"/>
<use href="#st" x="879.2" y="833.4"/>
<use href="#st" x="877.7" y="820.0"/>
<use href="#st" x="900.4" y="858.8"/>
<use href="#st" x="978.7" y="868.5"/>
<use href="#st" x="994.4" y="882.9"/>
<use href="#st" x="879.1" y="851.3"/>
<use href="#st" x="991.8" y="852.9"/>
<use href="#st" x="883.8" y="804.2"/>
<use href="#st" x="939.1" y="857.3"/>
<use href="#st" x="963.1" y="858.3"/>
<use href="#st" x="912.9" y="829.2"/>
<use href="#st" x="950.2" y="865.4"/>
<use href="#st" x="921.1" y="833.7"/>
<use href="#st" x="979.6" y="862.9"/>
<use href="#st" x="901.8" y="809.5"/>
<use href="#sn" x="871.4" y="798.3"/>
<use href="#st" x="916.4" y="886.0"/>
<use href="#st" x="961.5" y="844.3"/>
<use href="#st" x="910.0" y="811.0"/>
<use href="#sn" x="949.9" y="789.9"/>
<use href="#st" x="925.4" y="840.1"/>
<use href="#st" x="913.2" y="865.6"/>
<use href="#sn" x="974.9" y="884.0"/>
<use href="#st" x="956.7" y="847.3"/>
<use href="#st" x="926.0" y="808.0"/>
<use href="#sn" x="955.9" y="857.4"/>
<use href="#st" x="932.5" y="798.4"/>
<use href="#sn" x="908.5" y="875.8"/>
<use href="#st" x="889.1" y="854.1"/>
<use href="#st" x="891.2" y="796.8"/>
<use href="#st" x="1004.2" y="868.8"/>
<use href="#sn" x="902.3" y="899.1"/>
<use href="#st" x="990.5" y="900.0"/>
<use href="#st" x="933.7" y="839.6"/>
<use href="#sn" x="992.6" y="869.8"/>
<use href="#st" x="997.1" y="910.7"/>
<use href="#st" x="876.9" y="829.8"/>
<use href="#st" x="900.8" y="892.6"/>
<use href="#st" x="907.6" y="796.5"/>
<use href="#st" x="1004.6" y="910.2"/>
<use href="#st" x="945.2" y="839.0"/>
<use href="#st" x="872.5" y="815.7"/>
<use href="#st" x="926.4" y="872.0"/>
<use href="#st" x="979.2" y="850.7"/>
<use href="#st" x="891.2" y="886.6"/>
<use href="#st" x="938.7" y="810.4"/>
<use href="#st" x="879.5" y="793.0"/>
<use href="#st" x="897.6" y="809.6"/>
<use href="#st" x="950.6" y="810.8"/>
<use href="#st" x="942.5" y="812.1"/>
<use href="#st" x="932.0" y="829.6"/>
<use href="#st" x="921.2" y="809.3"/>
<use href="#sn" x="949.1" y="823.6"/>
<use href="#sn" x="922.2" y="857.5"/>
<use href="#st" x="867.3" y="883.6"/>
<use href="#sn" x="913.6" y="822.0"/>
<use href="#st" x="973.4" y="852.1"/>
<use href="#st" x="919.8" y="870.2"/>
<use href="#sn" x="939.9" y="817.2"/>
<use href="#sn" x="904.4" y="863.0"/>
<use href="#sn" x="910.2" y="827.1"/>
<use href="#st" x="890.0" y="871.6"/>
<use href="#st" x="986.9" y="871.5"/>
<use href="#sn" x="873.6" y="852.6"/>
<use href="#sn" x="907.3" y="841.1"/>
<use href="#sn" x="883.0" y="844.6"/>
<use href="#st" x="913.3" y="847.6"/>
<use href="#sn" x="884.9" y="870.4"/>
<use href="#sn" x="913.0" y="839.9"/>
<use href="#sn" x="961.7" y="814.6"/>
<use href="#st" x="963.9" y="886.1"/>
<use href="#sn" x="910.4" y="851.7"/>
<use href="#st" x="890.9" y="856.7"/>
<use href="#st" x="896.3" y="827.6"/>
<use href="#st" x="990.3" y="857.0"/>
<use href="#st" x="998.3" y="868.6"/>
<use href="#sn" x="904.4" y="833.5"/>
<use href="#sn" x="877.0" y="882.7"/>
<use href="#st" x="910.3" y="820.4"/>
<use href="#st" x="980.4" y="895.5"/>
<use href="#st" x="948.6" y="832.1"/>
<use href="#st" x="916.0" y="894.2"/>
<use href="#st" x="918.4" y="817.2"/>
<use href="#st" x="895.4" y="847.6"/>
<use href="#st" x="877.9" y="799.9"/>
<use href="#st" x="909.9" y="843.9"/>
<use href="#sn" x="891.0" y="810.4"/>
<use href="#st" x="872.9" y="894.7"/>
<use href="#st" x="926.6" y="820.3"/>
<use href="#st" x="945.9" y="863.4"/>
<use href="#sn" x="909.8" y="859.8"/>
<use href="#st" x="872.7" y="887.2"/>
<use href="#st" x="872.5" y="868.9"/>
<use href="#st" x="878.1" y="816.6"/>
<use href="#sn" x="883.0" y="797.6"/>
<use href="#st" x="950.7" y="847.4"/>
<use href="#sn" x="961.6" y="874.4"/>
<use href="#sn" x="876.5" y="801.9"/>
<use href="#st" x="960.5" y="852.7"/>
<use href="#st" x="909.2" y="804.1"/>
<use href="#st" x="927.1" y="859.0"/>
<use href="#st" x="948.5" y="817.7"/>
<use href="#st" x="942.8" y="845.6"/>
<use href="#sn" x="940.2" y="839.8"/>
<use href="#st" x="979.2" y="858.5"/>
<use href="#st" x="867.7" y="788.1"/>
<use href="#sn" x="901.4" y="840.1"/>
<use href="#st" x="904.1" y="889.4"/>
<use href="#sn" x="944.3" y="790.7"/>
<use href="#st" x="987.2" y="864.4"/>
<use href="#sn" x="884.9" y="859.3"/>
<use href="#st" x="890.5" y="895.9"/>
<use href="#st" x="1006.1" y="907.4"/>
<use href="#st" x="873.0" y="827.1"/>
<use href="#st" x="916.0" y="876.6"/>
<use href="#sn" x="987.6" y="875.5"/>
<use href="#st" x="1005.4" y="895.4"/>
<use href="#st" x="967.9" y="852.5"/>
<use href="#st" x="957.3" y="804.7"/>
<use href="#sn" x="900.2" y="804.9"/>
<use href="#st" x="886.3" y="893.0"/>
<use href="#sn" x="967.6" y="870.5"/>
<use href="#st" x="880.0" y="868.9"/>
<use href="#st" x="960.9" y="809.1"/>
<use href="#sn" x="956.3" y="850.2"/>
<use href="#st" x="964.0" y="883.7"/>
<use href="#st" x="993.7" y="877.0"/>
<use href="#sn" x="999.8" y="864.0"/>
<use href="#st" x="908.9" y="880.8"/>
<use href="#st" x="891.2" y="790.5"/>
<use href="#st" x="894.4" y="887.2"/>
<use href="#st" x="949.9" y="828.2"/>
<use href="#st" x="904.1" y="821.2"/>
<use href="#sn" x="916.0" y="796.2"/>
<use href="#st" x="944.1" y="815.5"/>
<use href="#sn" x="998.3" y="880.6"/>
<use href="#st" x="931.5" y="811.9"/>
<use href="#st" x="890.7" y="865.6"/>
<use href="#sn" x="975.9" y="904.9"/>
<use href="#st" x="955.4" y="835.0"/>
<use href="#st" x="884.8" y="887.2"/>
<use href="#sn" x="952.4" y="841.7"/>
<use href="#sn" x="871.9" y="822.5"/>
<use href="#st" x="901.7" y="790.4"/>
<use href="#st" x="926.6" y="803.7"/>
<use href="#st" x="895.2" y="802.9"/>
<use href="#st" x="981.3" y="876.9"/>
<use href="#st" x="932.2" y="831.9"/>
<use href="#st" x="931.9" y="848.1"/>
<use href="#st" x="882.3" y="864.3"/>
<use href="#st" x="969.4" y="859.1"/>
<use href="#sn" x="884.4" y="790.3"/>
<use href="#st" x="913.1" y="805.8"/>
<use href="#st" x="877.6" y="809.3"/>
<use href="#st" x="892.2" y="847.6"/>
<use href="#sn" x="897.1" y="859.8"/>
<use href="#st" x="956.1" y="863.5"/>
<use href="#st" x="879.5" y="844.9"/>
<use href="#st" x="896.6" y="820.2"/>
<use href="#st" x="873.9" y="876.8"/>
<use href="#st" x="1002.4" y="847.9"/>
<use href="#sn" x="873.1" y="858.0"/>
<use href="#st" x="942.6" y="857.6"/>
<use href="#st" x="927.5" y="826.2"/>
<use href="#st" x="879.8" y="890.0"/>
<use href="#sn" x="998.1" y="876.5"/>
<use href="#sn" x="868.2" y="870.5"/>
<use href="#st" x="898.4" y="895.2"/>
<use href="#st" x="933.5" y="790.6"/>
<use href="#st" x="866.4" y="791.9"/>
<use href="#st" x="936.7" y="829.1"/>
<use href="#st" x="908.5" y="832.6"/>
<use href="#st" x="891.4" y="874.9"/>
<use href="#st" x="921.2" y="874.7"/>
<use href="#st" x="938.5" y="865.1"/>
<use href="#st" x="892.3" y="804.3"/>
<use href="#st" x="951.6" y="804.0"/>
<use href="#sn" x="975.0" y="862.4"/>
<use href="#sn" x="954.6" y="841.8"/>
<use href="#sn" x="907.1" y="887.9"/>
<use href="#st" x="876.3" y="863.9"/>
<use href="#sn" x="942.3" y="826.5"/>
<use href="#st" x="872.7" y="898.2"/>
<use href="#sn" x="957.8" y="816.7"/>
<use href="#sn" x="915.2" y="850.8"/>
<use href="#st" x="895.8" y="864.3"/>
<use href="#sn" x="926.5" y="833.6"/>
<use href="#st" x="909.6" y="816.3"/>
<use href="#st" x="919.4" y="864.3"/>
<use href="#st" x="992.4" y="887.1"/>
<use href="#st" x="993.8" y="892.0"/>
<use href="#st" x="883.2" y="809.6"/>
<use href="#st" x="871.9" y="841.4"/>
<use href="#st" x="889.9" y="821.4"/>
<use href="#st" x="1005.2" y="888.6"/>
<use href="#sn" x="903.1" y="874.9"/>
<use href="#st" x="997.4" y="858.4"/>
<use href="#st" x="1003.3" y="899.2"/>
<use href="#sn" x="890.1" y="828.7"/>
<use href="#sn" x="957.7" y="810.1"/>
<use href="#st" x="883.5" y="816.4"/>
<use href="#st" x="940.1" y="822.9"/>
<use href="#st" x="896.6" y="853.1"/>
<use href="#st" x="963.1" y="829.9"/>
<use href="#st" x="988.1" y="905.9"/>
<use href="#sn" x="997.6" y="847.6"/>
<use href="#st" x="960.8" y="871.7"/>
<use href="#st" x="999.0" y="887.1"/>
<use href="#sn" x="968.8" y="883.3"/>
<use href="#sn" x="922.1" y="790.3"/>
<use href="#sn" x="961.4" y="840.1"/>
<use href="#st" x="924.8" y="799.4"/>
<use href="#st" x="902.6" y="817.6"/>
<use href="#st" x="867.6" y="890.0"/>
<use href="#sn" x="937.2" y="852.9"/>
<use href="#st" x="902.6" y="880.1"/>
<use href="#st" x="979.9" y="889.0"/>
<use href="#st" x="884.7" y="838.8"/>
<use href="#st" x="870.9" y="790.0"/>
<use href="#sn" x="993.8" y="863.4"/>
<use href="#st" x="885.5" y="824.1"/>
<use href="#sn" x="981.8" y="907.9"/>
<use href="#st" x="908.9" y="790.0"/>
<use href="#sn" x="877.1" y="858.4"/>
<use href="#st" x="976.0" y="851.8"/>
<use href="#st" x="1012.0" y="852.5"/>
<use href="#st" x="995.6" y="866.1"/>
<use href="#sn" x="1038.8" y="865.7"/>
<use href="#sn" x="1002.8" y="847.6"/>
<use href="#st" x="1014.6" y="857.3"/>
<use href="#sn" x="1007.2" y="846.4"/>
<use href="#st" x="1001.6" y="805.8"/>
<use href="#st" x="997.6" y="852.1"/>
<use href="#st" x="978.7" y="869.5"/>
<use href="#st" x="982.1" y="852.8"/>
<use href="#st" x="996.5" y="858.0"/>
<use href="#st" x="995.2" y="870.9"/>
<use href="#sn" x="1019.4" y="852.0"/>
<use href="#st" x="1019.0" y="871.3"/>
<use href="#st" x="1000.3" y="816.4"/>
<use href="#st" x="1027.5" y="859.0"/>
<use href="#sn" x="1019.9" y="857.1"/>
<use href="#st" x="1026.7" y="864.2"/>
<use href="#sn" x="978.9" y="864.8"/>
<use href="#st" x="1015.0" y="865.3"/>
<use href="#st" x="1003.1" y="860.7"/>
<use href="#st" x="996.2" y="824.8"/>
<use href="#sn" x="973.4" y="857.9"/>
<use href="#sn" x="997.5" y="818.3"/>
<use href="#sn" x="1001.5" y="812.9"/>
<use href="#st" x="1024.4" y="871.5"/>
<use href="#st" x="970.5" y="851.2"/>
<use href="#st" x="990.8" y="848.8"/>
<use href="#st" x="1002.3" y="840.7"/>
<use href="#st" x="1007.3" y="866.7"/>
<use href="#st" x="1004.1" y="852.8"/>
<use href="#st" x="1003.9" y="835.3"/>
<use href="#st" x="994.4" y="848.6"/>
<use href="#st" x="1030.9" y="864.2"/>
<use href="#st" x="1032.3" y="871.9"/>
<use href="#st" x="1007.5" y="824.5"/>
<use href="#sn" x="997.4" y="797.7"/>
<use href="#st" x="990.3" y="855.1"/>
<use href="#st" x="1020.4" y="866.3"/>
<use href="#sn" x="1008.0" y="829.2"/>
<use href="#sn" x="988.3" y="870.5"/>
<use href="#sn" x="1009.4" y="835.4"/>
<use href="#st" x="1001.6" y="864.6"/>
<use href="#st" x="971.3" y="871.7"/>
<use href="#sn" x="985.3" y="860.0"/>
<use href="#sn" x="1002.5" y="829.0"/>
<use href="#st" x="1009.5" y="854.7"/>
<use href="#sn" x="988.6" y="864.0"/>
<use href="#st" x="999.9" y="822.3"/>
<use href="#sn" x="997.0" y="830.9"/>
<use href="#st" x="973.4" y="863.6"/>
<use href="#sn" x="988.7" y="857.8"/>
<use href="#st" x="978.4" y="857.4"/>
<use href="#st" x="1009.8" y="871.4"/>
<use href="#st" x="1007.3" y="860.0"/>
<use href="#sn" x="984.4" y="863.5"/>
<use href="#st" x="996.4" y="810.2"/>
<use href="#st" x="1015.3" y="871.6"/>
<use href="#st" x="1006.0" y="841.1"/>
<use href="#sn" x="1165.4" y="756.9"/>
<use href="#sn" x="1203.1" y="780.4"/>
<use href="#st" x="1171.5" y="779.3"/>
<use href="#sn" x="1224.5" y="752.2"/>
<use href="#sn" x="1152.8" y="806.5"/>
<use href="#st" x="1160.6" y="805.7"/>
<use href="#st" x="1171.5" y="755.6"/>
<use href="#sn" x="1178.7" y="791.8"/>
<use href="#sn" x="1190.4" y="745.1"/>
<use href="#st" x="1186.4" y="758.0"/>
<use href="#st" x="1248.7" y="808.9"/>
<use href="#sn" x="1221.7" y="773.7"/>
<use href="#st" x="1188.6" y="770.9"/>
<use href="#sn" x="1208.3" y="764.2"/>
<use href="#sn" x="1207.2" y="798.1"/>
<use href="#st" x="1237.4" y="766.9"/>
<use href="#sn" x="1224.6" y="787.7"/>
<use href="#st" x="1196.1" y="767.2"/>
<use href="#st" x="1251.4" y="781.8"/>
<use href="#st" x="1159.9" y="764.9"/>
<use href="#sn" x="1149.0" y="798.4"/>
<use href="#st" x="1215.8" y="762.9"/>
<use href="#st" x="1269.5" y="790.9"/>
<use href="#sn" x="1221.4" y="781.7"/>
<use href="#st" x="1257.3" y="824.4"/>
<use href="#st" x="1189.9" y="786.8"/>
<use href="#st" x="1185.2" y="782.0"/>
<use href="#st" x="1197.8" y="764.5"/>
<use href="#sn" x="1250.0" y="798.3"/>
<use href="#st" x="1214.6" y="800.4"/>
<use href="#st" x="1191.2" y="780.7"/>
<use href="#sn" x="1146.7" y="787.5"/>
<use href="#st" x="1254.6" y="799.6"/>
<use href="#st" x="1233.8" y="788.5"/>
<use href="#st" x="1215.2" y="751.4"/>
<use href="#st" x="1232.4" y="775.8"/>
<use href="#st" x="1154.2" y="798.8"/>
<use href="#st" x="1219.1" y="787.4"/>
<use href="#sn" x="1207.6" y="785.4"/>
<use href="#sn" x="1179.2" y="785.0"/>
<use href="#sn" x="1245.4" y="781.4"/>
<use href="#st" x="1236.6" y="760.8"/>
<use href="#st" x="1252.4" y="770.5"/>
<use href="#st" x="1184.0" y="768.3"/>
<use href="#st" x="1210.2" y="744.6"/>
<use href="#sn" x="1244.5" y="761.9"/>
<use href="#st" x="1195.1" y="773.5"/>
<use href="#sn" x="1202.2" y="761.6"/>
<use href="#st" x="1210.3" y="755.7"/>
<use href="#sn" x="1173.1" y="793.4"/>
<use href="#sn" x="1190.1" y="734.5"/>
<use href="#st" x="1154.9" y="768.2"/>
<use href="#st" x="1188.5" y="792.2"/>
<use href="#st" x="1232.8" y="796.8"/>
<use href="#st" x="1183.9" y="743.0"/>
<use href="#sn" x="1177.7" y="767.7"/>
<use href="#sn" x="1173.9" y="770.7"/>
<use href="#st" x="1267.1" y="821.5"/>
<use href="#st" x="1209.3" y="769.5"/>
<use href="#st" x="1158.6" y="782.8"/>
<use href="#st" x="1185.8" y="785.3"/>
<use href="#sn" x="1194.7" y="785.7"/>
<use href="#st" x="1166.8" y="782.1"/>
<use href="#st" x="1238.3" y="757.5"/>
<use href="#st" x="1206.6" y="791.4"/>
<use href="#st" x="1248.8" y="786.0"/>
<use href="#st" x="1202.3" y="794.9"/>
<use href="#sn" x="1172.5" y="796.8"/>
<use href="#st" x="1269.5" y="828.6"/>
<use href="#st" x="1238.7" y="775.5"/>
<use href="#st" x="1160.0" y="788.7"/>
<use href="#st" x="1227.7" y="763.2"/>
<use href="#st" x="1221.5" y="754.9"/>
<use href="#st" x="1197.9" y="783.0"/>
<use href="#st" x="1149.4" y="806.0"/>
<use href="#sn" x="1246.1" y="770.4"/>
<use href="#st" x="1196.9" y="737.8"/>
<use href="#st" x="1234.0" y="794.0"/>
<use href="#st" x="1152.6" y="782.7"/>
<use href="#st" x="1207.7" y="779.2"/>
<use href="#sn" x="1263.0" y="795.0"/>
<use href="#sn" x="1167.5" y="800.2"/>
<use href="#st" x="1233.4" y="770.1"/>
<use href="#sn" x="1183.7" y="794.1"/>
<use href="#st" x="1176.3" y="750.6"/>
<use href="#st" x="1150.0" y="811.5"/>
<use href="#st" x="1191.0" y="774.3"/>
<use href="#st" x="1182.3" y="762.0"/>
<use href="#st" x="1214.4" y="785.2"/>
<use href="#sn" x="1148.1" y="781.3"/>
<use href="#st" x="1245.9" y="803.6"/>
<use href="#sn" x="1255.9" y="788.5"/>
<use href="#st" x="1179.0" y="762.5"/>
<use href="#st" x="1148.8" y="793.3"/>
<use href="#st" x="1189.7" y="749.2"/>
<use href="#sn" x="1225.5" y="770.5"/>
<use href="#st" x="1250.2" y="774.2"/>
<use href="#st" x="1165.1" y="788.4"/>
<use href="#st" x="1180.1" y="781.7"/>
<use href="#st" x="1160.7" y="799.3"/>
<use href="#sn" x="1261.3" y="787.0"/>
<use href="#sn" x="1239.3" y="791.3"/>
<use href="#st" x="1215.3" y="767.5"/>
<use href="#st" x="1174.3" y="749.9"/>
<use href="#st" x="1200.6" y="788.4"/>
<use href="#st" x="1267.5" y="800.1"/>
<use href="#st" x="1263.7" y="797.3"/>
<use href="#st" x="1177.0" y="740.1"/>
<use href="#sn" x="1231.6" y="782.2"/>
<use href="#st" x="1251.9" y="790.9"/>
<use href="#sn" x="1269.0" y="803.8"/>
<use href="#st" x="1192.2" y="757.6"/>
<use href="#st" x="1257.8" y="809.6"/>
<use href="#st" x="1195.2" y="755.7"/>
<use href="#sn" x="1255.2" y="817.9"/>
<use href="#st" x="1237.9" y="804.5"/>
<use href="#st" x="1234.1" y="763.4"/>
<use href="#st" x="1225.1" y="800.8"/>
<use href="#st" x="1218.9" y="762.3"/>
<use href="#st" x="1184.4" y="749.8"/>
<use href="#sn" x="1204.0" y="749.2"/>
<use href="#st" x="1216.0" y="774.6"/>
<use href="#st" x="1158.4" y="769.5"/>
<use href="#st" x="1219.3" y="791.8"/>
<use href="#st" x="1170.4" y="786.3"/>
<use href="#st" x="1266.5" y="816.8"/>
<use href="#st" x="1215.9" y="782.8"/>
<use href="#st" x="1165.4" y="762.1"/>
<use href="#st" x="1200.4" y="799.2"/>
<use href="#sn" x="1164.7" y="775.3"/>
<use href="#sn" x="1261.3" y="817.2"/>
<use href="#st" x="1227.3" y="782.1"/>
<use href="#sn" x="1225.8" y="757.5"/>
<use href="#st" x="1161.8" y="774.7"/>
<use href="#st" x="1262.1" y="803.6"/>
<use href="#sn" x="1201.2" y="769.3"/>
<use href="#st" x="1207.4" y="776.3"/>
<use href="#sn" x="1239.5" y="797.8"/>
<use href="#st" x="1218.9" y="798.3"/>
<use href="#st" x="1238.1" y="782.5"/>
<use href="#st" x="1245.8" y="774.2"/>
<use href="#st" x="1261.6" y="824.5"/>
<use href="#st" x="1215.9" y="746.1"/>
<use href="#st" x="1244.0" y="812.6"/>
<use href="#st" x="1231.1" y="756.8"/>
<use href="#st" x="1177.7" y="755.3"/>
<use href="#st" x="1244.4" y="797.7"/>
<use href="#st" x="1168.0" y="794.5"/>
<use href="#sn" x="1155.3" y="786.6"/>
<use href="#sn" x="1196.5" y="751.8"/>
<use href="#st" x="1214.2" y="792.7"/>
<use href="#st" x="1202.2" y="758.4"/>
<use href="#sn" x="1202.9" y="745.0"/>
<use href="#st" x="1243.5" y="786.3"/>
<use href="#sn" x="1188.8" y="740.6"/>
<use href="#sn" x="1224.3" y="791.1"/>
<use href="#sn" x="1172.6" y="776.6"/>
<use href="#st" x="1256.6" y="782.9"/>
<use href="#st" x="1185.5" y="736.8"/>
<use href="#st" x="1219.7" y="770.2"/>
<use href="#st" x="1182.3" y="776.0"/>
<use href="#st" x="1196.7" y="742.8"/>
<use href="#st" x="1264.3" y="829.5"/>
<use href="#sn" x="1257.7" y="791.1"/>
<use href="#st" x="1244.8" y="793.5"/>
<use href="#sn" x="1267.4" y="787.8"/>
<use href="#sn" x="1201.2" y="775.9"/>
<use href="#st" x="1152.6" y="792.4"/>
<use href="#sn" x="1177.9" y="746.6"/>
<use href="#st" x="1218.3" y="751.7"/>
<use href="#st" x="1268.9" y="810.4"/>
<use href="#sn" x="1158.7" y="791.7"/>
<use href="#sn" x="1251.5" y="806.3"/>
<use href="#sn" x="1203.8" y="803.6"/>
<use href="#st" x="1214.3" y="758.1"/>
<use href="#sn" x="1272.8" y="792.7"/>
<use href="#sn" x="1260.6" y="811.4"/>
<use href="#st" x="1171.4" y="763.5"/>
<use href="#st" x="1239.8" y="785.6"/>
<use href="#st" x="1255.9" y="806.6"/>
<use href="#st" x="1196.3" y="794.1"/>
<use href="#st" x="1167.4" y="769.5"/>
<use href="#st" x="1154.9" y="775.5"/>
<use href="#sn" x="1227.3" y="773.1"/>
<use href="#st" x="1180.1" y="773.4"/>
<use href="#st" x="1207.5" y="752.4"/>
<use href="#st" x="1190.6" y="761.6"/>
</g>
<g fill="#fff" stroke="#f87171" stroke-width="3.6" stroke-linejoin="round">
<use href="#st" x="848.3" y="700.2"/>
<use href="#st" x="839.2" y="715.4"/>
<use href="#st" x="861.9" y="732.0"/>
<use href="#st" x="851.3" y="753.2"/>
<use href="#st" x="866.5" y="756.3"/>
<use href="#st" x="855.9" y="772.9"/>
<use href="#st" x="886.2" y="772.9"/>
<use href="#st" x="908.9" y="772.9"/>
<use href="#st" x="893.7" y="783.5"/>
<use href="#st" x="943.7" y="777.5"/>
<use href="#st" x="924.0" y="794.1"/>
<use href="#st" x="942.2" y="792.6"/>
<use href="#st" x="998.2" y="794.1"/>
<use href="#st" x="872.5" y="794.1"/>
<use href="#st" x="871.8" y="794.4"/>
<use href="#st" x="901.3" y="798.2"/>
<use href="#st" x="924.0" y="794.4"/>
<use href="#st" x="942.2" y="793.6"/>
<use href="#st" x="875.6" y="816.3"/>
<use href="#st" x="902.8" y="828.4"/>
<use href="#st" x="955.8" y="828.4"/>
<use href="#st" x="895.2" y="848.1"/>
<use href="#st" x="877.1" y="848.9"/>
<use href="#st" x="924.0" y="853.4"/>
<use href="#st" x="951.3" y="848.1"/>
<use href="#st" x="977.0" y="849.6"/>
<use href="#st" x="1004.3" y="848.1"/>
<use href="#st" x="987.6" y="858.7"/>
<use href="#st" x="877.1" y="864.8"/>
<use href="#st" x="890.7" y="870.8"/>
<use href="#st" x="928.6" y="870.8"/>
<use href="#st" x="970.9" y="870.8"/>
<use href="#st" x="1004.3" y="864.8"/>
<use href="#st" x="866.5" y="889.0"/>
<use href="#st" x="899.8" y="887.5"/>
<use href="#st" x="914.9" y="893.6"/>
<use href="#st" x="871.0" y="902.6"/>
<use href="#st" x="861.9" y="914.7"/>
<use href="#st" x="896.8" y="922.3"/>
<use href="#st" x="878.6" y="926.9"/>
<use href="#st" x="868.0" y="934.4"/>
<use href="#st" x="875.6" y="945.0"/>
<use href="#st" x="977.0" y="904.1"/>
<use href="#st" x="1002.7" y="907.2"/>
<use href="#st" x="998.2" y="808.8"/>
<use href="#st" x="998.2" y="796.7"/>
<use href="#st" x="1002.7" y="825.4"/>
<use href="#st" x="955.8" y="813.3"/>
<use href="#st" x="997.7" y="796.5"/>
<use href="#st" x="997.7" y="809.5"/>
<use href="#st" x="1002.4" y="826.0"/>
<use href="#st" x="1004.7" y="847.1"/>
<use href="#st" x="977.7" y="849.5"/>
<use href="#st" x="970.6" y="828.3"/>
<use href="#st" x="988.3" y="858.9"/>
<use href="#st" x="1004.7" y="864.8"/>
<use href="#st" x="971.8" y="869.5"/>
<use href="#st" x="1042.4" y="858.9"/>
<use href="#st" x="848.7" y="975.3"/>
<use href="#st" x="863.8" y="980.4"/>
<use href="#st" x="872.2" y="974.5"/>
<use href="#st" x="859.6" y="995.5"/>
<use href="#st" x="859.6" y="1007.3"/>
<use href="#st" x="844.5" y="1027.5"/>
<use href="#st" x="873.9" y="943.4"/>
<use href="#st" x="1041.5" y="858.9"/>
<use href="#st" x="1038.5" y="883.3"/>
<use href="#st" x="1154.5" y="766.3"/>
<use href="#st" x="1168.1" y="778.4"/>
<use href="#st" x="1178.7" y="787.5"/>
<use href="#st" x="1195.4" y="763.3"/>
<use href="#st" x="1207.5" y="767.8"/>
<use href="#st" x="1221.1" y="778.4"/>
<use href="#st" x="1224.1" y="792.0"/>
<use href="#st" x="1204.5" y="805.7"/>
<use href="#st" x="1153.0" y="807.9"/>
<use href="#st" x="1251.4" y="762.5"/>
<use href="#st" x="1251.4" y="775.4"/>
<use href="#st" x="1275.6" y="790.5"/>
<use href="#st" x="1254.4" y="807.2"/>
<use href="#st" x="1255.9" y="820.8"/>
<use href="#st" x="1271.1" y="825.3"/>
<use href="#st" x="1172.7" y="748.1"/>
<use href="#st" x="1189.3" y="739.0"/>
</g>
</g>
<rect x="141.7" y="21.2" width="530.2" height="471.3" fill="none" stroke="#000" stroke-width="1.6"/>
<path d="M165.80 492.5v-8M165.80 21.2v8M189.90 492.5v-8M189.90 21.2v8M214.00 492.5v-8M214.00 21.2v8M238.10 492.5v-8M238.10 21.2v8M262.20 492.5v-15.5M262.20 21.2v15.5M286.30 492.5v-8M286.30 21.2v8M310.40 492.5v-8M310.40 21.2v8M334.50 492.5v-8M334.50 21.2v8M358.60 492.5v-8M358.60 21.2v8M382.70 492.5v-15.5M382.70 21.2v15.5M406.80 492.5v-8M406.80 21.2v8M430.90 492.5v-8M430.90 21.2v8M455.00 492.5v-8M455.00 21.2v8M479.10 492.5v-8M479.10 21.2v8M503.20 492.5v-15.5M503.20 21.2v15.5M527.30 492.5v-8M527.30 21.2v8M551.40 492.5v-8M551.40 21.2v8M575.50 492.5v-8M575.50 21.2v8M599.60 492.5v-8M599.60 21.2v8M623.70 492.5v-15.5M623.70 21.2v15.5M647.80 492.5v-8M647.80 21.2v8M141.7 453.23h8M671.9 453.23h-8M141.7 413.95h15.5M671.9 413.95h-15.5M141.7 374.68h8M671.9 374.68h-8M141.7 335.40h15.5M671.9 335.40h-15.5M141.7 296.12h8M671.9 296.12h-8M141.7 256.85h15.5M671.9 256.85h-15.5M141.7 217.57h8M671.9 217.57h-8M141.7 178.30h15.5M671.9 178.30h-15.5M141.7 139.02h8M671.9 139.02h-8M141.7 99.75h15.5M671.9 99.75h-15.5M141.7 60.48h8M671.9 60.48h-8" stroke="#000" stroke-width="1.6" fill="none"/>
<rect x="818.8" y="21.2" width="530.1000000000001" height="470.7" fill="none" stroke="#000" stroke-width="1.6"/>
<path d="M842.90 491.9v-8M842.90 21.2v8M866.99 491.9v-8M866.99 21.2v8M891.09 491.9v-8M891.09 21.2v8M915.18 491.9v-8M915.18 21.2v8M939.28 491.9v-15.5M939.28 21.2v15.5M963.37 491.9v-8M963.37 21.2v8M987.47 491.9v-8M987.47 21.2v8M1011.56 491.9v-8M1011.56 21.2v8M1035.66 491.9v-8M1035.66 21.2v8M1059.75 491.9v-15.5M1059.75 21.2v15.5M1083.85 491.9v-8M1083.85 21.2v8M1107.95 491.9v-8M1107.95 21.2v8M1132.04 491.9v-8M1132.04 21.2v8M1156.14 491.9v-8M1156.14 21.2v8M1180.23 491.9v-15.5M1180.23 21.2v15.5M1204.33 491.9v-8M1204.33 21.2v8M1228.42 491.9v-8M1228.42 21.2v8M1252.52 491.9v-8M1252.52 21.2v8M1276.61 491.9v-8M1276.61 21.2v8M1300.71 491.9v-15.5M1300.71 21.2v15.5M1324.80 491.9v-8M1324.80 21.2v8M818.8 463.56h8M1348.9 463.56h-8M818.8 446.98h8M1348.9 446.98h-8M818.8 435.22h8M1348.9 435.22h-8M818.8 426.10h8M1348.9 426.10h-8M818.8 418.64h8M1348.9 418.64h-8M818.8 412.34h8M1348.9 412.34h-8M818.8 406.88h8M1348.9 406.88h-8M818.8 402.07h8M1348.9 402.07h-8M818.8 397.76h15.5M1348.9 397.76h-15.5M818.8 369.42h8M1348.9 369.42h-8M818.8 352.84h8M1348.9 352.84h-8M818.8 341.08h8M1348.9 341.08h-8M818.8 331.96h8M1348.9 331.96h-8M818.8 324.50h8M1348.9 324.50h-8M818.8 318.20h8M1348.9 318.20h-8M818.8 312.74h8M1348.9 312.74h-8M818.8 307.93h8M1348.9 307.93h-8M818.8 303.62h15.5M1348.9 303.62h-15.5M818.8 275.28h8M1348.9 275.28h-8M818.8 258.70h8M1348.9 258.70h-8M818.8 246.94h8M1348.9 246.94h-8M818.8 237.82h8M1348.9 237.82h-8M818.8 230.36h8M1348.9 230.36h-8M818.8 224.06h8M1348.9 224.06h-8M818.8 218.60h8M1348.9 218.60h-8M818.8 213.79h8M1348.9 213.79h-8M818.8 209.48h15.5M1348.9 209.48h-15.5M818.8 181.14h8M1348.9 181.14h-8M818.8 164.56h8M1348.9 164.56h-8M818.8 152.80h8M1348.9 152.80h-8M818.8 143.68h8M1348.9 143.68h-8M818.8 136.22h8M1348.9 136.22h-8M818.8 129.92h8M1348.9 129.92h-8M818.8 124.46h8M1348.9 124.46h-8M818.8 119.65h8M1348.9 119.65h-8M818.8 115.34h15.5M1348.9 115.34h-15.5M818.8 87.00h8M1348.9 87.00h-8M818.8 70.42h8M1348.9 70.42h-8M818.8 58.66h8M1348.9 58.66h-8M818.8 49.54h8M1348.9 49.54h-8M818.8 42.08h8M1348.9 42.08h-8M818.8 35.78h8M1348.9 35.78h-8M818.8 30.32h8M1348.9 30.32h-8M818.8 25.51h8M1348.9 25.51h-8" stroke="#000" stroke-width="1.6" fill="none"/>
<rect x="141.8" y="610.3" width="530.0999999999999" height="471.10000000000014" fill="none" stroke="#000" stroke-width="1.6"/>
<path d="M165.90 1081.4v-8M165.90 610.3v8M189.99 1081.4v-8M189.99 610.3v8M214.09 1081.4v-8M214.09 610.3v8M238.18 1081.4v-8M238.18 610.3v8M262.28 1081.4v-15.5M262.28 610.3v15.5M286.37 1081.4v-8M286.37 610.3v8M310.47 1081.4v-8M310.47 610.3v8M334.56 1081.4v-8M334.56 610.3v8M358.66 1081.4v-8M358.66 610.3v8M382.75 1081.4v-15.5M382.75 610.3v15.5M406.85 1081.4v-8M406.85 610.3v8M430.95 1081.4v-8M430.95 610.3v8M455.04 1081.4v-8M455.04 610.3v8M479.14 1081.4v-8M479.14 610.3v8M503.23 1081.4v-15.5M503.23 610.3v15.5M527.33 1081.4v-8M527.33 610.3v8M551.42 1081.4v-8M551.42 610.3v8M575.52 1081.4v-8M575.52 610.3v8M599.61 1081.4v-8M599.61 610.3v8M623.71 1081.4v-15.5M623.71 610.3v15.5M647.80 1081.4v-8M647.80 610.3v8M141.8 1061.14h8M671.9 1061.14h-8M141.8 1049.29h8M671.9 1049.29h-8M141.8 1040.88h8M671.9 1040.88h-8M141.8 1034.36h8M671.9 1034.36h-8M141.8 1029.03h8M671.9 1029.03h-8M141.8 1024.52h8M671.9 1024.52h-8M141.8 1020.62h8M671.9 1020.62h-8M141.8 1017.18h8M671.9 1017.18h-8M141.8 1014.10h15.5M671.9 1014.10h-15.5M141.8 993.84h8M671.9 993.84h-8M141.8 981.99h8M671.9 981.99h-8M141.8 973.58h8M671.9 973.58h-8M141.8 967.06h8M671.9 967.06h-8M141.8 961.73h8M671.9 961.73h-8M141.8 957.22h8M671.9 957.22h-8M141.8 953.32h8M671.9 953.32h-8M141.8 949.88h8M671.9 949.88h-8M141.8 946.80h15.5M671.9 946.80h-15.5M141.8 926.54h8M671.9 926.54h-8M141.8 914.69h8M671.9 914.69h-8M141.8 906.28h8M671.9 906.28h-8M141.8 899.76h8M671.9 899.76h-8M141.8 894.43h8M671.9 894.43h-8M141.8 889.92h8M671.9 889.92h-8M141.8 886.02h8M671.9 886.02h-8M141.8 882.58h8M671.9 882.58h-8M141.8 879.50h15.5M671.9 879.50h-15.5M141.8 859.24h8M671.9 859.24h-8M141.8 847.39h8M671.9 847.39h-8M141.8 838.98h8M671.9 838.98h-8M141.8 832.46h8M671.9 832.46h-8M141.8 827.13h8M671.9 827.13h-8M141.8 822.62h8M671.9 822.62h-8M141.8 818.72h8M671.9 818.72h-8M141.8 815.28h8M671.9 815.28h-8M141.8 812.20h15.5M671.9 812.20h-15.5M141.8 791.94h8M671.9 791.94h-8M141.8 780.09h8M671.9 780.09h-8M141.8 771.68h8M671.9 771.68h-8M141.8 765.16h8M671.9 765.16h-8M141.8 759.83h8M671.9 759.83h-8M141.8 755.32h8M671.9 755.32h-8M141.8 751.42h8M671.9 751.42h-8M141.8 747.98h8M671.9 747.98h-8M141.8 744.90h15.5M671.9 744.90h-15.5M141.8 724.64h8M671.9 724.64h-8M141.8 712.79h8M671.9 712.79h-8M141.8 704.38h8M671.9 704.38h-8M141.8 697.86h8M671.9 697.86h-8M141.8 692.53h8M671.9 692.53h-8M141.8 688.02h8M671.9 688.02h-8M141.8 684.12h8M671.9 684.12h-8M141.8 680.68h8M671.9 680.68h-8M141.8 677.60h15.5M671.9 677.60h-15.5M141.8 657.34h8M671.9 657.34h-8M141.8 645.49h8M671.9 645.49h-8M141.8 637.08h8M671.9 637.08h-8M141.8 630.56h8M671.9 630.56h-8M141.8 625.23h8M671.9 625.23h-8M141.8 620.72h8M671.9 620.72h-8M141.8 616.82h8M671.9 616.82h-8M141.8 613.38h8M671.9 613.38h-8" stroke="#000" stroke-width="1.6" fill="none"/>
<rect x="818.9" y="610.5" width="530.0000000000001" height="470.9000000000001" fill="none" stroke="#000" stroke-width="1.6"/>
<path d="M842.99 1081.4v-8M842.99 610.5v8M867.08 1081.4v-8M867.08 610.5v8M891.17 1081.4v-8M891.17 610.5v8M915.26 1081.4v-8M915.26 610.5v8M939.35 1081.4v-15.5M939.35 610.5v15.5M963.45 1081.4v-8M963.45 610.5v8M987.54 1081.4v-8M987.54 610.5v8M1011.63 1081.4v-8M1011.63 610.5v8M1035.72 1081.4v-8M1035.72 610.5v8M1059.81 1081.4v-15.5M1059.81 610.5v15.5M1083.90 1081.4v-8M1083.90 610.5v8M1107.99 1081.4v-8M1107.99 610.5v8M1132.08 1081.4v-8M1132.08 610.5v8M1156.17 1081.4v-8M1156.17 610.5v8M1180.26 1081.4v-15.5M1180.26 610.5v15.5M1204.35 1081.4v-8M1204.35 610.5v8M1228.45 1081.4v-8M1228.45 610.5v8M1252.54 1081.4v-8M1252.54 610.5v8M1276.63 1081.4v-8M1276.63 610.5v8M1300.72 1081.4v-15.5M1300.72 610.5v15.5M1324.81 1081.4v-8M1324.81 610.5v8M818.9 1057.00h8M1348.9 1057.00h-8M818.9 1039.68h8M1348.9 1039.68h-8M818.9 1026.25h8M1348.9 1026.25h-8M818.9 1015.28h8M1348.9 1015.28h-8M818.9 1006.00h8M1348.9 1006.00h-8M818.9 997.96h8M1348.9 997.96h-8M818.9 990.88h8M1348.9 990.88h-8M818.9 984.53h15.5M1348.9 984.53h-15.5M818.9 942.82h8M1348.9 942.82h-8M818.9 918.41h8M1348.9 918.41h-8M818.9 901.10h8M1348.9 901.10h-8M818.9 887.67h8M1348.9 887.67h-8M818.9 876.69h8M1348.9 876.69h-8M818.9 867.42h8M1348.9 867.42h-8M818.9 859.38h8M1348.9 859.38h-8M818.9 852.29h8M1348.9 852.29h-8M818.9 845.95h15.5M1348.9 845.95h-15.5M818.9 804.23h8M1348.9 804.23h-8M818.9 779.83h8M1348.9 779.83h-8M818.9 762.51h8M1348.9 762.51h-8M818.9 749.08h8M1348.9 749.08h-8M818.9 738.11h8M1348.9 738.11h-8M818.9 728.83h8M1348.9 728.83h-8M818.9 720.80h8M1348.9 720.80h-8M818.9 713.71h8M1348.9 713.71h-8M818.9 707.37h15.5M1348.9 707.37h-15.5M818.9 665.65h8M1348.9 665.65h-8M818.9 641.24h8M1348.9 641.24h-8M818.9 623.93h8M1348.9 623.93h-8" stroke="#000" stroke-width="1.6" fill="none"/>
<text x="141.7" y="540.5" font-family="Liberation Serif" font-size="42" fill="#000" text-anchor="middle" >0</text>
<text x="262.2" y="540.5" font-family="Liberation Serif" font-size="42" fill="#000" text-anchor="middle" >50</text>
<text x="382.7" y="540.5" font-family="Liberation Serif" font-size="42" fill="#000" text-anchor="middle" >100</text>
<text x="503.2" y="540.5" font-family="Liberation Serif" font-size="42" fill="#000" text-anchor="middle" >150</text>
<text x="623.7" y="540.5" font-family="Liberation Serif" font-size="42" fill="#000" text-anchor="middle" >200</text>
<text x="818.8" y="540.5" font-family="Liberation Serif" font-size="42" fill="#000" text-anchor="middle" >0</text>
<text x="939.3" y="540.5" font-family="Liberation Serif" font-size="42" fill="#000" text-anchor="middle" >50</text>
<text x="1059.8" y="540.5" font-family="Liberation Serif" font-size="42" fill="#000" text-anchor="middle" >100</text>
<text x="1180.2" y="540.5" font-family="Liberation Serif" font-size="42" fill="#000" text-anchor="middle" >150</text>
<text x="1300.7" y="540.5" font-family="Liberation Serif" font-size="42" fill="#000" text-anchor="middle" >200</text>
<text x="141.8" y="1130" font-family="Liberation Serif" font-size="42" fill="#000" text-anchor="middle" >0</text>
<text x="262.3" y="1130" font-family="Liberation Serif" font-size="42" fill="#000" text-anchor="middle" >50</text>
<text x="382.8" y="1130" font-family="Liberation Serif" font-size="42" fill="#000" text-anchor="middle" >100</text>
<text x="503.2" y="1130" font-family="Liberation Serif" font-size="42" fill="#000" text-anchor="middle" >150</text>
<text x="623.7" y="1130" font-family="Liberation Serif" font-size="42" fill="#000" text-anchor="middle" >200</text>
<text x="818.9" y="1130" font-family="Liberation Serif" font-size="42" fill="#000" text-anchor="middle" >0</text>
<text x="939.4" y="1130" font-family="Liberation Serif" font-size="42" fill="#000" text-anchor="middle" >50</text>
<text x="1059.8" y="1130" font-family="Liberation Serif" font-size="42" fill="#000" text-anchor="middle" >100</text>
<text x="1180.3" y="1130" font-family="Liberation Serif" font-size="42" fill="#000" text-anchor="middle" >150</text>
<text x="1300.7" y="1130" font-family="Liberation Serif" font-size="42" fill="#000" text-anchor="middle" >200</text>
<text x="124.5" y="506.7" font-family="Liberation Serif" font-size="42" fill="#000" text-anchor="end" >0</text>
<text x="124.5" y="428.1" font-family="Liberation Serif" font-size="42" fill="#000" text-anchor="end" >1</text>
<text x="124.5" y="349.6" font-family="Liberation Serif" font-size="42" fill="#000" text-anchor="end" >2</text>
<text x="124.5" y="271.1" font-family="Liberation Serif" font-size="42" fill="#000" text-anchor="end" >3</text>
<text x="124.5" y="192.5" font-family="Liberation Serif" font-size="42" fill="#000" text-anchor="end" >4</text>
<text x="124.5" y="114.0" font-family="Liberation Serif" font-size="42" fill="#000" text-anchor="end" >5</text>
<text x="124.5" y="35.4" font-family="Liberation Serif" font-size="42" fill="#000" text-anchor="end" >6</text>
<text x="802.6" y="35.4" font-family="Liberation Serif" font-size="42" text-anchor="end">10<tspan dy="-17.3" font-size="28.5">-1</tspan></text>
<text x="802.6" y="129.5" font-family="Liberation Serif" font-size="42" text-anchor="end">10<tspan dy="-17.3" font-size="28.5">-2</tspan></text>
<text x="802.6" y="223.7" font-family="Liberation Serif" font-size="42" text-anchor="end">10<tspan dy="-17.3" font-size="28.5">-3</tspan></text>
<text x="802.6" y="317.8" font-family="Liberation Serif" font-size="42" text-anchor="end">10<tspan dy="-17.3" font-size="28.5">-4</tspan></text>
<text x="802.6" y="412.0" font-family="Liberation Serif" font-size="42" text-anchor="end">10<tspan dy="-17.3" font-size="28.5">-5</tspan></text>
<text x="802.6" y="506.1" font-family="Liberation Serif" font-size="42" text-anchor="end">10<tspan dy="-17.3" font-size="28.5">-6</tspan></text>
<text x="125.6" y="624.5" font-family="Liberation Serif" font-size="42" text-anchor="end">10<tspan dy="-17.3" font-size="28.5">0</tspan></text>
<text x="125.6" y="691.8" font-family="Liberation Serif" font-size="42" text-anchor="end">10<tspan dy="-17.3" font-size="28.5">-1</tspan></text>
<text x="125.6" y="759.1" font-family="Liberation Serif" font-size="42" text-anchor="end">10<tspan dy="-17.3" font-size="28.5">-2</tspan></text>
<text x="125.6" y="826.4" font-family="Liberation Serif" font-size="42" text-anchor="end">10<tspan dy="-17.3" font-size="28.5">-3</tspan></text>
<text x="125.6" y="893.7" font-family="Liberation Serif" font-size="42" text-anchor="end">10<tspan dy="-17.3" font-size="28.5">-4</tspan></text>
<text x="125.6" y="961.0" font-family="Liberation Serif" font-size="42" text-anchor="end">10<tspan dy="-17.3" font-size="28.5">-5</tspan></text>
<text x="125.6" y="1028.3" font-family="Liberation Serif" font-size="42" text-anchor="end">10<tspan dy="-17.3" font-size="28.5">-6</tspan></text>
<text x="125.6" y="1095.6" font-family="Liberation Serif" font-size="42" text-anchor="end">10<tspan dy="-17.3" font-size="28.5">-7</tspan></text>
<text x="802.6" y="721.6" font-family="Liberation Serif" font-size="42" text-anchor="end">10<tspan dy="-17.3" font-size="28.5">0</tspan></text>
<text x="802.6" y="860.2" font-family="Liberation Serif" font-size="42" text-anchor="end">10<tspan dy="-17.3" font-size="28.5">-1</tspan></text>
<text x="802.6" y="998.7" font-family="Liberation Serif" font-size="42" text-anchor="end">10<tspan dy="-17.3" font-size="28.5">-2</tspan></text>
<text x="263.5" y="591" font-family="Liberation Serif" font-size="41.4">Frequency (cm<tspan dy="-17" font-size="27">-1</tspan><tspan dy="17">)</tspan></text>
<text x="926.8" y="588.6" font-family="Liberation Serif" font-size="41.4">Frequency (cm<tspan dy="-17" font-size="27">-1</tspan><tspan dy="17">)</tspan></text>
<text x="278.1" y="1180" font-family="Liberation Serif" font-size="41.4">Frequency (cm<tspan dy="-17" font-size="27">-1</tspan><tspan dy="17">)</tspan></text>
<text x="941.1" y="1175" font-family="Liberation Serif" font-size="41.4">Frequency (cm<tspan dy="-17" font-size="27">-1</tspan><tspan dy="17">)</tspan></text>
<text x="38" y="50.5" font-family="Liberation Serif" font-weight="bold" font-size="40">a</text>
<text x="685" y="56.5" font-family="Liberation Serif" font-weight="bold" font-size="40">b</text>
<text x="22" y="639.5" font-family="Liberation Serif" font-weight="bold" font-size="40">c</text>
<text x="715" y="640.5" font-family="Liberation Serif" font-weight="bold" font-size="40">d</text>
<text x="412.5" y="80.6" font-family="Liberation Serif" font-size="31" textLength="195" lengthAdjust="spacingAndGlyphs">Na<tspan dy="6.8" font-size="20.5">2</tspan><tspan dy="-6.8">TlSb, 300 K</tspan></text>
<text x="1089.5" y="88" font-family="Liberation Serif" font-size="39" textLength="250" lengthAdjust="spacingAndGlyphs">Na<tspan dy="8.6" font-size="26">2</tspan><tspan dy="-8.6">TlSb, 300 K</tspan></text>
<text x="436" y="691.5" font-family="Liberation Serif" font-size="31" textLength="195" lengthAdjust="spacingAndGlyphs">Na<tspan dy="6.8" font-size="20.5">2</tspan><tspan dy="-6.8">TlSb, 300 K</tspan></text>
<text x="1090.8" y="669.4" font-family="Liberation Serif" font-size="31" textLength="195" lengthAdjust="spacingAndGlyphs">Na<tspan dy="6.8" font-size="20.5">2</tspan><tspan dy="-6.8">TlSb, 300 K</tspan></text>
<text x="367.5" y="157" font-family="Liberation Serif" font-size="42" font-weight="normal" font-style="normal" fill="#7f00ff" text-anchor="start" textLength="252.5" lengthAdjust="spacingAndGlyphs">acoustic phonon</text>
<text x="388.3" y="238.5" font-family="Liberation Serif" font-size="42" font-weight="normal" font-style="normal" fill="#ff8000" text-anchor="start" textLength="231" lengthAdjust="spacingAndGlyphs">optical phonon</text>
<line x1="361.5" y1="149.6" x2="266.8" y2="183.2" stroke="#7f00ff" stroke-width="2.6"/>
<path d="M248.9 189.6L266.7 176.9L265.9 183.6L270.7 188.2Z" fill="#7f00ff"/>
<line x1="465.2" y1="241.5" x2="347.7" y2="366.8" stroke="#ff8000" stroke-width="2.6"/>
<path d="M332.6 382.8L344.6 361.2L347.0 367.5L353.4 369.4Z" fill="#ff8000"/>
<path d="M265.4 224.5V310.4M268.4 240V300M274 277.8V302" stroke="#ff8000" stroke-width="1.3"/>
<text x="859.5" y="398.8" font-family="Liberation Serif" font-size="41" font-weight="normal" font-style="normal" fill="#008080" text-anchor="start" textLength="125.5" lengthAdjust="spacingAndGlyphs">splitting</text>
<text x="1003.5" y="444.7" font-family="Liberation Serif" font-size="41" font-weight="normal" font-style="normal" fill="#800080" text-anchor="start" textLength="192.5" lengthAdjust="spacingAndGlyphs">combination</text>
<line x1="930.0" y1="368.1" x2="907.2" y2="284.2" stroke="#008080" stroke-width="2.6"/>
<path d="M902.8 267.8L913.6 284.6L907.0 283.2L902.0 287.7Z" fill="#008080"/>
<line x1="1062.0" y1="416.1" x2="1016.6" y2="290.8" stroke="#800080" stroke-width="2.6"/>
<path d="M1011.1 275.8L1022.9 290.7L1016.2 289.9L1011.6 294.8Z" fill="#800080"/>
<text x="225.3" y="655" font-family="Liberation Serif" font-size="41" font-weight="normal" font-style="normal" fill="#000080" text-anchor="start" textLength="206.5" lengthAdjust="spacingAndGlyphs">redistribution</text>
<text x="149" y="1049.3" font-family="Liberation Serif" font-size="41" font-weight="normal" font-style="normal" fill="#7f00ff" text-anchor="start" textLength="125.5" lengthAdjust="spacingAndGlyphs">splitting</text>
<text x="247" y="1022.8" font-family="Liberation Serif" font-size="41" font-weight="normal" font-style="normal" fill="#ff0000" text-anchor="start" textLength="223" lengthAdjust="spacingAndGlyphs">recombination</text>
<line x1="323.7" y1="656.2" x2="430.5" y2="729.4" stroke="#000080" stroke-width="2.6"/>
<path d="M444.5 739.0L425.2 733.6L431.3 730.0L432.5 722.9Z" fill="#000080"/>
<line x1="201.7" y1="1019.0" x2="228.0" y2="942.7" stroke="#7f00ff" stroke-width="2.6"/>
<path d="M234.5 923.8L233.0 946.6L228.3 941.8L221.7 942.6Z" fill="#7f00ff"/>
<line x1="389.4" y1="1000.2" x2="446.2" y2="920.1" stroke="#ff0000" stroke-width="2.6"/>
<path d="M458.3 903.0L449.9 925.2L446.7 919.3L440.1 918.3Z" fill="#ff0000"/>
<path d="M521.2 1021V1040.4M542.2 1006V1019.6" stroke="#ff0000" stroke-width="1.3"/>
<text x="885.3" y="667.1" font-family="Liberation Serif" font-size="40" font-weight="normal" font-style="normal" fill="#50bbfc" text-anchor="start" textLength="142.5" lengthAdjust="spacingAndGlyphs">Umklapp</text>
<text x="950.5" y="703.8" font-family="Liberation Serif" font-size="40" font-weight="normal" font-style="normal" fill="#f87171" text-anchor="start" textLength="108" lengthAdjust="spacingAndGlyphs">normal</text>
<line x1="930.5" y1="664.6" x2="911.1" y2="723.5" stroke="#50bbfc" stroke-width="2.6"/>
<path d="M905.8 739.6L905.6 719.5L910.8 724.4L917.9 723.6Z" fill="#50bbfc"/>
<line x1="1018.0" y1="707.6" x2="1126.6" y2="766.1" stroke="#f87171" stroke-width="2.6"/>
<path d="M1142.4 774.6L1121.9 770.4L1127.4 766.5L1127.6 759.8Z" fill="#f87171"/>
<text transform="translate(85,263.9) rotate(-90) scale(1.24,1)" font-family="Liberation Serif" font-size="52" font-style="italic">γ</text>
<text transform="translate(713.8,375.5) rotate(-90)" font-family="Liberation Serif" font-size="44" textLength="240" lengthAdjust="spacingAndGlyphs"><tspan font-style="italic">W</tspan><tspan font-weight="bold" font-size="29" dy="9">3ph</tspan><tspan dy="-9"> (ps</tspan><tspan font-size="29" dy="-17">4</tspan><tspan dy="17">rad</tspan><tspan font-size="29" dy="-17">-4</tspan><tspan dy="17">)</tspan></text>
<text transform="translate(36.6,964.3) rotate(-90)" font-family="Liberation Serif" font-size="44" textLength="240" lengthAdjust="spacingAndGlyphs"><tspan font-style="italic">W</tspan><tspan font-weight="bold" font-size="29" dy="9">4ph</tspan><tspan dy="-9"> (ps</tspan><tspan font-size="29" dy="-17">5</tspan><tspan dy="17">rad</tspan><tspan font-size="29" dy="-17">-5</tspan><tspan dy="17">)</tspan></text>
<text transform="translate(713.9,948.5) rotate(-90)" font-family="Liberation Serif" font-size="44" textLength="205" lengthAdjust="spacingAndGlyphs">SRs<tspan font-size="29" dy="9">4ph</tspan><tspan dy="-9"> (ps</tspan><tspan font-size="29" dy="-17">-1</tspan><tspan dy="17">)</tspan></text>
<rect x="1095.7" y="863.6" width="235.89999999999986" height="176.30000000000007" fill="#fff" stroke="#666" stroke-width="1.1"/>
<path d="M1106.4 1039.9v-3.5M1106.4 863.6v3.5M1117.1 1039.9v-3.5M1117.1 863.6v3.5M1127.9 1039.9v-3.5M1127.9 863.6v3.5M1138.6 1039.9v-3.5M1138.6 863.6v3.5M1149.3 1039.9v-6M1149.3 863.6v6M1160.0 1039.9v-3.5M1160.0 863.6v3.5M1170.8 1039.9v-3.5M1170.8 863.6v3.5M1181.5 1039.9v-3.5M1181.5 863.6v3.5M1192.2 1039.9v-3.5M1192.2 863.6v3.5M1202.9 1039.9v-6M1202.9 863.6v6M1213.7 1039.9v-3.5M1213.7 863.6v3.5M1224.4 1039.9v-3.5M1224.4 863.6v3.5M1235.1 1039.9v-3.5M1235.1 863.6v3.5M1245.8 1039.9v-3.5M1245.8 863.6v3.5M1256.5 1039.9v-6M1256.5 863.6v6M1267.3 1039.9v-3.5M1267.3 863.6v3.5M1278.0 1039.9v-3.5M1278.0 863.6v3.5M1288.7 1039.9v-3.5M1288.7 863.6v3.5M1299.4 1039.9v-3.5M1299.4 863.6v3.5M1310.2 1039.9v-6M1310.2 863.6v6M1320.9 1039.9v-3.5M1320.9 863.6v3.5M1095.7 1010.5h3.5M1331.6 1010.5h-3.5M1095.7 981.1h6M1331.6 981.1h-6M1095.7 951.8h3.5M1331.6 951.8h-3.5M1095.7 922.4h6M1331.6 922.4h-6M1095.7 893.0h3.5M1331.6 893.0h-3.5" stroke="#777" stroke-width="1"/>
<text x="1089.5" y="1047.3" font-family="Liberation Serif" font-size="22.5" text-anchor="end">0</text>
<text x="1089.5" y="988.5" font-family="Liberation Serif" font-size="22.5" text-anchor="end">2</text>
<text x="1089.5" y="929.8" font-family="Liberation Serif" font-size="22.5" text-anchor="end">4</text>
<text x="1089.5" y="871.0" font-family="Liberation Serif" font-size="22.5" text-anchor="end">6</text>
<text x="1095.7" y="1064.2" font-family="Liberation Serif" font-size="22.5" text-anchor="middle">0</text>
<text x="1149.3" y="1064.2" font-family="Liberation Serif" font-size="22.5" text-anchor="middle">50</text>
<text x="1202.9" y="1064.2" font-family="Liberation Serif" font-size="22.5" text-anchor="middle">100</text>
<text x="1256.5" y="1064.2" font-family="Liberation Serif" font-size="22.5" text-anchor="middle">150</text>
<text x="1310.2" y="1064.2" font-family="Liberation Serif" font-size="22.5" text-anchor="middle">200</text>
<text transform="translate(1069.3,1034.4) rotate(-90)" font-family="Liberation Serif" font-size="21.5" font-weight="bold"><tspan fill="#50bbfc">Umklapp</tspan><tspan fill="#000"> /</tspan><tspan fill="#f87171">normal</tspan></text>
<g fill="#fff" stroke="#800000" stroke-width="3.3"><circle cx="1180.5" cy="985.3" r="5.3"/><circle cx="1179.2" cy="964.1" r="5.3"/><circle cx="1117.2" cy="989.7" r="5.3"/><circle cx="1144.8" cy="972.4" r="5.3"/><circle cx="1131.5" cy="956.1" r="5.3"/><circle cx="1157.1" cy="997.5" r="5.3"/><circle cx="1140.4" cy="942.1" r="5.3"/><circle cx="1160.6" cy="989.0" r="5.3"/><circle cx="1147.6" cy="1001.4" r="5.3"/><circle cx="1135.6" cy="957.5" r="5.3"/><circle cx="1181.4" cy="993.2" r="5.3"/><circle cx="1147.3" cy="976.8" r="5.3"/><circle cx="1184.5" cy="957.0" r="5.3"/><circle cx="1135.7" cy="1005.4" r="5.3"/><circle cx="1187.8" cy="958.3" r="5.3"/><circle cx="1153.6" cy="1005.7" r="5.3"/><circle cx="1131.0" cy="961.8" r="5.3"/><circle cx="1167.6" cy="975.7" r="5.3"/><circle cx="1132.7" cy="989.5" r="5.3"/><circle cx="1127.6" cy="999.6" r="5.3"/><circle cx="1128.4" cy="987.6" r="5.3"/><circle cx="1157.4" cy="1000.2" r="5.3"/><circle cx="1117.8" cy="997.4" r="5.3"/><circle cx="1172.8" cy="991.7" r="5.3"/><circle cx="1121.4" cy="1000.1" r="5.3"/><circle cx="1180.7" cy="935.7" r="5.3"/><circle cx="1148.3" cy="960.8" r="5.3"/><circle cx="1169.1" cy="944.1" r="5.3"/><circle cx="1148.0" cy="1005.1" r="5.3"/><circle cx="1123.8" cy="985.3" r="5.3"/><circle cx="1139.5" cy="987.9" r="5.3"/><circle cx="1123.2" cy="953.3" r="5.3"/><circle cx="1168.4" cy="929.4" r="5.3"/><circle cx="1143.7" cy="964.1" r="5.3"/><circle cx="1180.2" cy="977.8" r="5.3"/><circle cx="1176.7" cy="989.0" r="5.3"/><circle cx="1171.9" cy="1000.9" r="5.3"/><circle cx="1125.0" cy="949.5" r="5.3"/><circle cx="1180.1" cy="996.2" r="5.3"/><circle cx="1140.6" cy="956.1" r="5.3"/><circle cx="1136.2" cy="991.7" r="5.3"/><circle cx="1167.4" cy="988.4" r="5.3"/><circle cx="1127.1" cy="955.8" r="5.3"/><circle cx="1120.3" cy="993.6" r="5.3"/><circle cx="1136.6" cy="990.0" r="5.3"/><circle cx="1176.4" cy="995.7" r="5.3"/><circle cx="1163.9" cy="996.6" r="5.3"/><circle cx="1120.8" cy="969.2" r="5.3"/><circle cx="1123.1" cy="992.2" r="5.3"/><circle cx="1179.7" cy="989.2" r="5.3"/><circle cx="1129.3" cy="972.0" r="5.3"/><circle cx="1175.9" cy="993.5" r="5.3"/><circle cx="1117.7" cy="969.7" r="5.3"/><circle cx="1140.7" cy="984.3" r="5.3"/><circle cx="1181.0" cy="909.1" r="5.3"/><circle cx="1116.6" cy="964.8" r="5.3"/><circle cx="1181.0" cy="979.9" r="5.3"/><circle cx="1165.7" cy="993.2" r="5.3"/><circle cx="1185.2" cy="952.7" r="5.3"/><circle cx="1115.6" cy="949.4" r="5.3"/><circle cx="1109.7" cy="991.6" r="5.3"/><circle cx="1135.6" cy="953.7" r="5.3"/><circle cx="1152.8" cy="1002.2" r="5.3"/><circle cx="1184.0" cy="985.4" r="5.3"/><circle cx="1161.5" cy="995.6" r="5.3"/><circle cx="1171.1" cy="988.4" r="5.3"/><circle cx="1140.4" cy="1009.1" r="5.3"/><circle cx="1165.2" cy="988.2" r="5.3"/><circle cx="1145.0" cy="940.8" r="5.3"/><circle cx="1183.1" cy="995.9" r="5.3"/><circle cx="1139.2" cy="960.3" r="5.3"/><circle cx="1112.2" cy="989.7" r="5.3"/><circle cx="1120.6" cy="979.6" r="5.3"/><circle cx="1177.2" cy="944.5" r="5.3"/><circle cx="1168.5" cy="958.2" r="5.3"/><circle cx="1132.0" cy="949.5" r="5.3"/><circle cx="1181.7" cy="912.8" r="5.3"/><circle cx="1172.1" cy="986.1" r="5.3"/><circle cx="1115.2" cy="951.7" r="5.3"/><circle cx="1123.0" cy="968.4" r="5.3"/><circle cx="1181.2" cy="941.0" r="5.3"/><circle cx="1119.2" cy="948.4" r="5.3"/><circle cx="1151.6" cy="1008.2" r="5.3"/><circle cx="1188.2" cy="951.9" r="5.3"/><circle cx="1145.1" cy="993.6" r="5.3"/><circle cx="1160.1" cy="1004.7" r="5.3"/><circle cx="1183.6" cy="977.6" r="5.3"/><circle cx="1177.3" cy="965.2" r="5.3"/><circle cx="1127.9" cy="975.7" r="5.3"/><circle cx="1180.8" cy="971.6" r="5.3"/><circle cx="1137.4" cy="961.8" r="5.3"/><circle cx="1145.5" cy="980.1" r="5.3"/><circle cx="1188.0" cy="968.8" r="5.3"/><circle cx="1175.5" cy="949.1" r="5.3"/><circle cx="1143.5" cy="956.3" r="5.3"/><circle cx="1172.3" cy="940.2" r="5.3"/><circle cx="1175.2" cy="968.2" r="5.3"/><circle cx="1167.1" cy="938.1" r="5.3"/><circle cx="1172.4" cy="972.2" r="5.3"/><circle cx="1139.1" cy="994.3" r="5.3"/><circle cx="1160.0" cy="992.5" r="5.3"/><circle cx="1123.9" cy="1004.2" r="5.3"/><circle cx="1127.8" cy="947.9" r="5.3"/><circle cx="1127.0" cy="1004.5" r="5.3"/><circle cx="1168.2" cy="941.4" r="5.3"/><circle cx="1143.0" cy="988.9" r="5.3"/><circle cx="1144.7" cy="1006.2" r="5.3"/><circle cx="1137.7" cy="940.2" r="5.3"/><circle cx="1175.4" cy="961.8" r="5.3"/><circle cx="1127.8" cy="980.9" r="5.3"/><circle cx="1111.3" cy="957.3" r="5.3"/><circle cx="1191.6" cy="980.4" r="5.3"/><circle cx="1123.3" cy="1012.6" r="5.3"/><circle cx="1171.5" cy="927.7" r="5.3"/><circle cx="1133.6" cy="982.2" r="5.3"/><circle cx="1169.4" cy="953.8" r="5.3"/><circle cx="1120.5" cy="977.0" r="5.3"/><circle cx="1131.3" cy="968.6" r="5.3"/><circle cx="1136.5" cy="943.7" r="5.3"/><circle cx="1108.1" cy="1004.5" r="5.3"/><circle cx="1144.1" cy="952.5" r="5.3"/><circle cx="1183.2" cy="989.8" r="5.3"/><circle cx="1172.5" cy="961.0" r="5.3"/><circle cx="1117.7" cy="991.9" r="5.3"/><circle cx="1147.2" cy="984.3" r="5.3"/><circle cx="1149.3" cy="980.5" r="5.3"/><circle cx="1123.7" cy="973.1" r="5.3"/><circle cx="1140.4" cy="953.6" r="5.3"/><circle cx="1117.2" cy="956.0" r="5.3"/><circle cx="1188.6" cy="978.0" r="5.3"/><circle cx="1181.2" cy="949.0" r="5.3"/><circle cx="1123.8" cy="1000.5" r="5.3"/><circle cx="1177.3" cy="921.1" r="5.3"/><circle cx="1109.2" cy="951.7" r="5.3"/><circle cx="1113.5" cy="985.2" r="5.3"/><circle cx="1153.6" cy="996.5" r="5.3"/><circle cx="1172.7" cy="968.1" r="5.3"/><circle cx="1141.7" cy="974.1" r="5.3"/><circle cx="1192.8" cy="956.2" r="5.3"/><circle cx="1180.5" cy="928.9" r="5.3"/><circle cx="1160.8" cy="999.8" r="5.3"/><circle cx="1171.4" cy="936.8" r="5.3"/><circle cx="1144.0" cy="1008.3" r="5.3"/><circle cx="1173.3" cy="954.0" r="5.3"/><circle cx="1165.0" cy="969.8" r="5.3"/><circle cx="1115.7" cy="946.3" r="5.3"/><circle cx="1127.2" cy="986.3" r="5.3"/><circle cx="1180.8" cy="946.3" r="5.3"/><circle cx="1168.0" cy="948.5" r="5.3"/><circle cx="1132.8" cy="952.2" r="5.3"/><circle cx="1127.7" cy="944.7" r="5.3"/><circle cx="1108.5" cy="1009.3" r="5.3"/><circle cx="1128.9" cy="1009.4" r="5.3"/><circle cx="1111.2" cy="1004.6" r="5.3"/><circle cx="1131.8" cy="995.6" r="5.3"/><circle cx="1167.1" cy="1000.6" r="5.3"/><circle cx="1188.1" cy="963.7" r="5.3"/><circle cx="1136.6" cy="1001.8" r="5.3"/><circle cx="1165.5" cy="956.5" r="5.3"/><circle cx="1177.7" cy="953.3" r="5.3"/><circle cx="1181.2" cy="956.6" r="5.3"/><circle cx="1184.9" cy="982.1" r="5.3"/><circle cx="1185.5" cy="992.8" r="5.3"/><circle cx="1113.2" cy="947.7" r="5.3"/><circle cx="1175.1" cy="958.2" r="5.3"/><circle cx="1124.1" cy="995.7" r="5.3"/><circle cx="1192.3" cy="972.7" r="5.3"/><circle cx="1173.5" cy="934.0" r="5.3"/><circle cx="1189.7" cy="973.2" r="5.3"/><circle cx="1155.9" cy="1008.0" r="5.3"/><circle cx="1149.0" cy="964.4" r="5.3"/><circle cx="1168.9" cy="965.5" r="5.3"/><circle cx="1143.7" cy="985.8" r="5.3"/><circle cx="1117.7" cy="1008.4" r="5.3"/><circle cx="1175.3" cy="927.6" r="5.3"/><circle cx="1167.5" cy="970.2" r="5.3"/><circle cx="1169.3" cy="932.6" r="5.3"/><circle cx="1168.6" cy="972.0" r="5.3"/><circle cx="1119.8" cy="974.0" r="5.3"/><circle cx="1116.6" cy="978.0" r="5.3"/><circle cx="1139.5" cy="1004.8" r="5.3"/><circle cx="1127.4" cy="953.6" r="5.3"/><circle cx="1128.9" cy="996.5" r="5.3"/><circle cx="1165.5" cy="959.8" r="5.3"/><circle cx="1133.7" cy="1009.8" r="5.3"/><circle cx="1183.4" cy="963.9" r="5.3"/><circle cx="1113.5" cy="981.8" r="5.3"/><circle cx="1135.8" cy="964.5" r="5.3"/><circle cx="1115.1" cy="1004.9" r="5.3"/><circle cx="1136.3" cy="980.1" r="5.3"/><circle cx="1175.8" cy="1000.0" r="5.3"/><circle cx="1139.2" cy="945.4" r="5.3"/><circle cx="1132.7" cy="943.8" r="5.3"/><circle cx="1148.9" cy="973.6" r="5.3"/><circle cx="1143.4" cy="969.7" r="5.3"/><circle cx="1116.1" cy="1000.6" r="5.3"/><circle cx="1144.6" cy="975.7" r="5.3"/><circle cx="1173.0" cy="980.4" r="5.3"/><circle cx="1140.1" cy="965.4" r="5.3"/><circle cx="1111.9" cy="960.2" r="5.3"/><circle cx="1176.4" cy="984.0" r="5.3"/><circle cx="1156.7" cy="1005.2" r="5.3"/><circle cx="1167.2" cy="998.0" r="5.3"/><circle cx="1143.7" cy="938.0" r="5.3"/><circle cx="1141.7" cy="1000.3" r="5.3"/><circle cx="1145.0" cy="959.8" r="5.3"/><circle cx="1191.3" cy="977.7" r="5.3"/><circle cx="1163.8" cy="976.6" r="5.3"/><circle cx="1164.2" cy="1000.6" r="5.3"/><circle cx="1183.9" cy="945.0" r="5.3"/><circle cx="1135.5" cy="996.2" r="5.3"/><circle cx="1180.6" cy="969.5" r="5.3"/><circle cx="1123.7" cy="961.0" r="5.3"/><circle cx="1187.5" cy="988.2" r="5.3"/><circle cx="1163.8" cy="1005.8" r="5.3"/><circle cx="1129.5" cy="991.9" r="5.3"/><circle cx="1169.3" cy="960.1" r="5.3"/><circle cx="1123.1" cy="982.0" r="5.3"/><circle cx="1147.6" cy="992.2" r="5.3"/><circle cx="1107.1" cy="956.4" r="5.3"/><circle cx="1119.6" cy="988.9" r="5.3"/><circle cx="1141.0" cy="949.1" r="5.3"/><circle cx="1163.5" cy="982.0" r="5.3"/><circle cx="1168.3" cy="985.6" r="5.3"/><circle cx="1188.3" cy="961.5" r="5.3"/><circle cx="1136.4" cy="969.7" r="5.3"/><circle cx="1121.0" cy="954.0" r="5.3"/><circle cx="1193.6" cy="964.7" r="5.3"/><circle cx="1145.0" cy="996.3" r="5.3"/><circle cx="1156.3" cy="994.1" r="5.3"/><circle cx="1176.6" cy="972.4" r="5.3"/><circle cx="1121.5" cy="946.0" r="5.3"/><circle cx="1184.9" cy="971.9" r="5.3"/><circle cx="1132.2" cy="985.0" r="5.3"/><circle cx="1175.5" cy="936.9" r="5.3"/><circle cx="1111.8" cy="996.8" r="5.3"/><circle cx="1136.0" cy="947.8" r="5.3"/><circle cx="1112.4" cy="993.6" r="5.3"/><circle cx="1140.1" cy="998.1" r="5.3"/><circle cx="1187.5" cy="949.6" r="5.3"/><circle cx="1136.5" cy="983.6" r="5.3"/><circle cx="1148.2" cy="988.7" r="5.3"/><circle cx="1191.3" cy="970.2" r="5.3"/><circle cx="1107.6" cy="996.8" r="5.3"/><circle cx="1172.3" cy="956.1" r="5.3"/><circle cx="1111.8" cy="1001.5" r="5.3"/><circle cx="1183.2" cy="960.4" r="5.3"/><circle cx="1181.1" cy="932.6" r="5.3"/><circle cx="1133.5" cy="1005.1" r="5.3"/><circle cx="1179.9" cy="960.4" r="5.3"/><circle cx="1181.4" cy="917.7" r="5.3"/><circle cx="1120.0" cy="1010.0" r="5.3"/><circle cx="1132.0" cy="965.0" r="5.3"/><circle cx="1145.6" cy="950.1" r="5.3"/><circle cx="1117.4" cy="961.0" r="5.3"/><circle cx="1121.6" cy="985.4" r="5.3"/><circle cx="1124.6" cy="958.1" r="5.3"/><circle cx="1147.5" cy="957.6" r="5.3"/><circle cx="1112.5" cy="953.7" r="5.3"/><circle cx="1139.8" cy="982.1" r="5.3"/><circle cx="1120.8" cy="962.3" r="5.3"/><circle cx="1192.0" cy="961.4" r="5.3"/><circle cx="1124.2" cy="978.0" r="5.3"/><circle cx="1180.4" cy="953.5" r="5.3"/><circle cx="1176.6" cy="940.7" r="5.3"/><circle cx="1125.2" cy="964.1" r="5.3"/><circle cx="1127.4" cy="961.7" r="5.3"/><circle cx="1128.7" cy="964.3" r="5.3"/><circle cx="1116.1" cy="980.5" r="5.3"/><circle cx="1112.6" cy="1009.8" r="5.3"/><circle cx="1172.1" cy="948.6" r="5.3"/><circle cx="1173.5" cy="978.2" r="5.3"/><circle cx="1172.2" cy="944.2" r="5.3"/><circle cx="1135.1" cy="972.0" r="5.3"/><circle cx="1141.1" cy="976.4" r="5.3"/><circle cx="1167.1" cy="979.8" r="5.3"/><circle cx="1132.1" cy="992.3" r="5.3"/><circle cx="1123.9" cy="1009.5" r="5.3"/><circle cx="1132.5" cy="971.7" r="5.3"/><circle cx="1171.9" cy="997.7" r="5.3"/><circle cx="1115.6" cy="984.3" r="5.3"/><circle cx="1165.7" cy="983.6" r="5.3"/><circle cx="1176.8" cy="977.9" r="5.3"/><circle cx="1171.5" cy="964.6" r="5.3"/><circle cx="1119.2" cy="956.8" r="5.3"/><circle cx="1179.9" cy="920.6" r="5.3"/><circle cx="1160.4" cy="1007.9" r="5.3"/><circle cx="1141.3" cy="969.2" r="5.3"/><circle cx="1123.6" cy="989.1" r="5.3"/><circle cx="1108.7" cy="988.2" r="5.3"/><circle cx="1121.4" cy="996.1" r="5.3"/><circle cx="1185.3" cy="949.1" r="5.3"/><circle cx="1144.9" cy="1002.1" r="5.3"/><circle cx="1133.0" cy="978.0" r="5.3"/><circle cx="1189.2" cy="985.0" r="5.3"/><circle cx="1148.0" cy="995.9" r="5.3"/><circle cx="1127.9" cy="969.3" r="5.3"/><circle cx="1183.9" cy="970.1" r="5.3"/><circle cx="1131.1" cy="1001.3" r="5.3"/><circle cx="1135.4" cy="1009.2" r="5.3"/><circle cx="1188.2" cy="979.7" r="5.3"/><circle cx="1149.1" cy="1009.0" r="5.3"/><circle cx="1119.0" cy="966.3" r="5.3"/><circle cx="1179.7" cy="924.1" r="5.3"/><circle cx="1167.1" cy="992.6" r="5.3"/><circle cx="1107.4" cy="1000.1" r="5.3"/><circle cx="1144.5" cy="945.3" r="5.3"/><circle cx="1137.0" cy="977.2" r="5.3"/><circle cx="1120.6" cy="1004.8" r="5.3"/><circle cx="1176.9" cy="933.7" r="5.3"/><circle cx="1177.5" cy="981.9" r="5.3"/><circle cx="1130.7" cy="883.2" r="5.3"/><circle cx="1138.1" cy="907.7" r="5.3"/><circle cx="1141.4" cy="904.3" r="5.3"/><circle cx="1127.3" cy="921.8" r="5.3"/><circle cx="1136.7" cy="920.5" r="5.3"/><circle cx="1144.8" cy="919.1" r="5.3"/><circle cx="1115.9" cy="941.3" r="5.3"/><circle cx="1143.4" cy="935.2" r="5.3"/><circle cx="1136.7" cy="945.3" r="5.3"/><circle cx="1105.1" cy="956.8" r="5.3"/><circle cx="1111.1" cy="952.1" r="5.3"/><circle cx="1117.2" cy="962.8" r="5.3"/><circle cx="1136.7" cy="960.8" r="5.3"/><circle cx="1132.7" cy="974.3" r="5.3"/><circle cx="1110.5" cy="985.0" r="5.3"/><circle cx="1116.5" cy="1002.5" r="5.3"/><circle cx="1107.1" cy="1012.6" r="5.3"/><circle cx="1119.2" cy="1013.3" r="5.3"/><circle cx="1144.8" cy="995.1" r="5.3"/><circle cx="1132.0" cy="1000.5" r="5.3"/><circle cx="1151.5" cy="1009.9" r="5.3"/><circle cx="1165.0" cy="929.2" r="5.3"/><circle cx="1175.7" cy="900.9" r="5.3"/><circle cx="1179.8" cy="909.0" r="5.3"/><circle cx="1178.4" cy="923.8" r="5.3"/><circle cx="1178.4" cy="945.3" r="5.3"/><circle cx="1171.7" cy="961.5" r="5.3"/><circle cx="1181.8" cy="965.5" r="5.3"/><circle cx="1172.4" cy="972.2" r="5.3"/><circle cx="1183.8" cy="979.0" r="5.3"/><circle cx="1163.6" cy="993.8" r="5.3"/><circle cx="1194.6" cy="959.5" r="5.3"/><circle cx="1175.7" cy="1001.8" r="5.3"/><circle cx="1167.6" cy="950.7" r="5.3"/><circle cx="1128.6" cy="981.7" r="5.3"/><circle cx="1275.8" cy="972.5" r="5.3"/><circle cx="1261.8" cy="954.8" r="5.3"/><circle cx="1261.0" cy="988.2" r="5.3"/><circle cx="1255.7" cy="966.5" r="5.3"/><circle cx="1260.5" cy="995.2" r="5.3"/><circle cx="1255.7" cy="983.5" r="5.3"/><circle cx="1277.2" cy="968.1" r="5.3"/><circle cx="1251.3" cy="940.2" r="5.3"/><circle cx="1269.4" cy="975.2" r="5.3"/><circle cx="1271.7" cy="988.5" r="5.3"/><circle cx="1268.5" cy="962.8" r="5.3"/><circle cx="1264.3" cy="975.6" r="5.3"/><circle cx="1248.7" cy="978.9" r="5.3"/><circle cx="1272.9" cy="942.6" r="5.3"/><circle cx="1292.2" cy="943.6" r="5.3"/><circle cx="1281.1" cy="975.0" r="5.3"/><circle cx="1287.9" cy="990.7" r="5.3"/><circle cx="1276.7" cy="959.6" r="5.3"/><circle cx="1269.7" cy="942.8" r="5.3"/><circle cx="1247.8" cy="928.6" r="5.3"/><circle cx="1256.1" cy="943.5" r="5.3"/><circle cx="1287.9" cy="931.3" r="5.3"/><circle cx="1249.1" cy="938.1" r="5.3"/><circle cx="1279.3" cy="940.3" r="5.3"/><circle cx="1284.1" cy="966.7" r="5.3"/><circle cx="1269.7" cy="971.2" r="5.3"/><circle cx="1261.2" cy="976.6" r="5.3"/><circle cx="1261.4" cy="950.3" r="5.3"/><circle cx="1253.5" cy="954.2" r="5.3"/><circle cx="1285.3" cy="984.1" r="5.3"/><circle cx="1252.5" cy="995.3" r="5.3"/><circle cx="1263.2" cy="1014.7" r="5.3"/><circle cx="1261.2" cy="935.7" r="5.3"/><circle cx="1296.5" cy="971.5" r="5.3"/><circle cx="1247.5" cy="942.9" r="5.3"/><circle cx="1292.5" cy="954.9" r="5.3"/><circle cx="1268.6" cy="940.5" r="5.3"/><circle cx="1263.8" cy="999.9" r="5.3"/><circle cx="1283.7" cy="963.2" r="5.3"/><circle cx="1268.3" cy="978.8" r="5.3"/><circle cx="1256.3" cy="1001.9" r="5.3"/><circle cx="1247.4" cy="951.3" r="5.3"/><circle cx="1273.3" cy="1015.0" r="5.3"/><circle cx="1277.7" cy="955.8" r="5.3"/><circle cx="1243.8" cy="950.6" r="5.3"/><circle cx="1265.5" cy="971.9" r="5.3"/><circle cx="1271.6" cy="939.1" r="5.3"/><circle cx="1263.9" cy="940.6" r="5.3"/><circle cx="1284.4" cy="960.6" r="5.3"/><circle cx="1281.6" cy="958.1" r="5.3"/><circle cx="1253.3" cy="963.0" r="5.3"/><circle cx="1280.0" cy="988.1" r="5.3"/><circle cx="1287.1" cy="958.2" r="5.3"/><circle cx="1281.5" cy="978.4" r="5.3"/><circle cx="1244.5" cy="931.0" r="5.3"/><circle cx="1271.1" cy="955.5" r="5.3"/><circle cx="1284.1" cy="926.7" r="5.3"/><circle cx="1283.1" cy="952.5" r="5.3"/><circle cx="1252.5" cy="998.4" r="5.3"/><circle cx="1264.3" cy="1002.2" r="5.3"/><circle cx="1264.2" cy="979.4" r="5.3"/><circle cx="1265.0" cy="1012.0" r="5.3"/><circle cx="1272.6" cy="959.8" r="5.3"/><circle cx="1255.8" cy="951.3" r="5.3"/><circle cx="1253.3" cy="934.8" r="5.3"/><circle cx="1255.9" cy="936.2" r="5.3"/><circle cx="1271.7" cy="1011.9" r="5.3"/><circle cx="1284.9" cy="991.3" r="5.3"/><circle cx="1292.3" cy="968.2" r="5.3"/><circle cx="1276.5" cy="940.3" r="5.3"/><circle cx="1251.8" cy="950.7" r="5.3"/><circle cx="1287.7" cy="984.4" r="5.3"/><circle cx="1257.3" cy="1012.2" r="5.3"/><circle cx="1269.0" cy="998.8" r="5.3"/><circle cx="1267.1" cy="935.6" r="5.3"/><circle cx="1287.5" cy="976.0" r="5.3"/><circle cx="1260.0" cy="1008.4" r="5.3"/><circle cx="1264.8" cy="991.3" r="5.3"/><circle cx="1293.4" cy="960.6" r="5.3"/><circle cx="1280.0" cy="995.4" r="5.3"/><circle cx="1276.8" cy="934.0" r="5.3"/><circle cx="1279.5" cy="962.3" r="5.3"/><circle cx="1257.5" cy="1007.2" r="5.3"/><circle cx="1249.3" cy="988.2" r="5.3"/><circle cx="1265.1" cy="994.6" r="5.3"/><circle cx="1252.6" cy="943.4" r="5.3"/><circle cx="1252.0" cy="930.8" r="5.3"/><circle cx="1269.3" cy="986.7" r="5.3"/><circle cx="1248.4" cy="983.0" r="5.3"/><circle cx="1272.7" cy="932.6" r="5.3"/><circle cx="1272.1" cy="966.3" r="5.3"/><circle cx="1284.7" cy="988.5" r="5.3"/><circle cx="1251.2" cy="968.0" r="5.3"/><circle cx="1252.8" cy="928.3" r="5.3"/><circle cx="1256.3" cy="930.5" r="5.3"/><circle cx="1252.3" cy="979.6" r="5.3"/><circle cx="1276.6" cy="1011.4" r="5.3"/><circle cx="1292.4" cy="983.1" r="5.3"/><circle cx="1247.2" cy="936.7" r="5.3"/><circle cx="1268.9" cy="1015.8" r="5.3"/><circle cx="1281.1" cy="947.5" r="5.3"/><circle cx="1277.0" cy="1008.6" r="5.3"/><circle cx="1249.0" cy="990.1" r="5.3"/><circle cx="1241.1" cy="946.2" r="5.3"/><circle cx="1265.7" cy="1008.1" r="5.3"/><circle cx="1284.6" cy="933.9" r="5.3"/><circle cx="1275.2" cy="994.0" r="5.3"/><circle cx="1288.0" cy="952.1" r="5.3"/><circle cx="1241.4" cy="935.0" r="5.3"/><circle cx="1260.2" cy="968.7" r="5.3"/><circle cx="1271.7" cy="994.8" r="5.3"/><circle cx="1280.0" cy="930.7" r="5.3"/><circle cx="1293.7" cy="947.9" r="5.3"/><circle cx="1273.6" cy="978.6" r="5.3"/><circle cx="1259.4" cy="971.8" r="5.3"/><circle cx="1247.3" cy="923.5" r="5.3"/><circle cx="1267.6" cy="923.2" r="5.3"/><circle cx="1269.2" cy="946.5" r="5.3"/><circle cx="1276.7" cy="946.2" r="5.3"/><circle cx="1269.1" cy="1011.5" r="5.3"/><circle cx="1249.6" cy="975.3" r="5.3"/><circle cx="1289.1" cy="935.1" r="5.3"/><circle cx="1256.6" cy="954.2" r="5.3"/><circle cx="1257.1" cy="998.1" r="5.3"/><circle cx="1288.9" cy="946.9" r="5.3"/><circle cx="1291.6" cy="974.0" r="5.3"/><circle cx="1261.5" cy="979.5" r="5.3"/><circle cx="1284.3" cy="938.0" r="5.3"/><circle cx="1295.1" cy="958.0" r="5.3"/><circle cx="1263.2" cy="983.3" r="5.3"/><circle cx="1284.0" cy="970.0" r="5.3"/><circle cx="1292.0" cy="927.1" r="5.3"/><circle cx="1256.9" cy="988.1" r="5.3"/><circle cx="1280.4" cy="928.4" r="5.3"/><circle cx="1288.5" cy="954.4" r="5.3"/><circle cx="1245.7" cy="959.5" r="5.3"/><circle cx="1291.7" cy="963.7" r="5.3"/><circle cx="1277.6" cy="980.3" r="5.3"/><circle cx="1263.2" cy="936.0" r="5.3"/><circle cx="1289.6" cy="987.7" r="5.3"/><circle cx="1295.0" cy="967.3" r="5.3"/><circle cx="1279.3" cy="1002.8" r="5.3"/><circle cx="1245.7" cy="972.5" r="5.3"/><circle cx="1277.2" cy="990.5" r="5.3"/><circle cx="1259.0" cy="964.1" r="5.3"/><circle cx="1257.2" cy="992.3" r="5.3"/><circle cx="1259.2" cy="926.6" r="5.3"/><circle cx="1273.7" cy="982.7" r="5.3"/><circle cx="1287.9" cy="970.4" r="5.3"/><circle cx="1281.2" cy="982.6" r="5.3"/><circle cx="1281.4" cy="956.1" r="5.3"/><circle cx="1268.3" cy="983.7" r="5.3"/><circle cx="1295.8" cy="948.3" r="5.3"/><circle cx="1293.0" cy="978.6" r="5.3"/><circle cx="1260.6" cy="992.5" r="5.3"/><circle cx="1253.7" cy="988.5" r="5.3"/><circle cx="1247.6" cy="930.2" r="5.3"/><circle cx="1259.3" cy="938.2" r="5.3"/><circle cx="1269.5" cy="968.7" r="5.3"/><circle cx="1243.6" cy="942.9" r="5.3"/><circle cx="1259.4" cy="999.4" r="5.3"/><circle cx="1287.8" cy="978.4" r="5.3"/><circle cx="1248.8" cy="954.1" r="5.3"/><circle cx="1263.0" cy="931.0" r="5.3"/><circle cx="1251.4" cy="974.8" r="5.3"/><circle cx="1281.2" cy="950.6" r="5.3"/><circle cx="1261.7" cy="960.5" r="5.3"/><circle cx="1245.0" cy="967.8" r="5.3"/><circle cx="1276.8" cy="952.5" r="5.3"/><circle cx="1259.2" cy="1003.0" r="5.3"/><circle cx="1263.7" cy="963.5" r="5.3"/><circle cx="1247.9" cy="994.7" r="5.3"/><circle cx="1251.9" cy="959.9" r="5.3"/><circle cx="1251.4" cy="971.9" r="5.3"/><circle cx="1263.3" cy="928.5" r="5.3"/><circle cx="1268.1" cy="1007.8" r="5.3"/><circle cx="1255.1" cy="927.1" r="5.3"/><circle cx="1243.3" cy="956.5" r="5.3"/><circle cx="1265.2" cy="946.2" r="5.3"/><circle cx="1255.9" cy="946.3" r="5.3"/><circle cx="1280.8" cy="992.1" r="5.3"/><circle cx="1243.9" cy="948.3" r="5.3"/><circle cx="1292.9" cy="940.5" r="5.3"/><circle cx="1275.9" cy="1004.7" r="5.3"/><circle cx="1264.0" cy="966.9" r="5.3"/><circle cx="1272.9" cy="963.2" r="5.3"/><circle cx="1251.0" cy="983.3" r="5.3"/><circle cx="1260.0" cy="1016.0" r="5.3"/><circle cx="1280.6" cy="942.6" r="5.3"/><circle cx="1249.2" cy="964.6" r="5.3"/><circle cx="1268.1" cy="990.9" r="5.3"/><circle cx="1296.0" cy="951.9" r="5.3"/><circle cx="1265.4" cy="954.1" r="5.3"/><circle cx="1261.4" cy="942.9" r="5.3"/><circle cx="1243.0" cy="962.1" r="5.3"/><circle cx="1295.6" cy="976.1" r="5.3"/><circle cx="1271.5" cy="976.5" r="5.3"/><circle cx="1296.4" cy="954.5" r="5.3"/><circle cx="1291.3" cy="971.4" r="5.3"/><circle cx="1257.6" cy="970.4" r="5.3"/><circle cx="1284.4" cy="980.7" r="5.3"/><circle cx="1289.2" cy="962.8" r="5.3"/><circle cx="1275.1" cy="987.3" r="5.3"/><circle cx="1273.1" cy="1006.7" r="5.3"/><circle cx="1255.9" cy="962.9" r="5.3"/><circle cx="1267.6" cy="995.5" r="5.3"/><circle cx="1267.0" cy="959.3" r="5.3"/><circle cx="1260.1" cy="1011.6" r="5.3"/><circle cx="1281.6" cy="936.0" r="5.3"/><circle cx="1284.7" cy="931.6" r="5.3"/><circle cx="1265.2" cy="986.4" r="5.3"/><circle cx="1283.2" cy="944.2" r="5.3"/><circle cx="1292.9" cy="936.7" r="5.3"/><circle cx="1279.9" cy="968.1" r="5.3"/><circle cx="1251.4" cy="1002.1" r="5.3"/><circle cx="1271.6" cy="947.4" r="5.3"/><circle cx="1273.0" cy="951.4" r="5.3"/><circle cx="1288.1" cy="923.6" r="5.3"/><circle cx="1285.7" cy="923.4" r="5.3"/><circle cx="1275.7" cy="943.9" r="5.3"/><circle cx="1261.7" cy="948.0" r="5.3"/><circle cx="1252.6" cy="947.4" r="5.3"/><circle cx="1271.1" cy="990.4" r="5.3"/><circle cx="1243.8" cy="923.3" r="5.3"/><circle cx="1268.7" cy="951.4" r="5.3"/><circle cx="1264.6" cy="943.2" r="5.3"/><circle cx="1265.4" cy="952.3" r="5.3"/><circle cx="1280.2" cy="998.2" r="5.3"/><circle cx="1249.2" cy="967.4" r="5.3"/><circle cx="1288.2" cy="939.0" r="5.3"/><circle cx="1247.1" cy="947.9" r="5.3"/><circle cx="1260.8" cy="983.2" r="5.3"/><circle cx="1265.4" cy="960.5" r="5.3"/><circle cx="1277.6" cy="927.5" r="5.3"/><circle cx="1285.5" cy="948.5" r="5.3"/><circle cx="1256.6" cy="974.7" r="5.3"/><circle cx="1273.1" cy="999.7" r="5.3"/><circle cx="1272.5" cy="936.5" r="5.3"/><circle cx="1243.9" cy="976.0" r="5.3"/><circle cx="1267.9" cy="927.3" r="5.3"/><circle cx="1288.1" cy="943.9" r="5.3"/><circle cx="1295.7" cy="963.4" r="5.3"/><circle cx="1243.3" cy="938.8" r="5.3"/><circle cx="1248.0" cy="972.5" r="5.3"/><circle cx="1275.8" cy="1014.9" r="5.3"/><circle cx="1255.1" cy="996.3" r="5.3"/><circle cx="1243.1" cy="926.2" r="5.3"/><circle cx="1268.9" cy="954.1" r="5.3"/><circle cx="1276.0" cy="931.6" r="5.3"/><circle cx="1276.2" cy="982.1" r="5.3"/><circle cx="1289.1" cy="926.6" r="5.3"/><circle cx="1291.6" cy="951.2" r="5.3"/><circle cx="1253.4" cy="992.1" r="5.3"/><circle cx="1275.6" cy="964.4" r="5.3"/><circle cx="1288.7" cy="968.0" r="5.3"/><circle cx="1269.7" cy="1004.3" r="5.3"/><circle cx="1283.1" cy="974.4" r="5.3"/><circle cx="1261.1" cy="931.3" r="5.3"/><circle cx="1279.2" cy="970.4" r="5.3"/><circle cx="1256.9" cy="939.4" r="5.3"/><circle cx="1272.8" cy="928.4" r="5.3"/><circle cx="1243.8" cy="935.8" r="5.3"/><circle cx="1269.7" cy="929.9" r="5.3"/><circle cx="1272.4" cy="1003.5" r="5.3"/><circle cx="1257.6" cy="960.6" r="5.3"/><circle cx="1292.4" cy="932.0" r="5.3"/><circle cx="1255.9" cy="978.9" r="5.3"/><circle cx="1277.0" cy="999.2" r="5.3"/><circle cx="1247.4" cy="958.7" r="5.3"/><circle cx="1272.0" cy="970.2" r="5.3"/><circle cx="1284.5" cy="954.1" r="5.3"/><circle cx="1277.7" cy="974.0" r="5.3"/><circle cx="1244.6" cy="922.4" r="5.3"/><circle cx="1268.1" cy="921.9" r="5.3"/><circle cx="1288.3" cy="921.9" r="5.3"/><circle cx="1257.7" cy="927.9" r="5.3"/><circle cx="1291.0" cy="929.5" r="5.3"/><circle cx="1277.4" cy="933.3" r="5.3"/><circle cx="1245.7" cy="939.9" r="5.3"/><circle cx="1257.7" cy="936.6" r="5.3"/><circle cx="1292.7" cy="939.3" r="5.3"/><circle cx="1272.5" cy="947.5" r="5.3"/><circle cx="1249.0" cy="953.0" r="5.3"/><circle cx="1289.4" cy="951.9" r="5.3"/><circle cx="1257.7" cy="966.1" r="5.3"/><circle cx="1269.2" cy="966.7" r="5.3"/><circle cx="1290.5" cy="968.9" r="5.3"/><circle cx="1249.5" cy="972.7" r="5.3"/><circle cx="1258.8" cy="982.0" r="5.3"/><circle cx="1270.3" cy="982.0" r="5.3"/><circle cx="1251.7" cy="988.5" r="5.3"/><circle cx="1287.2" cy="990.7" r="5.3"/><circle cx="1261.0" cy="995.1" r="5.3"/><circle cx="1283.4" cy="996.2" r="5.3"/><circle cx="1261.5" cy="1016.9" r="5.3"/><circle cx="1275.7" cy="1016.9" r="5.3"/></g>
<line x1="1095.7" y1="1011.3" x2="1331.6" y2="1011.3" stroke="#ff0080" stroke-width="3"/>
</svg>
</body></html>
